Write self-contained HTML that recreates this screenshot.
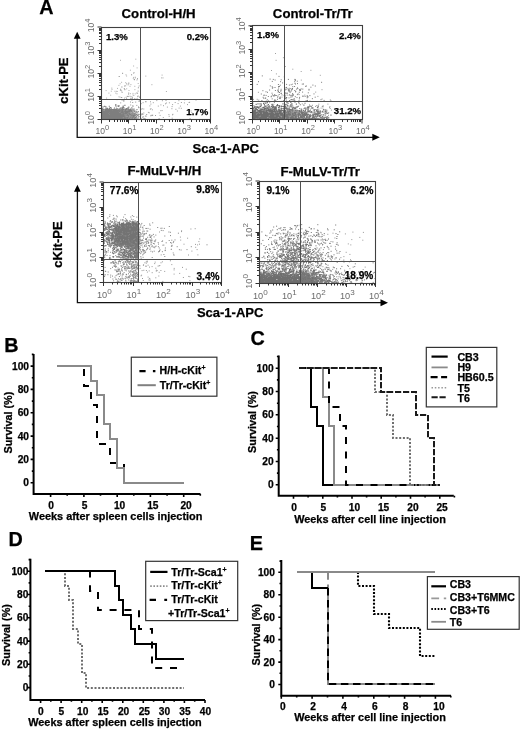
<!DOCTYPE html>
<html><head><meta charset="utf-8"><title>Figure</title>
<style>html,body{margin:0;padding:0;background:#fff;}svg{display:block;}</style>
</head><body>
<svg width="520" height="730" viewBox="0 0 520 730" font-family="'Liberation Sans', Arial, Helvetica, sans-serif">
<rect width="520" height="730" fill="#fff"/>
<text x="39.2" y="13.8" font-size="19.8" font-weight="bold" stroke="#000" stroke-width="0.25">A</text>
<text x="4.2" y="351.8" font-size="19.8" font-weight="bold" stroke="#000" stroke-width="0.25">B</text>
<text x="250.6" y="345.2" font-size="19.8" font-weight="bold" stroke="#000" stroke-width="0.25">C</text>
<text x="8.6" y="545.8" font-size="19.8" font-weight="bold" stroke="#000" stroke-width="0.25">D</text>
<text x="249.8" y="549.5" font-size="19.8" font-weight="bold" stroke="#000" stroke-width="0.25">E</text>
<path d="M77.2 36.8 V137.3 H374.8" fill="none" stroke="#111" stroke-width="1.3"/>
<path d="M77.2 31.8 L73.8 38.8 L80.6 38.8 Z" fill="#000"/>
<path d="M379.8 137.3 L372.3 133.8 L372.3 140.8 Z" fill="#000"/>
<path d="M125.1 118.9h0M119.6 114.4h0M102.3 115h0M102.1 118.9h0M126.4 118.9h0M116.5 115.5h0M113.2 118.7h0M108 114.9h0M114.3 111.2h0M119.4 118.4h0M129.8 117.8h0M121.3 115.1h0M120.1 111.7h0M115.5 114.7h0M108.2 117.2h0M121 118.1h0M113.7 118.6h0M115.1 114.3h0M121.1 113.3h0M106.2 112h0M125.4 118.7h0M128 116.1h0M128.1 118.6h0M124.3 111.8h0M115.9 118.2h0M129.2 117.9h0M111.4 114.5h0M118.8 118.5h0M106.4 118.9h0M130.5 116.8h0M120.2 112h0M102.1 118.9h0M111.1 117.4h0M116.2 118.5h0M110.5 112.6h0M112.2 118.7h0M130.2 118h0M102.1 113.7h0M121.5 117.6h0M107.6 111.2h0M107.7 113.2h0M117.5 118.5h0M128.4 116.3h0M127.9 112.8h0M108.5 116.8h0M134.6 113.6h0M125.6 112.2h0M112 117.6h0M120.2 118.8h0M109.7 117.6h0M125.7 118.9h0M110.6 111.4h0M107.4 114.2h0M126 110.8h0M128.9 118.9h0M126.8 117.7h0M118.2 115.7h0M109.6 113.2h0M130.1 118h0M102.6 114.3h0M111 113.7h0M112 118.9h0M126.3 117.7h0M126.2 118.6h0M102.1 117.7h0M129.6 118.6h0M104.7 106.4h0M122.2 115.9h0M127.1 116.4h0M114.8 118.8h0M128.8 118.5h0M114 110.5h0M131.5 118.3h0M118.7 113.9h0M119.9 115.9h0M103.8 118.5h0M124.3 117.4h0M126.6 117.1h0M125 116.3h0M116.6 116.8h0M108.3 117.6h0M103.5 117.1h0M115.2 117.9h0M123.6 116.8h0M131.4 111h0M104.5 112.8h0M126.9 110.5h0M131.5 111.1h0M129.3 111.7h0M106.5 115.7h0M108.5 113.7h0M130.2 114.3h0M125.6 118.2h0M102.2 114.6h0M111.4 116.6h0M108.7 115.4h0M118.5 114.1h0M119.5 118.9h0M121.8 114.5h0M113 118.9h0M131 117.8h0M103.5 117.6h0M126 117.7h0M125.1 117.3h0M125.3 109.5h0M106.4 112.7h0M117.3 113.2h0M111.2 117.4h0M121.8 111.6h0M108.9 109.5h0M123.1 112.6h0M113.9 109.4h0M123.8 118.6h0M110.5 110.2h0M118.2 113.5h0M109.7 118.9h0M113.7 118.9h0M118.3 117.4h0M116.6 116.6h0M123.5 109.4h0M115.1 111.5h0M112.2 117.8h0M123.9 118.9h0M124.6 117.2h0M117.4 118.9h0M111.4 114.8h0M110 118.9h0M120.5 116.9h0M102.1 116.1h0M126 114.2h0M122.7 117.5h0M129 116.6h0M111.5 114.1h0M113.3 115.8h0M126.5 115h0M122.2 115.8h0M119 114.5h0M130 111.2h0M118.3 118.9h0M133.9 114.7h0M114.5 112.7h0M122.2 115.6h0M115.6 112.3h0M120.6 114.4h0M107.3 116.7h0M124.6 115.9h0M106.2 115.6h0M124.2 117h0M106.3 117.5h0M127.6 112.1h0M102.3 113h0M113.5 116.8h0M106.8 113.5h0M126.9 109.3h0M108.8 118h0M111.5 117.7h0M121.5 118.8h0M115.2 117.5h0M103 117.1h0M121.1 109.5h0M111 118.3h0M104.1 117.5h0M112 118.6h0M117.6 111.4h0M110.7 107.6h0M123.7 116.2h0M117.6 115.3h0M123.1 113.9h0M105.5 111.6h0M112 111.3h0M130.2 111.7h0M109.1 116.4h0M102.3 118.9h0M119.9 112.8h0M128.4 118.9h0M129.9 116h0M116 114.6h0M113 116.1h0M121.3 116.3h0M122.4 117h0M128.5 110.6h0M104 114.6h0M128.9 114.8h0M112.5 118.6h0M132.7 118.7h0M103.9 114.2h0M105.1 114.8h0M125.3 116.6h0M110.7 118h0M128.1 114.4h0M129 115.6h0M121 112.9h0M105.9 114.5h0M104.2 118.3h0M119.6 118.9h0M111.3 118.9h0M105.6 116.1h0M103.4 114.5h0M124.9 109.4h0M127.2 111.2h0M116.1 111.8h0M122.3 118.9h0M126.7 116h0M126.8 118.9h0M117.1 117.6h0M121.7 115h0M104.5 116.3h0M116.1 111.8h0M106.3 118.9h0M125.1 115.7h0M126.3 113.3h0M120.3 112.6h0M130.3 109.1h0M107.1 112.8h0M115.8 112h0M117.7 114.3h0M126.7 118.8h0M102.1 116.5h0M128.5 110.8h0M116.8 111.7h0M127.2 116.9h0M115.6 116.8h0M128.6 110.2h0M117.2 108.8h0M127.5 112.5h0M134.4 115.6h0M123.6 118.9h0M114.2 114.5h0M113 117.9h0M131 116h0M115.8 104.6h0M113.5 112.6h0M128.5 118.9h0M105.1 117.1h0M108.5 115.3h0M124.7 118.2h0M129.2 115.5h0M128.1 118.4h0M113.2 117h0M114.8 117.2h0M129.9 113.1h0M120.1 110h0M125.2 118.9h0M126.7 115h0M128.3 116.5h0M126.4 117.9h0M115 112.3h0M124.6 116.7h0M113.7 111.1h0M107.9 118.3h0M106.9 115.1h0M128.2 117.6h0M109.3 117.9h0M107.5 115.6h0M106.5 112.3h0M103.1 118.8h0M119.4 110.2h0M115.2 117.8h0M103.9 117.8h0M117.2 118.9h0M126.1 116.6h0M102.1 118.1h0M120.4 116h0M115.9 118.3h0M105.4 118.7h0M103.7 112.9h0M110.3 118.4h0M112.6 112.9h0M120.4 118.9h0M110.4 115.8h0M119.3 113.2h0M124.7 115.8h0M117.2 112.1h0M116.8 113.7h0M106.4 114.4h0M109 117.3h0M112.7 115h0M116.6 112h0M102.3 114.9h0M105.8 118h0M130.1 116h0M134.9 117h0M104.8 116h0M120 118.9h0M128.5 112.8h0M117.1 114.7h0M118.1 115.4h0M103 117.7h0M121.1 117.4h0M115.6 118.9h0M128.8 112.7h0M124.3 118.3h0M111.4 116.5h0M127 116.6h0M129.2 116.7h0M113.6 117.3h0M120.9 111.7h0M103.1 117.4h0M115 117.8h0M128.6 116h0M106.4 116.9h0M110.8 112.7h0M114.3 111.9h0M106.9 118.9h0M117.4 110.8h0M112 117.8h0M122.8 118.9h0M109.5 111.4h0M127.7 114.5h0M126.9 115.7h0M102.1 109.3h0M127.2 116.1h0M127.5 117.7h0M115.8 116.7h0M121 109.6h0M116.4 118.9h0M112.3 117.3h0M114.8 117h0M128.1 118.7h0M128.9 115h0M116.4 114.9h0M112.5 118.9h0M124.2 116.2h0M123.2 114.9h0M110.8 118.9h0M114.5 115.4h0M108.5 117.8h0M113.4 113.5h0M112.4 114.3h0M103.6 112.7h0M120.5 116.9h0M116.5 118.9h0M119.9 115.8h0M107.8 115.2h0M116.4 118.1h0M109.6 113.3h0M122.5 116.8h0M124.5 115.3h0M104.4 112.9h0M107.3 109.3h0M126.7 117.7h0M125.8 118.8h0M104.9 116.2h0M112 116.9h0M120.2 114.3h0M127.1 111.5h0M109.1 118.4h0M114.1 117.5h0M124.4 111h0M120.3 115.1h0M113.8 113.3h0M115.7 118.1h0M131.7 111.4h0M126.7 118.1h0M126.7 117.1h0M115.4 110.8h0M129.1 116h0M126.7 114.2h0M122 116.4h0M117.9 116h0M132.3 114.4h0M113 111.3h0M104.7 113.7h0M126.6 115.7h0M117.7 115.4h0M125 111.5h0M106 118.9h0M126.4 116.5h0M124.3 110.6h0M102.5 117.1h0M124.3 114h0M118.7 118.4h0M127.5 116.4h0M108.8 117.7h0M114.9 116.7h0M135.1 118.7h0M127.2 118.1h0M111.6 115.7h0M126.2 118.8h0M119.9 115.1h0M129.3 117.4h0M104.9 118.9h0M129.8 112.6h0M127.4 117.9h0M131.2 118.8h0M122.8 118.9h0M107.3 118.4h0M111.8 117.8h0M120.5 117.1h0M125.4 117.3h0M104.4 114h0M121.2 110.2h0M113.2 115.9h0M117.2 109.3h0M114.8 111.8h0M114.6 112.5h0M117.2 113.2h0M110.1 115.5h0M114.2 117.1h0M120.9 112.3h0M112.2 116.9h0M102.1 116.3h0M110 116.4h0M125.7 114.5h0M104.8 112.8h0M120.7 113.2h0M128.2 116.4h0M117.5 112.7h0M113.2 110.9h0M107 113.2h0M119 117.4h0M107.3 112.3h0M128.4 118.4h0M120.3 115.9h0M116.9 114.2h0M118.3 118h0M102.1 114.2h0M115.2 114.5h0M129 114.2h0M107.9 114.3h0M127.1 118.8h0M103.2 118.9h0M129.2 118.9h0M102.1 118.8h0M116.8 116.6h0M107.4 117h0M114.1 118.8h0M119.3 118.9h0M106.4 118.5h0M125.9 118.3h0M109.5 117.3h0M113.8 118.4h0M122.2 117.6h0M129.6 116.6h0M113.3 116.2h0M111.2 118.8h0M126.3 115.5h0M108.3 110.4h0M124.9 118.2h0M126.1 118.4h0M133.7 116.4h0M111.3 118.7h0M106.2 118.9h0M128.3 117.1h0M105.3 117h0M106.3 116.3h0M116.8 110h0M120.5 117.4h0M116.4 111.9h0M111.4 114.2h0M132.3 113.5h0M111 118.4h0M118.6 117.3h0M125.1 118.9h0M111.5 113.2h0M104.2 117.1h0M126.2 118.9h0M126.5 115.7h0M125.4 113.5h0M115.7 118.3h0M103.6 118.9h0M106 117.2h0M111.5 115.6h0M119.4 111.6h0M117.5 112.5h0M131.6 118.9h0M103 117.3h0M110.4 118.6h0M129.2 115.1h0M113.1 115.9h0M119.8 118.9h0M110.6 117.8h0M115.1 116.4h0M102.9 116.6h0M129.4 115.5h0M117.5 117.7h0M112.5 116h0M125.8 111.6h0M130.7 118.9h0M102.6 116.2h0M120.9 111.2h0M115.3 114.2h0M106.1 117.7h0M121.7 114.9h0M119.9 113.2h0M106 115.6h0M128 116.8h0M102.1 118.9h0M133.2 117.2h0M130.4 118.9h0M127.8 113.1h0M116.9 117.1h0M116.8 111.3h0M123.4 112.2h0M102.1 118.3h0M119.7 116h0M113.8 118.9h0M104.2 116.3h0M106.6 118.8h0M128.6 118.5h0M126.9 116.8h0M123.1 114.2h0M103.3 117.1h0M113.8 118.4h0M114.5 114.7h0M106.1 111.3h0M114.8 115.4h0M128.5 118.2h0M114.1 118.4h0M103 111.6h0M110.4 114.4h0M122.1 118.9h0M110.2 117.2h0M114.3 115h0M110.3 109.6h0M119.2 117h0M115 114.2h0M107.6 117.7h0M123.2 111.6h0M127.7 113.9h0M118 113h0M131.9 118.8h0M120.1 115.1h0M126.6 113.2h0M124.8 114h0M121.3 117.1h0M124 117.4h0M121.9 111.7h0M113.6 118.1h0M121 109.7h0M105.9 117.8h0M131.9 115.5h0M110.8 118.4h0M111.5 115.8h0M115.3 117.8h0M117.2 118.6h0M105.3 115.9h0M114.7 114.2h0M126.7 114.9h0M102.7 117.5h0M124.1 116.1h0M121.5 114.1h0M120 116.7h0M111.2 115.9h0M107.2 117.3h0M102.1 113.6h0M103 111h0M113.5 117.9h0M125.4 114.4h0M117.8 111.4h0M120.6 116h0M108.3 117.4h0M105.6 117h0M102.2 116.9h0M128.7 113.6h0M116.5 118.4h0M126.2 115.2h0M125.1 118.8h0M103.4 116.7h0M104.4 118.3h0M103.9 116.4h0M129 115.8h0M117.1 113.8h0M118.7 118h0M129.2 114.6h0M109 118.6h0M114.2 117.3h0M122.6 114.7h0M120.5 113.4h0M103.3 118.6h0M133.5 114.4h0M123.4 118.8h0M130.2 110.6h0M121.8 113.9h0M128.6 118.7h0M114.3 113.4h0M128.2 117.5h0M118.3 118.6h0M127.3 115.4h0M120.4 116h0M104.7 116h0M106 118.2h0M131.3 117.3h0M108.9 116.6h0M127.6 118.7h0M109.3 118.9h0M124 118.9h0M124.4 118.4h0M111.4 108.2h0M107.9 115.7h0M123.5 118.8h0M128.7 116.2h0M120.5 111.4h0M110.2 115.1h0M118.4 117.9h0M122.9 115.5h0M133.1 113.1h0M127.7 115h0M108.2 117.7h0M118 115h0M113.2 115.8h0M127.8 117h0M119.2 116.9h0M118 118.5h0M105.8 117.7h0M127.7 118.9h0M126.8 112.5h0M123.8 117.4h0M133 118.5h0M128.5 117.8h0M123.8 116.8h0M120.2 118.6h0M111.2 118.3h0M110.1 118.9h0M125.1 117.7h0M125.9 109h0M121 111.6h0M130.2 116.1h0M114.9 111.3h0M108.2 118.9h0M116.9 110.6h0M110.3 117.3h0M107.5 116.5h0M110.1 116.1h0M113.9 115.5h0M107.9 118.3h0M128 114h0M106.8 118.2h0M133.1 117.4h0M102.1 116.6h0M130 118.9h0M108.4 117.5h0M126.7 116.9h0M128.7 113.5h0M114.7 109.6h0M105.3 113.2h0M116.5 112.1h0M109.3 110.9h0M116.3 117.1h0M114.8 117.1h0M102.9 117.8h0M112.5 111.9h0M124.6 118.8h0M105.1 116.8h0M106.9 117.3h0M129.3 118.9h0M116 118.5h0M103 110.3h0M123.8 118.9h0M114.7 117.9h0M117.2 109.8h0M125.3 111.9h0M114.7 114h0M125 113.5h0M122.4 108.6h0M118.8 117.2h0M103.6 114h0M103.2 114.5h0M127.8 115.9h0M126.2 118.5h0M125 113.7h0M120.6 118.8h0M128.2 114.4h0M102.2 114.9h0M122.1 114.9h0M119.2 111.9h0M120 113.6h0M127.4 117.2h0M102.5 113.6h0M102.1 117h0M127.7 115.6h0M115.7 113.8h0M129.1 115.1h0M116.5 115.1h0M127.6 112.4h0M123 116.3h0M112.9 118.9h0M131.7 115.9h0M113.5 114.2h0M115.5 113.1h0M128.7 115.9h0M125.7 118.6h0M126.1 115.5h0M102.1 118.7h0M129.2 116.9h0M124.3 110.5h0M112.2 114.9h0M123.3 116.4h0M114.6 118h0M126.5 109.8h0M103.8 114.9h0M113.4 113.8h0M113.6 118.7h0M129.6 118.8h0M128.5 117.1h0M124.9 118.9h0M127.8 112.3h0M123 113h0M105.3 112.7h0M103.6 118.9h0M126.8 115.6h0M126.9 110.1h0M118.5 114.6h0M106.4 116.7h0M109.2 115h0M128.6 116.8h0M104.4 116.3h0M121.7 118.9h0M119.2 118.6h0M125.5 112.3h0M117.8 115.8h0M120.8 111.2h0M124.1 117h0M122 109.2h0M126.9 113.6h0M122.7 118.5h0M129.3 114.1h0M124.4 113.1h0M128.6 116.5h0M123.2 115.3h0M106.2 117.8h0M134.8 114.7h0M119.4 115.3h0M121.8 111.8h0M119.1 118.3h0M108.6 114.7h0M104.5 114.7h0M102.7 115h0M104.2 118.8h0M124.2 118.4h0M126.8 113.1h0M105.9 113.3h0M124.5 113.3h0M123.7 115.5h0M134.5 118.9h0M117.5 111.9h0M109.3 114.9h0M134.2 117h0M128.3 114.7h0M126.1 115.7h0M104.1 113.6h0M109.1 118.9h0M126.5 118.5h0M124.8 113.5h0M120.1 118h0M109.7 118h0M107.3 117h0M125.7 111.5h0M122.8 118.4h0M113.3 116.1h0M124.4 118.7h0M124.8 117h0M117.3 117.7h0M136 118.7h0M128.8 118.4h0M126.3 117h0M124.1 113.3h0M131.5 117.9h0M111 115.7h0M109.2 109.6h0M123.9 117.2h0M111.1 113.7h0M129.6 118.9h0M125.1 111.9h0M103.4 112.3h0M127.4 115.1h0M123.3 110.1h0M107.5 118.4h0M123.4 118.9h0M109.9 117.6h0M110.1 113.5h0M108.8 116.2h0M110.8 114.5h0M131.9 114.4h0M126.1 109.3h0M116 113.7h0M104.5 118.8h0M108.2 117.3h0M121.3 118.7h0M106.2 111.7h0M118.6 118.9h0M109.5 115.3h0M129.5 117.2h0M126.8 116h0M115 115.9h0M104 114.2h0M108 109.2h0M103.5 115.9h0M107.6 118.8h0M118.7 116.2h0M110 116.9h0M107.3 118.6h0M102.1 115.2h0M106 118.9h0M123.2 116.1h0M107.6 115.3h0M102.1 111h0M103 115.4h0M105.9 111.9h0M116.6 112.6h0M118.1 116.9h0M108.7 118h0M111.6 116.4h0M128.7 116.4h0M110.5 118.9h0M118.4 118.9h0M122.8 112h0M133.4 116.8h0M126.1 118.7h0M131.3 116.2h0M103.2 114.8h0M107.3 118.9h0M102.1 113.7h0M126.7 114.4h0M118.4 117.9h0M126.2 115.1h0M121.1 113.6h0M104.9 118.9h0M104.6 117.8h0M107.6 115.5h0M115.6 110.5h0M127.7 117.4h0M122.7 114.7h0M128.4 118.9h0M103 118.5h0M117.9 117.4h0M103.5 118.9h0M112.4 117.7h0M115.4 113.6h0M108.3 111.1h0M128.4 111.7h0M111.8 112.2h0M106.5 114.4h0M117.1 113.7h0M126.1 117.2h0M113.8 114.4h0M131.8 107.9h0M123.8 116.9h0M105.8 115.3h0M109.3 116.7h0M103.9 117.2h0M107.5 114.4h0M107.2 118.2h0M102.1 116h0M108.3 112.3h0M128.6 118.9h0M115 110.5h0M113.6 114.1h0M118.9 112.7h0M124.8 115h0M105.2 117.6h0M108.5 117.6h0M127.8 115.7h0M112.9 109.6h0M107 116h0M127.3 111.1h0M124 114.6h0M129.1 117.3h0M129 113.4h0M106.5 117.5h0M123.5 118.2h0M127.5 115.8h0M130 118.6h0M102.1 115.4h0M124.7 113h0M110 115.1h0M127.6 117.6h0M131.3 116.7h0M128.3 118.9h0M116.1 109.5h0M108.4 118.9h0M126.5 114.3h0M110 117.7h0M115.9 118.9h0M123.2 118.9h0M133.2 115.9h0M134.8 110.7h0M125.7 117.9h0M128.2 117.7h0M126.1 118.2h0M109.2 117h0M103.3 118.9h0M121.3 116.4h0M114 116.1h0M128.6 118.4h0M123.3 111h0M134.5 118.9h0M123.9 116.5h0M128.1 118.2h0M126.6 116.7h0M104.9 113.7h0M123.6 117.7h0M111.4 117.6h0M125.4 112.9h0M119.2 108.8h0M120 116.2h0M115.9 116.9h0M126.3 118.9h0M110.7 115.5h0M120.1 117h0M106 113.1h0M119.9 110.7h0M117 114h0M114.5 108h0M122.2 113.6h0M129 118.9h0M103.2 116.4h0M121.1 115.1h0M108.1 116.2h0M108 115h0M128.3 118.3h0M116.6 118h0M121.8 116.2h0M102.7 116.4h0M102.6 118.1h0M131.3 116.3h0M109.7 113.4h0M113.3 117.7h0M108.3 109.7h0M129.4 114.7h0M121.3 115.9h0M103.8 112.6h0M107.2 118.1h0M133.4 115.4h0M121.7 118.9h0M131.3 118.9h0M127.8 117.8h0M104.8 116h0M131 109.3h0M112.2 118.5h0M105.9 118.2h0M115.5 114.7h0M128.2 117.3h0M120.1 115.7h0M129.1 117.9h0M126.3 109.3h0M109.4 118.8h0M124.1 114.1h0M124.8 117.4h0M128.8 116.9h0M112.9 116.7h0M106.1 118.2h0M123.6 116.7h0M105.7 117.4h0M120.1 113.4h0M104.2 117.3h0M124.1 113.6h0M128.9 117.3h0M111.1 116.9h0M127.1 116h0M126.4 108.6h0M126.5 117.8h0M128.4 116.8h0M117.3 115.8h0M118.7 115.5h0M117.5 112.3h0M115.4 112.4h0M116.6 115.3h0M114.6 118.1h0M115.9 118h0M126.2 112.5h0M125.8 118.6h0M118 114.8h0M110.3 116.1h0M122.3 112h0M103.3 117.6h0M122.9 115.1h0M106.3 118.9h0M119.6 118.9h0M130.4 117h0M126.7 114.9h0M116.6 115.6h0M113.6 114.9h0M128 114.9h0M113.7 114.7h0M111.2 115.6h0M118 115.4h0M123.7 116.5h0M103.3 115.4h0M103.5 117.8h0M125.4 118.9h0M129.3 116.8h0M124.5 115.2h0M113.3 114.3h0M102.1 113.6h0M122.8 118.9h0M106 114.2h0M123.9 117.9h0M123.4 117h0M129.3 117h0M108.6 118.9h0M125.3 118.1h0M127.1 118.8h0M118 112h0M127.5 115.3h0M104.1 114.8h0M123.9 117.4h0M128.9 116.4h0M122.7 118.4h0M104.2 115.4h0M131.5 118.9h0M107.3 113.8h0M123 118.6h0M120.9 118.4h0M124.6 118.8h0M113.5 114.5h0M124.2 113.3h0M119.4 116.7h0M124.5 110.3h0M123.4 110.8h0M124.7 112.8h0M128.9 116.7h0M119.8 117h0M133.7 113.3h0M123.7 118.9h0M124.3 111h0M124.9 114.6h0M122.9 116.5h0M105.4 118.3h0M129 114.2h0M124.5 118h0M122.2 111.4h0M125.3 115.4h0M134.6 116.5h0M115.2 115h0M126.1 117.2h0M112.6 118.9h0M113.2 117.5h0M104.1 114h0M124.3 118.1h0M105.4 109.9h0M126.5 118.9h0M124 117.5h0M119.7 118.8h0M103.2 118.7h0M132.8 118.5h0M106.1 108.3h0M116.1 114.1h0M127.2 111.4h0M110.6 118.1h0M130.3 118.4h0M133.2 115.7h0M122.9 118.7h0M113.3 115h0M120.5 113.8h0M110.1 115.9h0M129.8 118.1h0M119.2 117.6h0M117.6 117.3h0M105.2 111.9h0M114.7 110.4h0M123.2 106.1h0M113.2 114h0M118.6 114.5h0M108.8 118.2h0M116.2 118.9h0M112.1 116.6h0M116 117h0M130.9 115.3h0M121.1 118.9h0M103.7 114.4h0M112.7 118h0M132.1 110.9h0M104.8 118.2h0M104.5 116.8h0M128.3 116.8h0M128 116.1h0M112 118.9h0M129.1 113h0M105.7 117.8h0M122.9 116.3h0M127.9 117.7h0M114.6 113.2h0M127.7 117.6h0M121.4 118.8h0M126.7 118.5h0M114.4 110.4h0M121.7 118.3h0M124.2 118.5h0M126.7 113.2h0M105.6 116.2h0M127.5 118.1h0M119.4 117.7h0M113 110.7h0M122.2 113.8h0M114.2 117.3h0M126.5 114.1h0M134.2 117.4h0M102.1 115.1h0M102.1 118.3h0M125.8 116.3h0M129.2 116.6h0M105.4 117.1h0M105.4 118.7h0M102.4 114.4h0M135.7 114.9h0M113.2 118.6h0M125.4 112.5h0M126.8 111.4h0M124.3 118.8h0M116 118.9h0M125.6 111.7h0M129 116.7h0M120.3 115.7h0M102.3 115.6h0M102.1 118.9h0M114.7 112.5h0M119 117.7h0M130.9 118.9h0M116.6 113.3h0M102.1 118.6h0M127.8 116.9h0M123 116.4h0M114.1 112.4h0M131.7 118.3h0M124.6 116.4h0M132.7 109.2h0M108.5 117.4h0M102.1 112.8h0M130.7 109.9h0M103.7 118.1h0M106.5 116.9h0M113.9 115.6h0M117.6 109.7h0M126.3 118.9h0M115.8 112.5h0M131.5 114.4h0M102.1 117.9h0M102.3 115.9h0M114.9 115h0M107 116.9h0M123.3 117.8h0M118.6 116.9h0M104 114.9h0M104.9 115.7h0M109.4 113h0M105 115.4h0M107 116.8h0M105.8 117.6h0M133 115.2h0M119.8 118.9h0M112.5 118.2h0M128 117.3h0M127.2 118.6h0M127.3 117.6h0M102.7 116.1h0M123.8 116.8h0M104.8 115.6h0M107 115.5h0M124.3 117.2h0M112.2 115.6h0M121.9 115.9h0M123.3 118.4h0M122.9 111.2h0M116.1 116.4h0M128.2 107.6h0M106.2 113.8h0M103 115.7h0M134.9 113.1h0M125.2 112.1h0M127.1 115h0M122.4 107.2h0M106.7 110.7h0M127.6 111.5h0M127.3 112.7h0M121.2 115.9h0M103.5 114.6h0M128.1 117.9h0M128 118.9h0M108.8 110h0M116.2 114.7h0M111.3 116.9h0M123.9 114.9h0M104.3 118.6h0M132.9 118.9h0M112.3 118.4h0M125 115.2h0M114.2 112.7h0M126.9 112.2h0M109.3 116.7h0M125.1 110.6h0M123.6 115.2h0M114.9 110.8h0M116.6 108.9h0M125.4 116h0M114.6 116.4h0M115.2 116.1h0M116.6 118.1h0M131.2 113.1h0M127.7 115.2h0M102.1 117.8h0M116.9 113.2h0M110.6 109.6h0M129.1 117.9h0M123.3 113.3h0M124.2 113.1h0M128.5 112.3h0M125.4 115.1h0M110.1 116.4h0M116.7 115.5h0M102.1 117.4h0M113.8 109.2h0M123.3 118.2h0M138.5 114.9h0M107.5 116.4h0M122.8 116.9h0M108 118.9h0M116.8 109.4h0M119.2 118.5h0M125.9 118.9h0M127.3 118.9h0M102.1 118.1h0M123.8 116.7h0M125.9 117.1h0M124.7 117.3h0M105.6 112.9h0M106.2 109.5h0M134.7 113.6h0M129.2 111.9h0M108.2 118.9h0M129.1 116.7h0M121 116.4h0M128.5 115.8h0M115.1 116h0M115.8 118.2h0M113.3 116.6h0M127.4 117.9h0M112.4 118.3h0M116.1 117.7h0M122.4 111.1h0M119.2 117.4h0M125.3 115.1h0M108.3 112h0M133 116.1h0M108.6 116h0M107.2 116.7h0M105.5 113.2h0M120.3 113.2h0M114 116.8h0M112.5 116.8h0M123.1 116.8h0M111.3 113.6h0M113.9 115h0M128.4 118.3h0M115.7 115.3h0M128.4 117.9h0M122.9 111.9h0M125 114.6h0M103.8 115.5h0M136.4 116.5h0M112.2 117.5h0M107 117.3h0M116.2 117.9h0M110 114.9h0M102.2 116.6h0M109.8 117.3h0M120 114.8h0M106.9 116.4h0M112.1 117.1h0M105.9 117.3h0M114.3 117.8h0M121.4 118.5h0M108.2 118.8h0M127.8 115.6h0M129.4 114.4h0M105.2 117.3h0M125.8 114.3h0M120.9 115.5h0M103.7 109.4h0M129 114.8h0M130 118.7h0M127.5 118.5h0M114.5 117.8h0M107.9 118.4h0M120 111.6h0M110 117.1h0M117.8 118.9h0M114.4 116.6h0M107.7 117.5h0M108.5 118.6h0M115.5 114.2h0M134.7 118.1h0M114.8 117.3h0M104.5 111.6h0M128.5 113.4h0M119.3 112.8h0M118.2 118.2h0M116.5 115.4h0M127.1 108.6h0M110.8 115h0M128.5 118.5h0M128.3 116.4h0M123 118.1h0M127 112.5h0M126.8 111h0M116 116.5h0M105.5 118.4h0M128.2 118h0M120 110.3h0M102.9 113.7h0M126.5 118.9h0M108.3 118.3h0M124.9 118.9h0M127.3 118.9h0M114.5 113.7h0M118.2 117.5h0M128.2 116.5h0M112.8 113.6h0M105.4 116.2h0M126.1 116.3h0M103.7 115.2h0M105.4 114.8h0M102.6 118.7h0M105.9 106.9h0M110.1 113.9h0M118.9 118.1h0M119.8 117.3h0M116.1 110.4h0M127.4 112.6h0M114.4 114.8h0M109.8 116.3h0M107.2 118.9h0M123.3 118h0M115.1 116.7h0M133.6 110.1h0M113.9 111.8h0M122.9 117.4h0M130.8 114.2h0M134 115.2h0M109.9 113.5h0M105.6 117.8h0M106.3 118.9h0M116.5 118.9h0M128.7 114.7h0M128.7 118.5h0M103.7 117h0M106.9 114.4h0M125.7 110h0M104.4 113.9h0M126.9 118.9h0M126.5 114.6h0M117.6 117.1h0M113.7 113.8h0M109 110.9h0M127.9 114.8h0M127.7 111.9h0M120 113.5h0M108.3 114.4h0M120.2 116.4h0M127 112.7h0M128.5 118h0M128.6 118.5h0M117.4 114h0M125.1 118.9h0M103 114.6h0M124.3 117.3h0M124 117.3h0M112.3 117.4h0M109.3 115.9h0M103.5 112.9h0M116.6 114.7h0M104.6 116.1h0M112 118.9h0M114 118.2h0M115.8 105.9h0M118.3 116h0M114 116.4h0M122 118h0M112.2 118.7h0M125.2 117.1h0M127.5 115.9h0M119.3 118.9h0M102.1 112.9h0M103.5 113.6h0M132.3 114.7h0M112.8 118h0M113.1 112h0M106.8 117.4h0M136.1 117.4h0M129.7 116.1h0M116 114.8h0M127.5 118.2h0M121 112.3h0M123.2 117h0M111 110.8h0M129.5 117.8h0M118 114.6h0M116.6 114h0M128.1 111.1h0M125.3 112.2h0M110.3 112.9h0M107.6 113.5h0M117.3 116.7h0M122.9 110.6h0M131.8 114.7h0M125.3 116.1h0M123 114.5h0M103.1 115.4h0M102.7 115h0M128.7 116.8h0M120.4 118.9h0M120.1 115.8h0M124.3 116.5h0M129.8 115.7h0M111.7 117.9h0M120.6 110.5h0M112.2 115.3h0M102.1 116.2h0M112.6 116.8h0M115.8 116.7h0M129.1 118.9h0M127.5 118.9h0M131.4 118.9h0M102.1 109.8h0M106.8 118.7h0M110.9 113.3h0M110.9 114.5h0M106.1 110.6h0M107.5 117.7h0M108.4 116.9h0M117.4 116.3h0M104.2 114.4h0M107.9 113.3h0M123.5 114.5h0M122.4 111.3h0M109.7 117.2h0M110.7 118.9h0M118.1 111.4h0M102.3 115h0M104.2 112.6h0M116.8 112h0M120.4 118.9h0M118.3 118.9h0M120.1 113.1h0M115.5 112.6h0M114.1 116.5h0M103 115.2h0M114.6 113.9h0M129.8 116.4h0M131.4 118.9h0M126.2 112.7h0M125.8 114.2h0M113.3 117.2h0M118.1 115.3h0M104.3 114.6h0M120.4 114h0M126 114.9h0M117.9 114.9h0M106 111.3h0M111.1 115.5h0M128.3 112.8h0M109.5 117.4h0M118.4 114.9h0M118.8 115h0M118.3 117.9h0M127 118.3h0M126.9 113.2h0M125.9 118.9h0M112.7 113.5h0M105.9 112.7h0M104.1 117.5h0M130.2 111h0M109.8 117.5h0M122.4 113.3h0M124.4 118.9h0M132.8 118.9h0M119.9 113h0M122.6 110.5h0M103.1 106.8h0M111.3 117.7h0M106.7 112.8h0M118.5 114.7h0M125.8 113.3h0M108.2 117h0M110.5 118.9h0M125.5 118.9h0M126.8 115.5h0M106 118.4h0M102.4 115.7h0M124.5 116.4h0M118.6 118.9h0M117.7 118.9h0M118.7 118.3h0M125.6 116.4h0M104.3 112h0M118.1 105.8h0M119.5 117.5h0M109.7 118.1h0M130.4 115.8h0M113.6 113.9h0M131.6 116.8h0M114.3 115.5h0M106.8 112.1h0M123.6 117.4h0M102.9 118.8h0M126.4 118.3h0M113.7 114.7h0M116.3 118.6h0M127.4 114.8h0M111.4 117.7h0M115.4 117.2h0M115.6 112.9h0M107.3 116.3h0M103.2 114.8h0M120 118.9h0M128.3 114h0M106.2 117.7h0M113.2 118.9h0M127.5 117h0M127.3 118.9h0M103.1 116.3h0M113.4 113h0M123.8 118.1h0M127.4 113.8h0M117.2 109.3h0M109.3 113h0M109.7 118.1h0M104.7 118.9h0M121.2 115.5h0M122.8 114.4h0M103.4 118.9h0M124.5 115.1h0M103.8 117.6h0M107.1 117.1h0M129.2 115.8h0M120.5 112.3h0M129.1 114.7h0M113.6 115.7h0M122.2 113.6h0M127.9 110.9h0M111.8 118.9h0M106.4 116.3h0M134.9 117.2h0M107.9 118.9h0M114.5 113.3h0M126.9 111.2h0M104.3 114.2h0M110.4 117.3h0M109.6 117.2h0M127.9 117.4h0M126.1 114.7h0M127.3 118.9h0M116.1 114.2h0M115.9 118.7h0M104.3 117.7h0M113.2 116.8h0M118.9 112.8h0M130.6 114.2h0M127.7 117.5h0M119.4 116.8h0M131.1 116.8h0M124 113.5h0M125.8 118.3h0M115.3 118.2h0M103.5 118.6h0M128.7 116.4h0M116.9 118.7h0M120.8 115.6h0M102.3 112.6h0M102.5 112h0M112.1 118.9h0M106.6 118.3h0M104.8 117.1h0M122.7 114.1h0M123.1 116.8h0M107.9 115.7h0M121.4 118h0M128.3 118.9h0M122.4 116.4h0M124.5 114h0M128.4 110.8h0M116.9 118.9h0M111.1 118.6h0M123.9 117.7h0M118.3 106.5h0M125.8 111.3h0M102.9 114.4h0M125.8 111.7h0M125.8 118.8h0M127.3 112.5h0M121.1 109.8h0M122.3 110.5h0M106.6 118h0M122.2 116.7h0M129.1 116.7h0M127.1 114.8h0M107.3 117.4h0M124.8 118.2h0M120.8 116.9h0M127 114.6h0M109.3 106.2h0M111.8 117.1h0M114.4 118.9h0M122.7 117.3h0M113.5 117.4h0M103.1 115.5h0M111.5 109.6h0M113.8 114.6h0M128.4 117.1h0M117.7 113.1h0M117.3 118.9h0M111.4 118h0M109.8 118.5h0M111.2 116.8h0M128.5 118.9h0M117.6 117.6h0M112.4 113.7h0M111.4 117.4h0M131.7 118.9h0M102.1 115.2h0M109.5 118.4h0M122.7 109.7h0M104.7 113.5h0M115 117.5h0M120.4 108h0M131.7 113.1h0M118.9 118.9h0M102.1 115h0M110.8 118.9h0M120.6 117.3h0M132 113.4h0M127.3 117.5h0M112.9 118.4h0M102.7 116h0M116.9 117.6h0M126.8 115.3h0M125.6 116.7h0M132.3 118.9h0M123.6 118.4h0M128 118.9h0M102.1 117.8h0M115.7 116.9h0M124.5 112.2h0M115 118.9h0M119.7 117.8h0M103.7 116.5h0M133.6 116.2h0M111.5 116.7h0M116.2 117.9h0M116.5 113.9h0M114.8 118.9h0M104.6 116.2h0M122.4 115.5h0M122.1 118.3h0M115.5 116h0M103.3 116.3h0M126.8 116.2h0M129.3 110.2h0M128.6 114.3h0M128.7 115h0M104.6 113h0M128.8 116.8h0M110.2 117.8h0M114 116.2h0M110.4 115.5h0M108.3 118.2h0M103.2 112.4h0M118.8 118.9h0M105.6 111.7h0M135.7 115.1h0M122.8 113.4h0M106 116.9h0M129.7 116.5h0M127.2 118.7h0M127.2 113.5h0M125 115.7h0M128.4 117.1h0M111.2 116.5h0M126.1 115.8h0M103.4 112.5h0M105.8 113.2h0M124 107.9h0M118.5 112h0M123 118.9h0M129.8 117.4h0M106.9 118.9h0M116.3 111.5h0M116.7 115.9h0M128.4 118.7h0M110.4 115.8h0M127.2 109.5h0M125.9 109.2h0M103.5 111.3h0M102.1 114.4h0M114.7 113.7h0M102.1 117.4h0M128.3 118.9h0M110.1 114.1h0M129.3 118.8h0M131.8 115.7h0M115.5 116.8h0M124 113.1h0M122.7 114.7h0M105.7 117.8h0M103.2 110.2h0M132.1 116.7h0M126.2 115.3h0M125.3 118.9h0M122.1 118.5h0M124.1 116.6h0M111.5 118.3h0M116.7 114.6h0M118.1 117.3h0M112 116.4h0M106.3 115h0M121.8 114.2h0M102.6 118.9h0M114 114h0M121.3 118h0M115.2 109.9h0M118.9 118.4h0M122.8 113.3h0M127.5 118.9h0M119.3 115.5h0M119.5 118.4h0M104.2 118.9h0M125.4 118.2h0M107.4 117h0M104.5 118.5h0M116 118.6h0M124.5 113.3h0M117 117.1h0M108.4 117.4h0M123.7 111.6h0M111.7 110.6h0M126.6 111.3h0M127.6 117.6h0M118.9 117.7h0M119.4 112.8h0M114.9 116.5h0M129 111h0M128.8 117.1h0M104.1 114.8h0M115.3 116.4h0M115.2 118.9h0M110.1 114.5h0M131 118.8h0M127.9 117.6h0M122.7 111.9h0M105.9 117.5h0M128.5 118.9h0M110.7 115.6h0M118.5 113.3h0M114.5 115.7h0M115.7 112.9h0M124.6 118.9h0M121.7 112.8h0M119.4 115.2h0M126.4 118.8h0M121.6 116.8h0M110.3 117.4h0M114.3 115.8h0M110.2 112.6h0M129.8 115.8h0M126.4 113.3h0M120.2 117.2h0M103.2 111.2h0M132.9 118.9h0M112.4 117.5h0M102.1 117h0M108.9 111.1h0M117.3 118.9h0M114.7 117.2h0M115 115.1h0M108.8 112.2h0M132.5 117.2h0M113.9 118.9h0M111.3 118.9h0M114.6 117.6h0M115.5 116.2h0M126.5 116.5h0M127.6 112.1h0M118 118.9h0M105.4 114.7h0M117.6 111h0M131.2 118.9h0M114.4 117.7h0M130.1 118.9h0M125 117.1h0M117.5 112.1h0M115.9 118.1h0M127.6 116.7h0M112.6 118.7h0M128.2 114.6h0M110.7 118.4h0M105 118.9h0M126.1 115.8h0M105.8 115.6h0M121.4 116.4h0M109.8 115.2h0M109.3 117.8h0M120.9 112.9h0M122.8 117.7h0M118.6 118.1h0M102.1 118.6h0M117.3 118.4h0M117 117.6h0M130.1 118.5h0M111.6 117.4h0M110.6 110.1h0M119.1 118.3h0M124.7 117.9h0M127.3 117.4h0M127.7 116.2h0M126 117.2h0M118.9 117.1h0M115.3 116h0M103.4 118.9h0M113.4 118.9h0M132.7 112.4h0M112.8 117.9h0M121.2 118.1h0M128.9 115.7h0M113.6 118.5h0M118.5 118.5h0M117.7 116.5h0M113.3 115.6h0M129.8 117.1h0M114.6 118.3h0M125 116.9h0M126.5 117.9h0M104.6 118.6h0M134.4 117h0M120.1 118.9h0M102.3 114.7h0M114 116.1h0M124.3 114.7h0M114.4 116.8h0M117.9 118.1h0M109.3 110.7h0M116.1 116.7h0M131.5 118.9h0M106.2 114h0M107.6 118.9h0M103.6 112.3h0M110 109.6h0M133.7 117.6h0M125.8 118.1h0M119.2 114.2h0M114.3 118.7h0M119.2 116.1h0M116.3 110.7h0M116.7 110.8h0M118.5 116.1h0M130.2 114.3h0M123.8 100.9h0M128.8 116.5h0M112.7 117.8h0M102.5 117.3h0M110.2 113.2h0M111.1 117.3h0M125.6 118.1h0M102.5 116.6h0M102.1 113.9h0M126.1 113.2h0M122.3 110.7h0M112.7 111.2h0M110 111h0M125.1 114.8h0M116.7 111.3h0M118.1 118.3h0M128 117.3h0M123.3 117.4h0M114.5 118.9h0M127.5 115.7h0M124.7 118.5h0M124.6 118.1h0M126.6 111.4h0M107.6 112.6h0M124.9 105.3h0M113 112.2h0M124 113.6h0M110.4 112.9h0M125.6 114.4h0M128.6 110.3h0M126.4 117.8h0M107 115h0M124.5 117.8h0M105.1 118.9h0M126.8 117.4h0M121.3 116.8h0M122.3 111h0M129 118.9h0M124.2 114.3h0M126.1 115.2h0M113.3 115h0M103.2 118.3h0M121.8 116.7h0M112.2 115.9h0M120 111.2h0M108.4 114.8h0M136.8 114.3h0M122.7 116.2h0M127.5 118.7h0M129 113.5h0M131.8 117.8h0M123 118.5h0M110 118.9h0M129.8 114.8h0M123.2 114.7h0M119.3 111.7h0M126 112.1h0M104.4 111.5h0M112.5 113.8h0M105.4 116.9h0M102.1 112h0M125.8 118.6h0M120.9 118.9h0M124 118.9h0M128.2 117.6h0M116.9 116.4h0M116.9 118.7h0M116.6 117.9h0M122.8 118.9h0M102.5 115.7h0M114.3 114.5h0M112.7 118.1h0M103.7 111.4h0M119.7 117h0M113.4 116.6h0M102.1 116.4h0M115.1 117.4h0M102.1 115.4h0M107.6 117.4h0M127.9 117.5h0M102.1 114.3h0M111.9 118.9h0M104 117.1h0M105.1 117.9h0M115.7 112.1h0M104.7 118.8h0M124.8 114.4h0M118.2 118.9h0M129 118.8h0M109.3 109.8h0M112.2 116.9h0M126.1 117.3h0M105.9 118.8h0M105.4 118.2h0M105.1 118.9h0M112.3 118.9h0M115.7 113.5h0M121.8 114.2h0M103.9 115h0M126.9 118.1h0M128.5 109.2h0M123.4 110.9h0M119 114.6h0M118.1 116.9h0M129 118.6h0M127 115.4h0M110.1 114.5h0M102.9 116.7h0M102.1 118h0M127.9 115.8h0M120.8 116.3h0M120 114.9h0M111.9 111.1h0M110.7 118.8h0M129.6 117.6h0M108.3 109.1h0M102.6 108.7h0M114.9 118.4h0M109.2 116h0M108.3 115.9h0M117.4 118.9h0M115.3 109.4h0M111.9 113.6h0M116.5 114.9h0M127.3 117.3h0M126.8 115.8h0M115.7 114.7h0M125.1 113.9h0M102.4 117.6h0M124.9 115h0M107.9 114.3h0M117.7 118.9h0M125.9 118.9h0M124.1 118.9h0M126.5 116.2h0M115.2 115.7h0M104.3 113.1h0M112.5 117.7h0M119.6 116.9h0M132.9 115.3h0M111.1 117.8h0M111.6 118.2h0M122.5 115.8h0M118.6 117.7h0M127.7 114.6h0M102.1 118.3h0M108 111.3h0M105.4 116.8h0M111.4 112.1h0M109.6 108.3h0M115.3 116.9h0M127.3 116.8h0M116.8 118.7h0M117.3 112.3h0M106.9 110.9h0M128.6 117.5h0M117.4 113.1h0M124.9 116.9h0M120 118.8h0M112.2 109.6h0M131.8 115.9h0M106.1 115.9h0M105 117.9h0M129.1 115.1h0M135.5 118.9h0M117.2 118.6h0M128.4 118.6h0M126.1 117.3h0M102.1 118.9h0M114.6 112.5h0M122.1 109.2h0M111.9 111h0M113.6 117.4h0M119.6 117.5h0M106.1 116.8h0M119.1 116.2h0M119.1 105.9h0M104.3 114.8h0M118.3 115.5h0M120.4 115.5h0M126 117.9h0M105.8 115h0M112.4 118.8h0M123.3 109.4h0M117.6 118.9h0M108.5 118.3h0M124.3 118.3h0M115.2 118.1h0M126.2 114.4h0M106.2 116.7h0M120.9 116.1h0M123.5 113.4h0M103 112.1h0M107.4 117.4h0M110.1 117.5h0M116.2 118.9h0M105.5 118.6h0M128 118.9h0M107.9 118.5h0M116.8 110.1h0M107.6 117.4h0M127.8 115.7h0M104.5 116.2h0M112.6 112.3h0M104.6 114.6h0M128.2 118.5h0M119 109.4h0M126.7 114.7h0M120.8 115.4h0M134.5 111.5h0M105 109.8h0M129.2 112.2h0M105.4 118.2h0M127.4 116.7h0M102.8 118.9h0M126.3 118.4h0M126.6 113.9h0M122.7 117.2h0M123.1 113h0M105.6 116.8h0M110.3 118.8h0M126.9 117.6h0M126.8 113.5h0M118.6 118.5h0M113 111h0M111.5 118.4h0M137.3 115.5h0M117.5 114.4h0M116.2 118.9h0M120.2 113.3h0M120.1 117.5h0M102.1 115.8h0M128.8 107h0M125.3 117.7h0M104 118.9h0M111.5 117.2h0M113.1 111.7h0M126.9 116.3h0M127.2 112.4h0M112.2 117.9h0M104.7 118.2h0M114.9 116.5h0M122.3 111.9h0M102.4 114.1h0M130.9 115.7h0M125.5 118.9h0M108.3 116.7h0M129 109.6h0M118.8 118.5h0M128 117.4h0M118.5 116.2h0M106.4 118.9h0M102.1 117.1h0M129.1 118.9h0M108.8 115.9h0M113.5 116.7h0M128.6 113.9h0M104.7 112.7h0M113.6 118.8h0M113.6 116.4h0M103.3 117.5h0M120.4 112.2h0M123.1 118.1h0M132.5 117.9h0M128.7 117.6h0M107.5 118.9h0M108 109.3h0M128.4 118.8h0M108.7 109.5h0M114.9 114.8h0M111.1 118h0M105.7 110.5h0M126.6 117.7h0M104.9 118.9h0M117.1 114.5h0M109.4 117.3h0M107.5 115.9h0M110.8 118.2h0M107.1 113.6h0M120.8 117.6h0M113.8 110.6h0M107.2 117.8h0M112.3 114.2h0M103.4 115.3h0M123.2 114.8h0M130.1 116.3h0M119.7 118.6h0M129.3 111h0M102.6 118.7h0M120.4 110.5h0M129.1 118h0M127.7 118.2h0M123.4 109.9h0M102.1 108.3h0M106.7 111.5h0M114.8 117.2h0M123 116.7h0M111.2 116.1h0M104.9 114.4h0M118.8 113.3h0M114.2 113.6h0M118.9 118.9h0M127.9 108.6h0M111.3 115h0M103.2 118.9h0M102.9 118.1h0M127.9 114.3h0M125.7 115.2h0M112.2 114h0M114 118.7h0M127.2 118.8h0M102.2 115.1h0M127.9 118.9h0M129.1 114.1h0M102.1 118.9h0M125.5 116.6h0M125.1 112.7h0M116.5 117.8h0M128.9 118.8h0M112 113.7h0M115.3 117h0M130.7 116.8h0M126.8 114.5h0M128.2 116.2h0M112.7 118.2h0M124.4 117.1h0M135.1 117.5h0M123.4 116.4h0M111.7 112.7h0M129.8 114.1h0M114.7 117.2h0M134.3 116.8h0M130 117h0M105.2 111.5h0M114.2 117.3h0M104 118.4h0M108.7 115.8h0M127.3 117.1h0M134.1 114.8h0M112.9 116.8h0M109.2 118h0M119.3 113.3h0M103.6 116.3h0M127.7 118.9h0M127.4 116.1h0M102.1 117.5h0M115.6 118.9h0M119.6 115h0M129.2 115.5h0M127.3 113.1h0M118.6 113.7h0M119.7 109.7h0M119 118h0M103.2 118.9h0M128.3 113.7h0M113.1 117.8h0M123.7 116.7h0M132.7 118.1h0M122.2 117.7h0M127.5 113h0M124 118.9h0M131.5 117.5h0M113.2 114.5h0M121.3 114.9h0M123.3 113.5h0M103.1 117.3h0M127 118.6h0M117.4 112.8h0M130 118.8h0M128.8 113.4h0M124.2 117.1h0M104.6 115.8h0M128.4 114.5h0M126.2 118.9h0M102.8 112.6h0M104.2 112h0M110.5 116.9h0M127.4 117.8h0M125.2 117.4h0M128.1 114.7h0M102.1 111h0M122.2 114.4h0M103.3 109.6h0M103 115.6h0M108.2 118.7h0M111.6 116.1h0M124.1 115.6h0M112.6 116.9h0M103.8 117.9h0M115.2 115.8h0M108.1 117.6h0M125.2 110.4h0M119.3 115.1h0M105.2 117.4h0M112.3 113.2h0M128 114.5h0M117 111.7h0M124.2 118.9h0M127 114.1h0M108.3 115.9h0M110.7 114.8h0M128.2 117h0M112.6 114.7h0M113.6 116.3h0M126 113h0M102.8 111.7h0M120.1 118.6h0M117.6 110h0M107.1 115.3h0M125.1 116.8h0M130.1 115.9h0M106.3 118.2h0M114.4 116.1h0M122.8 118.1h0M123.7 116.1h0M118.7 113.6h0M102.9 114.8h0M114 116.9h0M117.7 118.3h0M119.7 113.5h0M127.3 108.5h0M125.4 114.9h0M125.3 116.6h0M126.1 118.9h0M112.3 112.5h0M104.3 118.5h0M107.6 118.1h0M128 118.9h0M123.6 118.8h0M123 115.1h0M113.5 113.5h0M128 113.8h0M110 115h0M120.7 118.9h0M129 114.6h0M125.2 117.4h0M117 118.9h0M108.6 118.9h0M116.2 118.6h0M118 118.2h0M105.6 116.4h0M102.1 116.1h0M102.1 111h0M109.7 118.9h0M124.3 114.7h0M105.7 118.6h0M103.3 114.5h0M136.9 111.8h0M106.4 118.8h0M126.5 115.6h0M121.7 118.3h0M122.4 114.3h0M109.4 111.7h0M102.1 118.4h0M112.8 111.8h0M123.4 114.9h0M104.9 117.5h0M111.5 115.2h0M125.9 118.6h0M117.5 115.8h0M102.3 111.2h0M119.7 115.1h0M122.2 117.8h0M116 118.9h0M103.3 112h0M103.7 116h0M123.9 114.1h0M128.9 118.6h0M113 118.9h0M129.3 116.9h0M125.3 113.9h0M126.3 118.9h0M115.8 113.9h0M122.2 118.7h0M106.7 114.3h0M123.1 115.5h0M110.7 118.9h0M120.2 117.6h0M119.6 118.9h0M124.7 114.6h0M103.4 116h0M124.4 113.9h0M113.9 117.8h0M109.9 113.4h0M127.1 115.9h0M127.6 110.8h0M103.5 116.1h0M125.6 117.6h0M114.2 112.1h0M124.7 114.6h0M119.8 115.1h0M113.8 115.5h0M104 117h0M129.1 109.7h0M133 118.9h0M121.9 118.9h0M104.1 118.4h0M127.3 113.3h0M114.2 118.9h0M116.8 113h0M104.8 110.3h0M127.7 118.5h0M108 115.1h0M124.1 115.1h0M102.1 117.6h0M124.7 116.4h0M124 117.7h0M120 115.7h0M119.7 118.3h0M128.5 116.6h0M127.4 117.5h0M112.8 114.6h0M120 115.4h0M127.7 115.5h0M111.9 115.7h0M114 118.9h0M107 118h0M104.9 115.7h0M125.4 115.5h0M103.8 115.4h0M121.8 115.2h0M120.6 113h0M112.6 118.9h0M128 118.7h0M128.2 118.3h0M106.7 117.1h0M129 115.3h0M107.5 109.6h0M123.3 107.4h0M107 116.2h0M128.8 118.7h0M124.4 113.5h0M128.9 116.7h0M102.1 117.9h0M123.8 118.9h0M114.8 116.9h0M119.4 114.8h0M129.1 118.4h0M102.1 118.9h0M105.2 109.2h0M130 111.4h0M118.8 113.9h0M112.5 118.5h0M118.1 116.6h0M106.6 117.8h0M122.2 118.9h0M126.2 112.7h0M102.1 113.3h0M111.3 118.1h0M102.7 112.3h0M103.3 118.9h0M113.5 118.9h0M106.4 118.6h0M103.8 113.7h0M124.6 116.8h0M117.2 116.2h0M128.9 117.1h0M109 118.2h0M104.3 111.8h0M110.3 111.1h0M130.7 118.9h0M102.1 112.1h0M107.1 118h0M110.1 117.1h0M126.4 112h0M128.7 112h0M125.9 115.7h0M104.2 118.6h0M102.1 118.1h0M107.2 110.1h0M122.6 116.2h0M107.7 117.1h0M109.3 116.7h0M112 113.4h0M126.7 114.6h0M110 117.2h0M130.4 118.9h0M120.2 112.3h0M118.2 109.7h0M108.5 109.8h0M125.3 112.1h0M118.7 115.1h0M122.2 112.3h0M124.5 111h0M117.8 118.1h0M129 110h0M128.8 115.6h0M129.6 118.9h0M131.6 117.9h0M119.7 117.8h0M130.8 118.9h0M123.4 116.7h0M119.8 112h0M125.6 116.5h0M105.2 114.8h0M112.7 116.9h0M133.6 114.8h0M124.5 115.9h0M110 107.8h0M127.1 118.5h0M125.6 113.5h0M125.7 116.4h0M118.6 110.3h0M118.3 114.2h0M115 114.6h0M110 114.9h0M111 115.5h0M123.1 115.7h0M127.1 116.4h0M136.3 111.7h0M113 112h0M106.9 118.9h0M106.3 118.2h0M114.2 116.4h0M128.8 110h0M123.1 111.8h0M103.7 114.7h0M115.7 116.4h0M107.6 116.2h0M124.4 115.5h0M122.2 115h0M132 118.9h0M107.4 108.4h0M110.3 116.5h0M123.7 118.8h0M114.3 114.9h0M112 111h0M123 112.1h0M103.2 109.9h0M119.9 117.3h0M103.7 118.9h0M123.9 117.3h0M114.1 117.6h0M129.2 116.9h0M122.6 107.9h0M123.6 117h0M131.3 118.6h0M127.9 118.5h0M103.8 116.6h0M107.5 110.3h0M122.9 118.4h0M102.1 118.9h0M106 117.5h0M111 117.7h0M118.4 118.5h0M102.9 118.9h0M124.3 117.7h0M107.6 114.4h0M118.7 118.3h0M113.5 112.1h0M111.7 116.9h0M115.5 114h0M102.1 115.7h0M118.3 115.8h0M102.1 116.2h0M107 118.9h0M106.8 117.8h0M105 118.4h0M114.8 117.9h0M114.1 115.3h0M117.5 114.3h0M111.7 113.5h0M129.6 111.8h0M122.7 116.1h0M124.4 109.5h0M102.3 115.7h0M113.1 117h0M132.3 115.1h0M117.4 117.3h0M112.3 116h0M130.7 115.4h0M127.6 117h0M109.4 115h0M108.1 112h0M124 118.9h0M132.6 113h0M109.9 118.8h0M112.8 112h0M125.1 115.4h0M104.5 117.5h0M107.5 115.8h0M132.1 110.5h0M128.4 118.6h0M121.1 118.5h0M102.1 117.7h0M128.5 118.9h0M102.8 118.9h0M115.1 118.9h0M129.2 118.9h0M107 113.7h0M126.7 118.2h0M120.1 110h0M125.1 118.9h0M111.5 116.5h0M131.2 110.1h0M127 117.2h0M128.4 110.7h0M107.5 111.9h0M125.2 116.7h0M108.2 114.2h0M102.1 118.9h0M129.2 110.5h0M112.8 117.2h0M122.7 116.8h0M127.9 111.6h0M126.1 118.3h0M120.9 108.3h0M117.4 118.1h0M110.4 115.9h0M118.1 117.3h0M105.7 116.2h0M125.6 114.7h0M127.6 116.5h0M120.5 117.7h0M102.9 116.6h0M117.5 113.9h0M116.2 118.9h0M115.6 116.5h0M117.1 113.5h0M121.6 118.7h0M102.7 114.4h0M105.5 118.9h0M128.5 118.9h0M110.2 117.9h0M124.8 118.9h0M126.2 113.2h0M124.4 116h0M118.8 116.4h0M129.2 112.5h0M111.2 116.2h0M108 117.6h0M105.9 118.1h0M135.2 115.5h0M111.8 118.9h0M129.2 115h0M127.1 118h0M117.7 114.3h0M119.8 116.2h0M115.4 116.5h0M114.4 114.1h0M120.7 117.7h0M110 114.6h0M114.9 118.9h0M117.1 113.2h0M110.6 116.3h0M108.8 118.2h0M121.4 118.1h0M126.4 115.2h0M120.9 118.5h0M108.8 118.9h0M112.9 112.7h0M107.5 110.3h0M119.2 114.4h0M107.9 117.6h0M102.5 117.4h0" stroke="#7e7e7e" stroke-width="1.15" stroke-linecap="square" fill="none"/>
<path d="M133.4 113.9h0M132.2 111.6h0M121.9 107.6h0M138.5 118.9h0M130 116.4h0M126.9 118.9h0M143.3 116.8h0M135.6 118.9h0M133.3 114.3h0M141.7 114.2h0M137.2 109.6h0M136.4 118.3h0M133.3 109h0M134.5 109.1h0M126.5 116.1h0M135.2 118.8h0M138.5 117.1h0M139.2 114.4h0M126.7 110.4h0M138.8 116.7h0M132.7 102.5h0M128.3 96.4h0M135.8 113h0M130.3 115.5h0M135.4 115h0M139.1 101.5h0M129.1 116.9h0M132 118.7h0M139 116.6h0M120.7 102.9h0M138.9 107.8h0M126.2 114.7h0M127.5 116.3h0M130.7 105h0M132.2 116.3h0M132 100.1h0M126.6 98.3h0M125.3 115.2h0M131.9 109.9h0M138.5 111.5h0M137.3 118.4h0M134 117.6h0M138.1 115.1h0M128.5 108.6h0M130.6 113.5h0M116.4 107h0M133.9 113.4h0M140.4 109.5h0M133 110.8h0M138.9 114.3h0M117.5 108.9h0M137.1 117.2h0M134.6 116.8h0M133.9 111.5h0M135.5 113.2h0M131.8 117.2h0M140.8 115.7h0M132.8 112.2h0M124.9 114.8h0M127.9 113.7h0M141.2 118.4h0M129.1 112.5h0M132.2 113.9h0M138.1 91.1h0M127.6 108.3h0M141.9 114.2h0M135.7 111.9h0M146.7 114.5h0M136.6 112.7h0M130.1 117.1h0M129.5 115.6h0M139.3 100.6h0M131.6 118h0M136.8 116.2h0M130.5 102h0M129.9 116.7h0M124.5 109.7h0M128.7 114.3h0M126.5 116.8h0M138.8 107.5h0M136.4 109.8h0M134.1 114.3h0M125.3 116.8h0M135.2 113.6h0M130 96.2h0M131.3 114h0M132.6 113h0M124.1 110.7h0M129.5 117.1h0M149.2 112.8h0M135.7 102.1h0M124.2 112.8h0M128.7 107.5h0M142.7 117.2h0M136.8 105.4h0M143.4 118.9h0M123.7 110.9h0M138.5 106.9h0M132.1 115h0M132.5 106h0M131.2 116.4h0M128 110.1h0M120.8 111.1h0M132.5 98.8h0M128.6 118.1h0M119.9 112.5h0M140.2 118.4h0M123.3 117.8h0M144.9 118.9h0M137.8 114h0M128.8 118.9h0M135.5 114h0M121.9 113.7h0M137.8 112.4h0M122.1 100.2h0M131.5 113.9h0M133.3 106.1h0M140.3 116.8h0M130.7 118.5h0M131.1 112.4h0" stroke="#9a9a9a" stroke-width="1.0" stroke-linecap="square" fill="none"/>
<path d="M130.9 84.6h0M120.1 83.8h0M125 99.5h0M135.2 93.9h0M128.1 84.9h0M134.8 86.3h0M130.9 96.9h0M129 90.5h0M137.6 96.7h0M126 97.3h0M126.7 88.8h0M106.1 90.6h0M121.9 91.9h0M117.2 91.5h0M134.2 79.3h0M139.2 85.9h0M135.8 59.2h0M134 72.5h0M126.6 76h0M117 93.8h0M133.6 77.4h0M115 91.3h0M119 96.8h0M136.9 80h0M121.6 82.3h0M112 89.4h0M136.4 93h0M125.7 85.8h0M108.9 93.1h0M137.1 98.5h0M133 94.9h0M130.9 98.8h0M127 99.5h0M137.1 99.6h0M138.3 87.9h0M138.5 87.3h0M133.3 78.3h0M116.7 91.3h0M111.3 91.2h0M135.5 77.9h0M115.8 93.1h0M138.2 83.5h0M135.2 77.2h0M111.8 88.1h0M137.1 67.9h0M117 99.7h0M117.5 88.4h0M131.9 96.7h0M134.9 89.7h0M133.6 66h0M133.7 73.3h0M122.2 92.5h0M124.5 98.1h0M120.5 60.3h0M106.6 98.1h0M121.6 90.7h0M130.4 93.7h0M118.9 85.4h0M110.7 95.2h0M130 86.3h0M126 74.8h0M128.6 94.3h0M132.5 97.6h0M120.1 97.2h0M125.7 82.7h0M128.7 84.1h0M133 93.4h0M120.4 90.5h0M130.4 70.2h0M133.8 95.5h0" stroke="#b0b0b0" stroke-width="1.0" stroke-linecap="square" fill="none"/>
<path d="M121.7 97.5h0M127.3 96.4h0M137.5 78.8h0M134.4 79.7h0M119.2 76.5h0M122.6 73.3h0M137.6 93.2h0M121.9 87h0M124.3 88.7h0M138.1 96.1h0M128.8 83.1h0M128.7 93.1h0M131.6 74.8h0M131 98.8h0M134.8 98.8h0M139.5 97.1h0M124.9 89.7h0M120.7 89.3h0M126.7 83.9h0M124.7 86h0" stroke="#888" stroke-width="1.0" stroke-linecap="square" fill="none"/>
<path d="M145.8 101.6h0M152.7 115.2h0M142.9 114.5h0M145.4 116.1h0M141.4 109.1h0M156.8 100.6h0M142.4 108.8h0M152.3 115.5h0M181.4 102.5h0M152.4 109.8h0M155.5 115.5h0M159.1 118.6h0M148.4 112.4h0M168.9 114.6h0M191.8 112.6h0M144.3 118.4h0M180.4 106.1h0M150.5 101.8h0M158.3 106.1h0M169.4 102.8h0M166 100.5h0M160.9 104.9h0M142.4 113.8h0M160.8 110.7h0M141.2 103.7h0M162.4 100.7h0M179.1 108.1h0M150.9 104.1h0M153.3 102.7h0M167.4 107.1h0M178.9 100.7h0M150.4 109.2h0M143.1 102.7h0M172.6 104.6h0M145.1 118.9h0M175.9 109.3h0M151 108.7h0M189.1 102.5h0M143.8 109h0M171.9 108.7h0M162.1 110.6h0M146.2 116.1h0M151.3 115.3h0M163.5 105.7h0M172.2 118.2h0M149.9 105.9h0M143.8 113h0M172.9 114.3h0M152.4 115.4h0M160.1 115.4h0M177.4 111h0M181.3 108.3h0M178.1 103.6h0M159.2 112.9h0M187.5 104.6h0M172.1 106.6h0M184.7 99.9h0M175.2 102.5h0M150.8 115.8h0M196 100.1h0M184.4 102.9h0M190.1 118.6h0M172.5 114.8h0M189.6 102.3h0M191.1 110.9h0M169.2 116.3h0M165.5 103.8h0M163.3 117.5h0M145.9 101.8h0M166.4 103h0" stroke="#a0a0a0" stroke-width="1.0" stroke-linecap="square" fill="none"/>
<path d="M145.8 76.1h0M161.6 77.9h0M162.1 75.1h0M163 77.9h0M151.9 84.7h0M166.4 91.5h0" stroke="#aaaaaa" stroke-width="1.0" stroke-linecap="square" fill="none"/>
<rect x="101.5" y="27.5" width="109" height="92" fill="none" stroke="#404040" stroke-width="1.1"/>
<path d="M140.5 27.5V119.5M101.5 99.5H210.5" stroke="#505050" stroke-width="1" fill="none"/>
<path d="M101.5 119.5v4M101.5 119.5h-4M109.5 119.5v2.5M101.5 112.5h-2.5M114.5 119.5v2.5M101.5 108.5h-2.5M117.5 119.5v2.5M101.5 105.5h-2.5M120.5 119.5v2.5M101.5 103.5h-2.5M122.5 119.5v2.5M101.5 101.5h-2.5M124.5 119.5v2.5M101.5 99.5h-2.5M126.5 119.5v2.5M101.5 98.5h-2.5M127.5 119.5v2.5M101.5 97.5h-2.5M128.5 119.5v4M101.5 96.5h-4M136.5 119.5v2.5M101.5 89.5h-2.5M141.5 119.5v2.5M101.5 85.5h-2.5M145.5 119.5v2.5M101.5 82.5h-2.5M147.5 119.5v2.5M101.5 80.5h-2.5M149.5 119.5v2.5M101.5 78.5h-2.5M151.5 119.5v2.5M101.5 76.5h-2.5M153.5 119.5v2.5M101.5 75.5h-2.5M154.5 119.5v2.5M101.5 74.5h-2.5M156.5 119.5v4M101.5 73.5h-4M164.5 119.5v2.5M101.5 66.5h-2.5M169.5 119.5v2.5M101.5 62.5h-2.5M172.5 119.5v2.5M101.5 59.5h-2.5M175.5 119.5v2.5M101.5 57.5h-2.5M177.5 119.5v2.5M101.5 55.5h-2.5M179.5 119.5v2.5M101.5 53.5h-2.5M180.5 119.5v2.5M101.5 52.5h-2.5M182.5 119.5v2.5M101.5 51.5h-2.5M183.5 119.5v4M101.5 50.5h-4M191.5 119.5v2.5M101.5 43.5h-2.5M196.5 119.5v2.5M101.5 39.5h-2.5M199.5 119.5v2.5M101.5 36.5h-2.5M202.5 119.5v2.5M101.5 33.5h-2.5M204.5 119.5v2.5M101.5 32.5h-2.5M206.5 119.5v2.5M101.5 30.5h-2.5M207.5 119.5v2.5M101.5 29.5h-2.5M209.5 119.5v2.5M101.5 28.5h-2.5M210.5 119.5v4M101.5 27h-4" stroke="#333" stroke-width="1" fill="none"/>
<text x="102.3" y="133.8" font-size="8.5" text-anchor="middle" fill="#6a6a6a">10<tspan font-size="7.5" dy="-4.2">0</tspan></text>
<text x="94.1" y="117.9" font-size="8.5" text-anchor="middle" fill="#6a6a6a" transform="rotate(-90 94.1 117.9)">10<tspan font-size="7.5" dy="-4.2">0</tspan></text>
<text x="129.6" y="133.8" font-size="8.5" text-anchor="middle" fill="#6a6a6a">10<tspan font-size="7.5" dy="-4.2">1</tspan></text>
<text x="94.1" y="94.8" font-size="8.5" text-anchor="middle" fill="#6a6a6a" transform="rotate(-90 94.1 94.8)">10<tspan font-size="7.5" dy="-4.2">1</tspan></text>
<text x="156.8" y="133.8" font-size="8.5" text-anchor="middle" fill="#6a6a6a">10<tspan font-size="7.5" dy="-4.2">2</tspan></text>
<text x="94.1" y="71.7" font-size="8.5" text-anchor="middle" fill="#6a6a6a" transform="rotate(-90 94.1 71.7)">10<tspan font-size="7.5" dy="-4.2">2</tspan></text>
<text x="184.1" y="133.8" font-size="8.5" text-anchor="middle" fill="#6a6a6a">10<tspan font-size="7.5" dy="-4.2">3</tspan></text>
<text x="94.1" y="48.5" font-size="8.5" text-anchor="middle" fill="#6a6a6a" transform="rotate(-90 94.1 48.5)">10<tspan font-size="7.5" dy="-4.2">3</tspan></text>
<text x="211.3" y="133.8" font-size="8.5" text-anchor="middle" fill="#6a6a6a">10<tspan font-size="7.5" dy="-4.2">4</tspan></text>
<text x="94.1" y="25.4" font-size="8.5" text-anchor="middle" fill="#6a6a6a" transform="rotate(-90 94.1 25.4)">10<tspan font-size="7.5" dy="-4.2">4</tspan></text>
<text x="158.6" y="18.2" font-size="13.2" font-weight="bold" stroke="#000" stroke-width="0.25" text-anchor="middle">Control-H/H</text>
<text x="106" y="40.2" font-size="9.6" font-weight="bold" stroke="#000" stroke-width="0.25">1.3%</text>
<text x="208.6" y="39.8" font-size="9.6" font-weight="bold" stroke="#000" stroke-width="0.25" text-anchor="end">0.2%</text>
<text x="208.2" y="114.6" font-size="9.6" font-weight="bold" stroke="#000" stroke-width="0.25" text-anchor="end">1.7%</text>
<path d="M282.9 117.8h0M255.2 118.9h0M279 118.8h0M262.3 111.5h0M271.7 113.9h0M257.5 115.1h0M266.2 112.7h0M284.1 114.1h0M282.6 113.9h0M261 117.9h0M253.6 113.6h0M262.6 118.5h0M264.6 114.4h0M270.3 115.4h0M260 114.8h0M256.8 118.8h0M268.7 111.4h0M258.3 118.9h0M280.9 117h0M281.3 111.1h0M276.7 118.3h0M283.7 114.6h0M283 114.7h0M275.2 111.8h0M267.2 113.4h0M281.9 118.3h0M268.4 117h0M280.5 115.1h0M281.1 112.7h0M281.7 117.8h0M275.5 115.7h0M262.8 118.9h0M274.7 113.6h0M261 109.3h0M281.4 114.6h0M274.9 106.9h0M268.5 111.7h0M271.2 118.6h0M262.4 117.8h0M282.2 113.3h0M272.3 110.6h0M275.6 114.9h0M281.3 116.3h0M254.4 111.2h0M273.2 118.9h0M280.3 115.7h0M255.9 109h0M260.3 118h0M259.2 115.4h0M275.3 115.6h0M253.5 117.4h0M273.9 117h0M255.1 118.3h0M275.7 118.9h0M253.2 118.9h0M257.5 109.6h0M258.3 117.6h0M253.9 114.5h0M283.9 118.6h0M263.4 118.3h0M272 118.9h0M263.2 116.9h0M253.5 110.8h0M276 116.6h0M281.1 118.9h0M274.9 108.8h0M267.5 118.3h0M262.5 111.7h0M255.7 109.1h0M256.5 116h0M271.1 114.4h0M257.1 115.5h0M283 118.9h0M265.8 112.2h0M253.1 116.7h0M254.3 118.4h0M253.6 118.2h0M272.7 117.4h0M268.6 107h0M284.1 118.2h0M259.9 115.7h0M271.3 118.1h0M272.3 116.9h0M260.6 111.4h0M265.9 118.9h0M253.6 118.9h0M265.5 112.9h0M260.1 113.9h0M255.7 117.9h0M259.4 115.9h0M269 115h0M272.9 118.5h0M259.2 108h0M275.6 111.8h0M266.3 112.4h0M254.1 118.9h0M265.8 116.1h0M255.5 118.9h0M278 115.2h0M281.8 114.6h0M271.9 115.7h0M264.3 104.5h0M253.1 118.5h0M262.2 117.2h0M279.2 118.9h0M266.8 118.7h0M265.5 115.8h0M271.2 118.9h0M254.8 118.4h0M282.2 114.4h0M254.9 118.9h0M270.6 116h0M264.9 110.7h0M265 117.4h0M256.4 117.9h0M279.5 118h0M272.9 111.5h0M253.3 117.4h0M273.4 118h0M268.3 111h0M263.9 110.2h0M261 116.9h0M269.2 106.2h0M278 117.6h0M282.1 117.2h0M259.9 115.6h0M268 118.9h0M274.1 113.8h0M281.7 111h0M255.5 114.4h0M263.8 116.5h0M265.7 118.9h0M254.6 109.7h0M283.9 113.6h0M273.1 116.4h0M259.9 116.2h0M273.8 117.1h0M269.1 114.2h0M256.1 106.7h0M276.5 116.1h0M255.6 111h0M260.7 118.6h0M280.9 111.4h0M265.3 117.5h0M284.1 118.1h0M257.1 112.6h0M266.5 112.4h0M280.5 118.2h0M258.2 113.3h0M265.4 118.9h0M275.1 111.7h0M267.5 116.2h0M283 115.2h0M273.4 111.7h0M276.7 117.2h0M272.2 116.4h0M265.3 112.1h0M272.7 106.7h0M253.1 111.2h0M280.5 117.6h0M273.1 118.9h0M282.5 118.6h0M275.7 110.3h0M280.6 112.2h0M255.7 115.8h0M258.8 111.1h0M276.1 116.5h0M278 117.7h0M256.9 115.1h0M260.6 115.8h0M270.5 115.9h0M283.2 118.8h0M254.8 113.3h0M279.1 118.9h0M273.4 118.9h0M273.9 113.3h0M263.1 118.8h0M253.4 113.2h0M255 118.9h0M276.3 116.2h0M277.4 112.8h0M277.5 114.9h0M279.9 117.4h0M264.6 117.1h0M267.3 118.9h0M270.2 118.8h0M283.2 115h0M264.6 114.5h0M266.6 116.3h0M273.1 116.1h0M267.9 107.9h0M254.9 116.6h0M278.7 116.9h0M277.8 112.2h0M273.2 111.4h0M255.5 113.1h0M272.6 114.4h0M279.5 115.3h0M277.8 116.3h0M259.9 116.2h0M267 118.9h0M282.9 115.2h0M256.1 117.3h0M264.1 114.7h0M262.6 114.2h0M257.8 116.7h0M266.5 116.5h0M281.8 108.5h0M266.5 111.6h0M262.9 110h0M255.7 118.9h0M274 116h0M264.4 113.6h0M259.9 112h0M278.2 115.8h0M278.7 115.5h0M263.4 110.6h0M268.5 111h0M274.4 111.1h0M276.3 116.7h0M280.1 111.2h0M283.6 115.9h0M261.8 113.7h0M264.2 113.9h0M265 113.3h0M263.7 107.4h0M267.6 116.8h0M283 117.4h0M256.5 114.6h0M263.9 118.6h0M281.6 112.7h0M266.4 113.4h0M269.7 118.7h0M264.9 109.3h0M261.5 117.5h0M262.5 117.2h0M281.9 117h0M259 117.8h0M260.5 115.9h0M263.4 117.5h0M260.3 118.9h0M263.2 112.1h0M264.3 118.9h0M257.1 117.6h0M279.5 111h0M256.7 115.5h0M269.1 116.7h0M276.9 115.5h0M271.9 104.9h0M265 108.1h0M267.5 116.1h0M279.1 116.3h0M271.5 113.8h0M283.8 116h0M283.9 116.3h0M265.6 114.5h0M269.2 117h0M284.1 118.8h0M256.6 112h0M281.6 116.4h0M255 116.2h0M253.1 110.5h0M255.9 117.5h0M257.2 116.8h0M273.8 107.5h0M273.1 111.7h0M254.1 116.3h0M267.8 117.1h0M270.2 115.4h0M254.4 114.6h0M258.8 110.8h0M269.1 114.6h0M274.2 117.4h0M268.1 117.4h0M256.7 117.6h0M259.2 117.8h0M254.2 118.4h0M272.3 114.4h0M279.8 112.4h0M268.6 114.6h0M281.6 118.2h0M278.5 117.3h0M272.4 118.2h0M261.9 114.4h0M266.2 114.6h0M277.8 117.1h0M278.3 113.9h0M261.5 117.2h0M276.8 115.6h0M274.8 118.9h0M274.7 118.8h0M270 118.4h0M258.9 117.1h0M273 112.8h0M272.4 118.9h0M267.6 111.1h0M254 118.1h0M279 109.6h0M271.5 116h0M255.9 118.7h0M272.7 116.2h0M282.9 118.5h0M283.6 114.6h0M261.8 115.9h0M259.1 115.7h0M261.3 112h0M281.2 114.5h0M265.7 117.2h0M275.4 111.9h0M256.4 117.3h0M274.8 117.9h0M259.3 107.8h0M263.1 114.3h0M269.2 118.2h0M281.8 116.7h0M274.5 110.7h0M277.5 113.9h0M263.5 117.6h0M267.5 118.9h0M267.6 116h0M258.6 112.6h0M262.3 118.2h0M257.9 111.1h0M259.6 112.9h0M272.1 113.4h0M274.2 110.1h0M262.3 116.8h0M262 109.6h0M253.1 117h0M262.4 116.9h0M262.6 118.9h0M263.4 110.9h0M266.5 110.6h0M253.1 114.5h0M270.9 117.4h0M271.8 117.2h0M264.4 112.9h0M281.5 116.7h0M273 109.8h0M281.6 118.9h0M257.3 115.2h0M281.9 106.2h0M258.9 116.3h0M271.3 109h0M274.8 115.6h0M259.3 118.9h0M254.5 118h0M272.2 117h0M264.9 106.3h0M264.9 113.9h0M267.6 116.8h0M259.6 116.9h0M269.4 118.5h0M282.5 117.4h0M273.9 111.5h0M265.3 116.7h0M268.8 114.3h0M269 115.7h0M277.3 112.1h0M275.8 115.4h0M259.5 113.4h0M256.6 118.5h0M257 116.6h0M272.1 113.5h0M273 117.2h0M270.2 118.6h0M255.3 116.7h0M257 114.4h0M262.4 116.2h0M282.5 114.3h0M263.8 113h0M271.7 109.2h0M255.9 118.4h0M282.6 114.5h0M272.7 115.6h0M268.7 108.7h0M283.2 114.6h0M279.1 118.7h0M253.1 110h0M275.2 101.5h0M279.9 113.5h0M271.9 116.4h0M266.3 111.2h0M257.7 114.9h0M253.9 107.8h0M278.8 111.7h0M273.9 116.3h0M253.8 108.3h0M260.3 116.8h0M265.3 108.4h0M281.4 113.9h0M254.6 114.8h0M259.9 118.9h0M265.4 118.9h0M268.4 118h0M254.2 111.8h0M268.9 114.1h0M281.5 118.6h0M256.5 114.1h0M264.3 116.8h0M283.4 113.7h0M266.5 116.7h0M266.4 110.3h0M273.1 116.6h0M257.7 117.2h0M263.6 117.9h0M253.2 115.4h0M272.8 105.2h0M270.6 118.9h0M267.2 113.7h0M265.9 118.9h0M276.3 115.7h0M282.7 116.2h0M253.4 112.7h0M262.1 111.8h0M269.9 107.3h0M270.6 117.9h0M275.1 115.8h0M264.1 116.1h0M273.6 114.6h0M270.2 113.7h0M282.7 118.2h0M276.5 113.9h0M281 116.4h0M276.2 111.7h0M256.2 108.3h0M271.5 115.3h0M283.1 115.3h0M283.2 113.7h0M276.8 114.8h0M274.6 113.2h0M263.6 112.2h0M257.2 115.5h0M265.5 112.8h0M268.3 109.7h0M265.4 118.8h0M281.5 114.5h0M273 117.2h0M277.4 113.1h0M273.7 114.6h0M265.2 113.8h0M256.1 118h0M282.4 114.7h0M275.8 113.9h0M258.2 117.1h0M255.1 115.4h0M271.5 109.6h0M266.6 112.5h0M255.5 118.2h0M268.2 118.9h0M275.2 114.9h0M267.7 118h0M281 108.7h0M272.8 117.5h0M270.8 118.2h0M257.8 112.2h0M262.1 116.1h0M275.6 113.4h0M267.3 118.3h0M270.7 113.2h0M260.2 110.9h0M258.3 107h0M260.2 116.3h0M259.6 111.5h0M271.1 118.7h0M271.2 108.8h0M268.7 116.6h0M267.5 114.8h0M264 118h0M274.7 116.3h0M281.9 115.4h0M277.6 113.3h0M256.7 117.4h0M253.1 111.4h0M255.2 118.9h0M258.4 116h0M265.1 118.9h0M280.4 118.8h0M262.2 114h0M256.4 116.9h0M282.9 115.1h0M280.4 110.8h0M266.9 117.6h0M257.2 118.9h0M267.9 110.8h0M269.2 115.1h0M277.9 118.9h0M280.8 118.3h0M259.1 117.1h0M271.1 118.1h0M267.2 118.9h0M263.2 118.1h0M277.4 117.3h0M272.1 116.3h0M272.7 116.9h0M279.5 112.2h0M257.4 118.4h0M256.3 118.9h0M255.8 118.5h0M281.8 113.2h0M283.5 112.4h0M263.7 117.3h0M282.9 118.9h0M270.1 116h0M253.1 111.9h0M275.3 118.7h0M279.8 118.9h0M275.9 116.6h0M283.7 116.8h0M261.9 114h0M254.5 109.8h0M256.1 109.7h0M278.6 115.5h0M279.4 116.5h0M257.4 117.3h0M280.4 112.9h0M269.5 109h0M270.7 112.9h0M277.2 118.9h0M255.4 114.7h0M258.4 114.4h0M273.4 117.4h0M279 113.3h0M273.2 108.9h0M263.5 114.1h0M273.4 107.1h0M253.9 117.4h0M265.9 114.7h0M276.8 118.8h0M269.7 115.3h0M281.2 110.7h0M275.4 114.2h0M258.1 115.5h0M275 113.1h0M269.6 117h0M260.1 113.6h0M267 117.4h0M259.9 118.1h0M263.4 114.1h0M276.2 115.2h0M260.7 114.9h0M259.7 117.9h0M256.9 107.4h0M278.9 116.4h0M257.9 118h0M262 117.4h0M266 113.9h0M274.4 118.9h0M279 118.9h0M277.7 118.9h0M264.6 118.3h0M261 116.6h0M261 118.9h0M268.9 115.6h0M278.3 117.5h0M267.9 114.3h0M279.2 117.9h0M258 103.9h0M278.1 117.5h0M269.2 112.7h0M270.8 118.6h0M253.1 117.6h0M282 115h0M255.4 115.6h0M279.1 113.4h0M272.8 118.9h0M257.5 117.6h0M275.8 109.8h0M283.7 106.4h0M280.7 113.7h0M268.6 117h0M254.7 117.5h0M278.4 115.4h0M275.9 114.5h0M274.1 117.7h0M253.9 110.2h0M270.3 114.1h0M262.1 115.4h0M284.2 118.1h0M281 110.1h0M282.2 110.5h0M268.4 115h0M260.6 118.8h0M253.3 115.4h0M272.2 109.9h0M254.1 112.6h0M277.4 117.9h0M261.8 115h0M282.9 115.8h0M258.4 114.7h0M254 109.7h0M266.6 108.7h0M273.9 118.3h0M262.7 118.4h0M265.8 118.7h0M274.1 114.3h0M256.8 118h0M273.4 115.3h0M258 118.1h0M278.9 114.1h0M283.2 118.5h0M264.1 118.9h0M283.5 114.3h0M267.6 112.1h0M282.4 113.3h0M271.2 115.4h0M255.8 115.9h0M275.4 118.9h0M279.4 118.1h0M253.5 108.3h0M253.4 118.9h0M271.1 118.5h0M282 117.4h0M273.6 118h0M273.8 116.5h0M260 114.9h0M280.6 112.5h0M269.8 114.6h0M253.5 118.8h0M260.2 115.6h0M259.4 115.5h0M258.1 112.4h0M281.1 106.1h0M271 118.9h0M273 117.9h0M280.3 111.4h0M259 113.1h0M260.4 112.5h0M255.9 116h0M259.3 118.9h0M261.5 110.9h0M270.5 114.5h0M273.2 117.1h0M283 110.5h0M284.2 115h0M255.3 118.3h0M267.6 115.5h0M263.8 113.3h0M283.1 106.5h0M266 106.7h0M273 114.1h0M273 115.6h0M259.9 117.5h0M267.2 117.5h0M271.8 116.4h0M258.5 118.9h0M264.4 116.2h0M258.9 114.8h0M263.2 118.4h0M271.2 116.8h0M267.5 118.9h0M281.5 118.9h0M253.9 116.1h0M277.6 116.5h0M282.2 118.9h0M279.2 115.8h0M253.5 117.5h0M270.4 117.8h0M271.3 110.3h0M276.4 110.1h0M276.1 114h0M281.7 109h0M278.8 112h0M269 115.4h0M269.6 118.5h0M278.1 110.3h0M276.9 116.7h0M255.2 111.2h0M274.1 118.9h0M255.8 118.9h0M273.2 113.5h0M273 118.9h0M271.1 111.8h0M278.5 107.5h0M263 109.2h0M261.4 114.5h0M276.6 117.3h0M258.7 117h0M265.9 113.6h0M284 110.8h0M261.2 111.7h0M264.5 111.9h0M271.1 117.8h0M266.6 109h0M267.9 116.9h0M278.3 115.6h0M267.1 111.7h0M273.7 115.8h0M275 112.6h0M265.4 112.6h0M272.9 118.3h0M273.4 118.1h0M269.2 117.3h0M261.7 117.9h0M276.3 107.7h0M276.5 109h0M280.4 118h0M274.4 116.6h0M280.1 118.9h0M274.7 115.2h0M264.9 111.5h0M274 115.9h0M256.8 118.3h0M259.1 118h0M278.7 116h0M276.8 117.4h0M258.3 114.5h0M255.2 118.9h0M266.3 109.5h0M255.8 116.1h0M261.6 115.8h0M261 118.9h0M278.5 116h0M267.8 118.1h0M269.1 105.9h0M282.7 118.7h0M253.7 114h0M273.1 115.9h0M269.3 118.5h0M267.1 117.3h0M278.9 117.9h0M272.1 116.6h0M257.1 116.8h0M258.4 118.7h0M263.1 118h0M271.8 112.3h0M272.4 107.8h0M271.4 110.6h0M272.5 115.8h0M271.1 117.8h0M282.9 118.9h0M278.2 117.8h0M259.2 116.6h0M254.5 117.5h0M277 112.2h0M274.9 118.8h0M271.4 115.4h0M269.3 117.1h0M260.3 118.7h0M263.4 109.7h0M275.4 116.9h0M277.4 114.1h0M263 109h0M276.3 118.9h0M275.9 114.7h0M266 116.8h0M272 116.5h0M276.6 116.4h0M282.9 118.9h0M257.7 118.5h0M273 116.7h0M255.4 106.7h0M280.9 112.1h0M263.3 109.9h0M256 117.4h0M282.3 115.4h0M278.6 118.9h0M270 113.3h0M277 118.9h0M269 112.6h0M271.2 114.1h0M264.8 117.5h0M265 113h0M255.9 118.9h0M265 118.7h0M255.1 111.4h0M265.6 109.6h0M261 116.4h0M281.6 118.9h0M268.3 118.5h0M269.4 111.8h0M258.9 111.2h0M278.8 109.3h0M260.8 118.9h0M253.3 114h0M273.4 106.3h0M277.2 116.3h0M273.6 117h0M278.2 118.9h0M261.1 114.3h0M260.9 118.9h0M253.2 118.9h0M258.3 118h0M276.5 112.7h0M274.6 114h0M253.2 114.9h0M255.7 117.2h0M262.3 118.1h0M261.2 105.6h0M273.9 118h0M265.9 117.7h0M266.9 118.4h0M257.1 109.8h0M265.2 117.5h0M274.9 114.8h0M266.1 108.5h0M260 114.6h0M261.2 115.5h0M274.2 109.4h0M264.5 107.8h0M260.9 118.9h0M259.4 115h0M281.7 118.4h0M255.5 118.2h0M258.4 114.7h0M278.1 118.5h0M259.6 115.2h0M254.9 107.4h0M268.4 114.7h0M276.5 118.6h0M279.6 118.9h0M267.9 115h0M267.7 113.2h0M263.3 112.6h0M282.4 118.3h0M265.9 118.9h0M269.3 115h0M271.4 109.4h0M269 118.9h0M261.3 116.7h0M272.9 116.2h0M253.5 112h0M277.2 116.7h0M269.1 111.8h0M279.6 112.6h0M266.2 117.8h0M269.7 116.9h0M277.1 111.8h0M262.3 116.3h0M270.8 117.1h0M253.1 111h0M281.4 117.7h0M267.9 117h0M253.1 116.9h0M270.1 116.5h0M271.5 115h0M276.5 116.4h0M271 115.9h0M272.5 116.7h0M267.3 112.9h0M278.2 110.1h0M257.8 118.3h0M258.3 116.7h0M263.4 114.3h0M255 115.5h0M255.6 118.2h0M274.6 117.9h0M265.9 114.5h0M274.9 116.4h0M259.4 112.5h0M256.9 114.7h0M275.5 117.6h0M259.4 117.7h0M261.4 114.8h0M258.2 118.9h0M269.8 113.1h0M278.9 112.8h0M262.9 118.4h0M260.2 117.6h0M265.5 116h0M266.3 116.5h0M253.1 116h0M268.4 104.5h0M283 103.9h0M263 117h0M257.2 118.9h0M269.3 116.5h0M253.7 112.9h0M265.5 114.2h0M276.7 118.9h0M276.1 114.3h0M274.6 116.4h0M277.5 111.8h0M276 106.8h0M265 115.7h0M271.5 113.1h0M271.3 118.9h0M267.1 111h0M277.5 111.7h0M281.5 115.3h0M269.3 112.5h0M259.3 110.1h0M259.2 114.1h0M265.2 117.9h0M278.5 117h0M276.9 114.9h0M253.3 116.9h0M277 117.9h0M262 117.8h0M259.1 117.5h0M274.8 118.4h0M260.1 118.5h0M253.8 118.4h0M269.4 110.5h0M263.1 111.2h0M260.2 117.4h0M269.9 115.5h0M274.3 118.9h0M266.4 114.1h0M274.8 118.3h0M269 109.7h0M260.1 117.5h0M263.6 112.3h0M276.5 118.6h0M256.3 113.9h0M267.4 114.5h0M260.2 115.6h0M273 106.2h0M269.5 116h0M277.4 114.4h0M262.5 114.1h0M262.3 117.3h0M272.1 116h0M279.1 107.9h0M262.3 118.4h0M278.3 118.9h0M265.9 118.3h0M277.3 118.3h0M259 115.1h0M272.4 117.1h0M263.5 117.8h0M261 117h0M256.4 113.1h0M284 116.8h0M253.1 116.3h0M257.6 116.4h0M253.5 118.2h0M268.2 117.6h0M267.1 113.9h0M271 109.8h0M276.6 118.9h0M274.6 110.9h0M277.1 114.3h0M267 107.4h0M255.1 115.4h0M280.9 117.3h0M259.1 113.7h0M269.9 116.7h0M273.9 116.3h0M276.6 115.5h0M268.9 115.1h0M263.7 113.9h0M269.8 117.3h0M260.9 116.1h0M273.6 114h0M265.3 118.7h0M280.2 114.9h0M278.2 115h0M265.5 115.5h0M268.2 118.4h0M262.2 118.9h0M277.2 117.5h0M273.3 116.3h0M258.3 114.2h0M273.5 113.2h0M260.9 116.7h0M269.1 113.5h0M272.4 111.6h0M276 116.6h0M253.1 118.9h0M266.8 118.5h0M278.5 118.9h0M269.9 117.9h0M276.8 105.6h0M276.2 115.3h0M276.9 114.5h0M277.4 116.6h0M257.2 110.2h0M269.4 116.2h0M280.8 117.7h0M267.9 118.9h0M254.1 116.4h0M260.5 110.1h0M270.4 113.1h0M269.1 114.9h0M275.2 115.1h0M280 114.9h0M263.5 112.9h0M260.5 114.3h0M271.8 117.6h0M268.7 110.8h0M266.9 116.5h0M274.4 107.1h0M263.1 115h0M266.5 118.9h0M277.7 115h0M262.8 115.7h0M270.3 113.9h0M262.2 116.8h0M268.5 101h0M275.1 113.5h0M261.6 116.2h0M257.9 115.4h0M262.2 112.4h0M265.4 117.7h0M272 118.8h0M284.1 117.1h0M256.3 114h0M269.6 112.2h0M280.5 115.4h0M261 108.3h0M269.5 110.8h0M280.7 110.3h0M271.6 112.4h0M275.6 110.6h0M276.3 109.5h0M283.4 116.3h0M258.9 117.7h0M267 111.8h0M267.3 116.6h0M283.1 118.9h0M269.3 118.9h0M273.4 118.9h0M258.7 110.6h0M281.2 107h0M272 115.1h0M275.5 116.4h0M283.9 108.8h0M257.3 116.7h0M280.5 118h0M280 111.7h0M264.8 114.6h0M272.6 117.1h0M270.1 118.6h0M276 118.9h0M253.9 118.6h0M263 111.4h0M274.4 111.1h0M280.5 118.9h0M276.7 111.1h0M259.5 118.9h0M273 112.4h0M268.2 109.7h0M277.9 116.1h0M258.6 115.2h0M254.5 114.3h0M277.6 115.3h0M266.1 115.6h0M261.1 117.2h0M266.4 113.2h0M273.3 117.6h0M277 116.5h0M266.8 116.6h0M271.9 117.6h0M274.1 117.5h0M263.6 109.7h0M269.8 115.5h0M253.1 116h0M275.6 114.6h0M281.8 115.9h0M254.1 114.8h0M272.8 116.8h0M263.9 118.8h0M261.6 115.9h0M265.6 114.6h0M282.4 116.7h0M268.8 116.9h0M269.4 118.4h0M276.7 115.6h0M271.4 106.6h0M264.3 109.2h0M283.3 108.6h0M256.1 118.1h0M261 116.7h0M277.2 114.4h0M262.7 114.4h0M267.9 118h0M259 115.5h0M282.6 116.4h0M279.4 118.1h0M276.3 118.8h0M269.4 115.4h0M278.4 115.7h0M254.3 107.5h0M263 115.7h0M283.8 115.4h0M283.2 115.6h0M277.1 112.6h0M279.4 117.8h0M283.7 112.1h0M257.8 114.6h0M279.6 117.8h0M267.2 116.1h0M273 115.5h0M269.8 109.7h0M261.5 117.8h0M253.6 113.8h0M271.8 113.8h0M255.4 110.9h0M268.6 118.4h0M253.1 117.4h0M267.5 118.7h0M275 118.6h0M275.3 114.1h0M261.3 118.2h0M274.9 118.2h0M260 103.8h0M277.2 112.4h0M258.4 117.9h0M268.2 114.3h0M261.4 112.2h0M264.9 105.5h0M259.1 118.7h0M265.6 117.1h0M256.2 104.4h0M268 116.2h0M273.2 116.4h0M254.4 115.4h0M279.3 106.7h0M283 118.9h0M258.8 118.7h0M253.3 116.2h0M267.6 108.5h0M267.8 117.7h0M258 116.6h0M253.6 118.1h0M264.8 118.4h0M283.4 117.6h0M279.2 112.3h0M262.3 118.9h0M277 115.6h0M278.9 114.2h0M269.5 118.9h0M279.9 116.1h0M257.3 115.9h0M281.6 113.2h0M256.3 117.8h0M260.3 110.4h0M265 112.5h0M277.5 104.6h0M264.5 108.3h0M262.7 118.9h0M254.9 117.9h0M260.9 112h0M253.1 116.7h0M274.1 107.3h0M273.7 118.1h0M280.4 115.5h0M267.5 112.9h0M274.1 116.2h0M280.2 111h0M282.5 118.5h0M265.6 117.8h0M264.3 115.7h0M280.9 117.6h0M255.4 115.9h0M275.4 114.3h0M257.4 117.2h0M276.7 116.3h0M267.5 115h0M264.4 111.8h0M281.9 117.8h0M263.1 112.3h0M267.1 117.8h0M279.3 118.9h0M281.4 112.7h0M279 115.3h0M273 114.4h0M277.3 118.9h0M277.9 105.6h0M268 108.9h0M253.1 111.9h0M261.2 118.3h0M274.7 118.3h0M262 118.9h0M261.5 117.8h0M264.1 113.9h0M271.5 111.4h0M257.4 107.3h0M260 117.6h0M274.7 118.7h0M269.7 115h0M278.9 116.1h0M270.7 118.7h0M254.2 118.7h0M263.1 112.7h0M272.4 115.6h0M271.1 114.6h0M277.9 114.5h0M279.5 106.5h0M258.5 115.9h0M279.4 117.2h0M259.3 112.5h0M270.3 111.3h0M274.1 118.9h0M263.1 111.8h0M276.9 114h0M279.8 115.7h0M264 111.8h0M262.6 116.9h0M277.6 118.5h0M265.2 116h0M280.5 118h0M278.2 118.9h0M258.3 108.1h0M276.8 117.2h0M276.1 115.5h0M256.2 118.9h0M283.6 118.8h0M275.1 116.4h0M277.3 118.1h0M280.7 113h0M271.6 109.5h0M253.1 117.1h0M284.1 112.9h0M260.1 115.8h0M279.9 114.9h0M254.4 114.1h0M273.9 115.4h0M278.2 113.3h0M270.6 109.9h0M258.4 116h0M265 116.6h0M281.4 111.2h0M275.7 115.9h0M259.7 112.7h0M277.1 117.9h0M264.4 115.9h0M266.2 118.9h0M256.4 117.4h0M281.8 118.9h0M257.8 114h0M253.1 113h0M255.2 110.3h0M279.5 115.3h0M259.7 110.7h0M274.9 118.7h0M260.2 113h0M268.2 118.9h0M267.1 105.2h0M270.7 117h0M281.1 114.3h0M280.7 113.2h0M283.9 108h0M253.1 118.9h0M279.1 117.2h0M257.1 118.6h0M258.9 116.1h0M262.8 116.3h0M258.5 117h0M277.3 118.9h0M267.7 112.4h0M274.9 115.6h0M256.6 118.9h0M279.2 118.9h0M270.9 115.4h0M282.6 116.4h0M263.4 115.9h0M267 113.4h0M270 115.9h0M262.5 116.3h0M278.1 114.5h0M281.2 118h0M282.1 116h0M262.1 116.7h0M255.7 114.1h0M268.9 116.9h0M283.2 118.6h0M265.5 118.9h0M255.5 112.8h0M263.1 118.9h0M276 115h0M261.5 118.9h0M270.8 110.9h0M267.1 118.9h0M268.7 117h0M263.4 118h0M255.3 117.3h0M263.1 111.1h0M272.6 116.9h0M260.6 112.5h0M256.2 115.7h0M277.4 111.2h0M266.4 111.3h0M267.1 117.9h0M279.5 117.5h0M271.4 118.8h0M261.4 117.6h0M257.3 117.1h0M282 114.8h0M267.4 114.3h0M265.6 117.3h0M254.7 116.8h0M259 113.9h0M276.4 108.4h0M269.7 118.1h0M279.1 116.6h0M267.8 118.9h0M259.4 118.8h0M274.3 118.9h0M277.7 114.9h0M274 117.6h0M265 108.1h0M266.3 117.1h0M278.1 118.9h0M273.7 107.1h0M253.1 116.2h0M273.1 115.4h0M256.2 112.4h0M270.6 108.9h0M268.6 118.3h0M256.9 117.1h0M265.3 115.8h0M269.9 114.7h0M255.1 117.2h0M276.3 109.9h0M272.5 112h0M255.5 117.1h0M259.1 118.9h0M263.6 103.4h0M262.4 114.9h0M277.5 116.2h0M263.4 117.2h0M257.5 118.2h0M256 114.3h0M267.4 110.4h0M270.7 113.1h0M259.7 114.3h0M263.6 118.7h0M284.1 114.6h0M267.3 113.3h0M280 118.9h0M258.2 113.1h0M280.5 117h0M253.1 118.9h0M275 117.3h0M282.3 118.7h0M261.3 118.6h0M267.5 114.9h0M260.4 116.1h0M276.2 118h0M272.2 104.2h0M276.9 116.9h0M253.7 117.1h0M278.5 111.8h0M279.3 111.9h0M256.4 118h0M270.1 109.1h0M277.5 118.7h0M260.5 118.9h0M254.8 118.7h0M281.6 114.2h0M259.4 113.8h0M282.8 118.9h0M274 117.5h0M261 118.3h0M256.4 115h0M258.2 118.9h0M253.5 115.4h0M268.4 113.5h0M271 118.9h0M271.5 116h0M271.2 114h0M259.4 118.7h0M259.7 117h0M262 110.1h0M278.7 114.7h0M255.5 117.3h0M281.9 118.9h0M265.1 103h0M268.4 117.5h0M263.8 118.8h0M255.3 116.9h0M271.8 118.9h0M269.6 110.7h0M272.1 114.7h0M277.7 111.6h0M272.2 113.6h0M278.9 113.9h0M281.1 113.8h0M253.1 113.8h0M268.5 117h0M259.9 116.6h0M263.9 113.3h0M253.1 117.8h0M284 116.8h0M255.4 117.8h0M284.2 110.5h0M275.8 118.5h0M280.9 112.1h0M279.3 105.5h0M270.8 118.9h0M265.5 117.5h0M270.1 112.2h0M262.4 114h0M280.2 118.5h0M256.4 113.8h0M269.8 116.7h0M253.5 116.8h0M258.6 118.5h0M277.1 115.9h0M268 118.9h0M278.6 118.2h0M268.7 113.2h0M278.2 110.4h0M266.5 117.2h0M256.4 116.2h0M270.6 117.7h0M273.9 114.4h0M254.4 118.9h0M266.4 113.6h0M266.6 116.3h0M254.7 115.8h0M261.1 115h0M282.7 118.9h0M253.6 117.5h0M254.5 118.3h0M266.8 118.9h0M281.8 118.9h0M269.5 111.1h0M258 118.6h0M266.4 118.9h0M255.8 115.1h0M264.3 115.5h0M258.4 117h0M283.1 115.9h0M283.1 118.9h0M267.8 118.4h0M280.7 118.6h0M265.8 103.1h0M261.1 115.6h0M269.4 117.5h0M261.7 113.1h0M268.3 113.8h0M255.1 110.5h0M258 113.8h0M265 114h0M269 105.9h0M276.3 112.3h0M267.5 113.1h0M259.4 112.2h0M257.4 117.6h0M271.3 114.4h0M268 118.1h0M264.1 109.1h0M262.7 107.7h0M267.6 115h0M278.2 118.9h0M268.5 114.7h0M274.5 108.6h0M282.7 117.1h0M272.4 116.7h0M253.2 111.9h0M275.6 110.7h0M280.6 111.1h0M259.9 115.4h0M261.5 117.1h0M277.2 118h0M255.8 118.9h0M279.3 115.3h0M283.2 112.7h0M273.6 117.7h0M267.2 113.2h0M274.8 118.6h0M269.1 115.9h0M253.3 113.8h0M258.1 116.4h0M264.3 114.2h0M260.7 117.2h0M257.6 118.5h0M276.2 115h0M279.4 109.8h0M268.5 116h0M276.3 115.6h0M283.4 115.9h0M281.6 115.8h0M253.1 118.9h0M259.7 106.2h0M272.7 115.3h0M282.5 116.1h0M255.3 118.3h0M257.4 116.6h0M259.6 112.4h0M268.8 117.5h0M278.1 111.5h0M263.3 107.2h0M269.4 115.6h0M281.8 116.9h0M264.5 114.3h0M256.3 117.9h0M263.7 116.7h0M270.4 109.4h0M254.4 112.8h0M272.2 115.5h0M260.7 113.4h0M260.6 117h0M278.7 118.3h0M276.7 117.9h0M266.8 114.1h0M279.9 116.9h0M255.5 108.2h0M266.3 115.2h0M283.5 116.9h0M269.5 111.7h0M275.2 111.1h0M260 115.1h0M265.9 118.9h0M274.9 118.9h0M271.8 118.9h0M275.6 109.7h0M276.8 115.6h0M273.4 117.1h0M260.6 109.8h0M268.7 117.4h0M279.9 116.8h0M264.9 114.1h0M261.3 117.3h0M278.9 118.9h0M260.3 116.9h0M263.6 118.2h0M263 115.9h0M259.4 116.2h0M267.6 113h0M264.6 118.9h0M269.8 114.5h0M274.8 118.9h0M266.2 118.2h0M277.9 114.2h0M284 117.3h0M254.1 110.9h0M274.3 118.4h0M277 116.5h0M278.6 114.7h0M258.3 116.8h0M258.9 113.2h0M283.6 118.9h0M264.3 116.7h0M276.9 118.9h0M263.8 117.3h0M274.6 109.9h0M270.7 118.9h0M275 116.7h0M270.7 116.1h0M266.8 116.2h0M255.5 113.6h0M270.4 117.9h0M268.1 114.3h0M284.1 115.1h0M257.6 114.2h0M277.4 112.4h0M258 118.9h0M272.4 111.1h0M262.8 117.1h0M260.8 114.2h0M267.4 117.5h0M283.2 110.8h0M275.5 117.3h0M282.6 118.4h0M280.2 115.3h0M255 111.9h0M262.6 112.2h0M259.2 118.9h0M280.6 110.9h0M280.6 118.9h0M260.6 117.1h0M256.3 112.8h0M253.4 110.3h0M279.2 117.4h0M264.7 112.6h0M262.3 118.1h0M263.2 116.3h0M274.7 116.8h0M270.1 117.6h0M276.2 117.9h0M267.8 114.1h0M271.1 112.8h0M260.6 114.8h0M276.3 115.6h0M260.6 106.4h0M283.7 118.4h0M264.7 117.5h0M276.8 114h0M273.2 115.7h0M283 118.9h0M269.5 113.1h0M277.2 116.5h0M281.4 113.2h0M256 113.9h0M272.8 118.4h0M258 118.9h0M265.8 115.3h0M261.3 104.1h0M261.3 117.3h0M271.4 114h0M279.5 118.9h0M264 113.8h0M274.5 113.1h0M267.9 114.8h0M275.7 118.5h0M265.3 109.7h0M265.9 109.9h0M270.5 116.4h0M272.7 118.6h0M269.5 117.8h0M268.7 116h0M253.5 110.2h0M279.7 117.4h0M282.7 118.2h0M282.3 116h0M278.4 114.9h0M254.4 118.9h0M272.4 118.7h0M254 111.4h0M269.6 117h0M264 118.9h0M261.6 117.1h0M259.3 118.9h0M258.7 116.8h0M265.4 112.5h0M261.8 114.4h0M277.2 111.6h0M275.8 116.2h0M263.9 118.9h0M279.5 118.1h0M275.4 115.1h0M257.6 117.2h0M275.7 114.8h0M263 109.5h0M279.8 115.5h0M278.1 117.5h0M254.9 118.7h0M270.4 114.2h0M258.1 118.9h0M275.5 108.5h0M256.1 117.3h0M258.7 118.2h0M261.5 114.9h0M282.4 118.7h0M255 111.9h0M277.6 118.9h0M267.6 117.4h0M261.5 117.2h0M279.7 112.8h0M281.6 118.5h0M281.8 112.9h0M267.3 102.6h0M256.6 117h0M283.8 113.4h0M256.5 116.9h0M253.7 115.6h0M257.6 117.6h0M275.6 107.7h0M273.4 115.4h0M264.5 117.4h0M254.8 116.9h0M281.5 116.4h0M281.4 117h0M257.1 106.5h0M273.5 114.1h0M283.8 114.9h0M275.9 116.3h0M278.9 112.3h0M268.2 112.8h0M275.2 114h0M260 116.2h0M254.4 106.6h0M266.6 116h0M278.2 110.4h0M262.6 110.7h0M283.4 117.9h0M256.3 108.9h0M253.6 118.5h0M255.2 118.9h0M281.7 118.9h0M253.4 113.8h0M265 116.7h0M276.3 118.8h0M282.4 118.7h0M254.7 116.7h0M257.9 116.6h0M255 118h0M263.4 115h0M280.8 117.1h0M256.9 117.6h0M263.9 112.1h0M264.2 116.5h0M274.1 117.7h0M284 118.8h0M276.3 117h0M273 118h0M269.4 118.9h0M273.7 117.7h0M282.7 116.8h0M258.7 112.1h0M272.5 117.8h0M281.2 115.8h0M261.6 113.9h0M281.3 117.1h0M274.8 118.9h0M280.8 114.1h0M282.3 113.6h0M261.2 117.6h0M273.9 115.7h0M278.6 116.4h0M268.3 116.4h0M272.7 111.4h0M258 117.9h0M259.1 118.9h0M256 116.8h0M283.5 114.2h0" stroke="#6c6c6c" stroke-width="1.15" stroke-linecap="square" fill="none"/>
<path d="M288.4 118.7h0M292 118.9h0M310.5 114.7h0M291.6 113.6h0M291.4 118.9h0M299.7 118.9h0M319.4 116.6h0M302.9 112.8h0M291.5 115.2h0M284.3 108h0M290 117.2h0M285.3 118.9h0M313.9 116.9h0M320.6 112.2h0M311.1 118.9h0M306.5 113.5h0M293.1 117.1h0M284.3 116.2h0M309.6 117.5h0M295.2 107.5h0M305.2 115.4h0M296.2 116.6h0M286.9 115.2h0M285.3 110.6h0M305.4 118.9h0M324.7 117.4h0M326 113.4h0M284.3 118.9h0M308.1 118.9h0M285.8 115.2h0M294.8 117.9h0M301 114.2h0M304.6 116h0M287.8 111.9h0M309.9 106.1h0M295.7 117.6h0M294.7 113.1h0M309 117h0M291.8 110.4h0M287.9 118.6h0M287.9 115.6h0M290 113.5h0M316.8 114.6h0M291.2 106.3h0M284.6 116.1h0M285 114.1h0M302 118.1h0M304.5 113.2h0M326.6 118.1h0M325.4 110.8h0M291.6 118.1h0M304.2 117.1h0M298.9 118.9h0M305.5 111.8h0M286.7 114.4h0M304.7 113.7h0M307.9 106.9h0M306 118.9h0M290.6 110.9h0M315.9 114h0M292.8 115.4h0M320.2 110.9h0M301.8 112.9h0M297.3 116h0M289.2 114.4h0M295.3 113.1h0M301.6 109.2h0M293.2 110.2h0M292.8 113.3h0M325.7 113.9h0M309.2 118.9h0M305 103.2h0M285.7 112.7h0M298.9 117h0M323.9 109.5h0M311.2 118.3h0M284.3 112.8h0M290.1 117.3h0M317.5 107.6h0M326 117.4h0M292.9 112.9h0M286.7 118.4h0M320.3 115.5h0M305.8 118.9h0M298.3 115.4h0M322 118.1h0M314.3 110.6h0M319.1 111.8h0M290 118.5h0M289.3 113.2h0M305.8 114.7h0M298.6 118.9h0M294.8 110.1h0M308.1 114.3h0M291.3 116.6h0M320.4 116h0M324.2 118.7h0M298.4 113.5h0M286.9 113.7h0M289.5 112.4h0M291.6 112.6h0M287.2 106h0M306.1 112.5h0M326.2 111.8h0M290.6 113.4h0M296.4 104.1h0M304.6 111.3h0M284.8 117.9h0M285.8 108.7h0M286 112.9h0M293.9 113.4h0M303.9 112.9h0M309.9 118.9h0M288.9 108.7h0M296.1 112.9h0M311.2 118.2h0M299.4 113.9h0M285.6 106.3h0M302.9 118.6h0M285.7 107.6h0M301.8 115.9h0M285.4 110.9h0M296.8 114.5h0M291.3 118.9h0M306.8 113.9h0M296.3 116.8h0M302.1 111.7h0M318.7 113.9h0M323.5 114.8h0M300.2 114h0M287.3 118.9h0M294.6 115.6h0M292.8 110.9h0M307.5 114.8h0M289.8 116.5h0M306.4 114.8h0M287 115.2h0M290.7 104.8h0M289.9 109.2h0M289 113.1h0M285.6 113.8h0M287.3 116.5h0M310 111h0M290.9 115.9h0M286.9 114.8h0M293.3 115.2h0M302.5 114.1h0M289.1 118.4h0M301.2 112.5h0M290.4 109.5h0M304.2 114.4h0M285.8 112h0M308.1 110.3h0M314.8 114.4h0M287.3 111.1h0M289.9 106.2h0M303.4 118.2h0M303.6 118.1h0M292 115.6h0M294.7 118.9h0M315.4 118.5h0M287.5 113.1h0M293.8 117.7h0M295.1 113.8h0M298.7 113.1h0M284.7 113.4h0M297.4 106.9h0M303 118.9h0M304.7 118.7h0M290.1 118.1h0M318.7 113.8h0M291.8 115h0M284.8 117h0M310.2 118.7h0M300.3 116.2h0M285.5 116.5h0M288.2 117.9h0M294.7 113.5h0M285.5 113.5h0M326.8 117.2h0M288.7 113.6h0M294.6 108.3h0M307.2 118.6h0M288.4 109.7h0M312.5 114.9h0M290.7 117.2h0M305.7 115.4h0M294.7 112h0M318.2 110.2h0M298.6 110.7h0M300.3 115.3h0M307.3 107.9h0M295.7 112.6h0M289.2 111.8h0M287.1 115.8h0M306.5 116.3h0M284.6 118.8h0M284.7 117.7h0M288.4 117.6h0M301.2 116.8h0M313.5 116.3h0M315.4 116.7h0M323.1 106h0M301.6 110.4h0M284.3 115.8h0M323.3 118.7h0M288.9 111.5h0M318.4 113h0M302.9 118.9h0M285 108.4h0M293 113.2h0M295.3 110.5h0M287.6 116.7h0M294.6 116.5h0M298.7 102.7h0M301.3 118.9h0M290.8 102.5h0M287.8 105.5h0M286 118.9h0M316.8 111.2h0M299.2 111.8h0M319.7 113.5h0M303.8 116.8h0M301.8 111.5h0M303 116.1h0M295.7 112.2h0M306.9 113.4h0M318.1 111.6h0M295.4 118.9h0M292.5 114.7h0M302 115.6h0M296.6 118.9h0M289.9 118.4h0M304.9 113.6h0M296.1 118.9h0M289 118h0M301.2 116.5h0M292.1 116.1h0M304 112.5h0M298.4 114.4h0M291.4 116.4h0M297 118.2h0M293.6 116.8h0M316.4 113.5h0M311.9 108.1h0M305.8 118.6h0M297.3 118.6h0M294.8 114.4h0M286.8 113.1h0M304 115.7h0M285 111.7h0M299.5 114.5h0M291.8 118.6h0M318.8 115.3h0M288.8 114.2h0M322.8 118.9h0M290.1 117.3h0M316.7 118.1h0M318.4 118.6h0M291.2 116.9h0M287.5 108.9h0M285.9 112.8h0M286.5 114.4h0M289.5 114.1h0M296.3 117.1h0M294.6 112.8h0M306.2 117.2h0M312.9 113h0M307.5 118.2h0M288.7 111.5h0M306.8 118.9h0M301 110.8h0M299.3 117.9h0M296.7 114.9h0M317 111.4h0M284.5 114.5h0M296.2 107h0M303.3 114.6h0M307.1 116.8h0M298.9 117.6h0M310.5 116.4h0M287.3 109.3h0M291 117.5h0M293.8 118.9h0M298.4 106.2h0M309.2 117.3h0M290.4 112.9h0M310 114.7h0M286.6 114.6h0M298 116.5h0M315.6 114.6h0M287 117.4h0M307.6 111.8h0M300.5 118.9h0M289 111.7h0M311 115.6h0M289.7 112.3h0M286.1 118.9h0M309.3 116.5h0M290.5 109.7h0M308 117.1h0M290.6 118.7h0M306.8 118.9h0M294.5 114.8h0M305.1 114.2h0M288.7 112.2h0M297.1 110.8h0M306.7 116.7h0M289 110.3h0M309.4 117.8h0M318.2 106.3h0M307.3 117.7h0M289.2 107.9h0M285.3 115.8h0M295.8 114.6h0M287.7 113h0M299.4 118.8h0M285.8 113.2h0M301.4 113.1h0M291.8 106.4h0M288.5 113.3h0M286 118.9h0M301.3 115.5h0M287.5 105.6h0M286.9 109.1h0M319.1 118.5h0M305.1 113.2h0M307.8 115.7h0M295 108.7h0M285.1 118.9h0M305.5 108.9h0M296.9 118.8h0M284.9 118.9h0M301.6 118.3h0M314.9 113.3h0M306.5 118.1h0M289.3 118.3h0M316.1 118.7h0M285.1 114.4h0M299.1 115.2h0M291.9 118.1h0M287.9 103h0M299.1 112.9h0M285.7 110.8h0M292.6 117.4h0M289.3 109.4h0M315 118.4h0M322.4 116.6h0M314.2 118.7h0M291.8 109.3h0M290.1 111.8h0M310 101.4h0M288.4 118.8h0M297.4 110.2h0M290.7 116.2h0M292.4 115.9h0M290.8 116.5h0M308.7 111.3h0M300.5 117.7h0M286 116.1h0M327 117.1h0M293.2 110.9h0M286.5 115.6h0M285.2 112.1h0M303.3 114.2h0M296.2 116.5h0M321 117.4h0M296.8 107.1h0M309.4 117.8h0M291.6 116.1h0M290.5 118h0M286.1 104.4h0M307.7 117.9h0M327.7 113.3h0M300.8 112.2h0M285.8 110.3h0M293 109.5h0M304.3 111.9h0M312.5 117.3h0M297.2 118.6h0M312.5 107.8h0M285.3 115.2h0M316.6 110.4h0M286.4 118.9h0M324.4 118.4h0M311.5 111.5h0M294 116.5h0M287.5 115.2h0M307.4 111.3h0M309.4 115.3h0M295.8 112h0M290.6 118.3h0M315.7 118.9h0M290.1 114.4h0M313 118.9h0M289.8 112.7h0M297.3 116h0M286.5 115.3h0M302.4 115.9h0M315 116h0M321.8 114.8h0M307.8 117.8h0M306.2 114.9h0M315.4 115h0M301.9 117h0M297.8 118.6h0M316.8 114.5h0M291.5 104h0M289.6 118.1h0M317.5 112.8h0M304.3 113.5h0M285.1 104.8h0M320.8 111.8h0M287.5 115.5h0M289.3 112.4h0M285.8 117.1h0M311.2 106.4h0M292.7 118.6h0M296.8 118.2h0M286.8 118.9h0M302.1 115.2h0M308.8 107.8h0M290.3 109.9h0M288.1 117h0M304.6 118.9h0M301.4 118.9h0M295.2 117.1h0M314.9 117h0M294.5 116.1h0M291.1 106.9h0M289.1 113.3h0M323.8 114.9h0M295.9 114h0M314.2 109.5h0M317.8 115.5h0M294.3 115.9h0M290.5 115.7h0M293.7 107.2h0M301.4 117.7h0M301.1 118.9h0M291.2 117.2h0M323.1 117.1h0M310 115.9h0M287.3 115h0M287.6 113.2h0M289.5 115.9h0M316.9 116.3h0M310 116.8h0M288.6 116.2h0M303.8 116.8h0M296.4 111.8h0M289.1 112.1h0M308.4 118.8h0M285 114.2h0M291.6 118.6h0M284.8 117.6h0M306.2 100.7h0M284.7 118.9h0M292.6 107.7h0M289.2 113.8h0M290 109.9h0M287.1 118.6h0M307.7 114.7h0M304.7 114.7h0M291.5 118.4h0M287.6 118.1h0M303.4 110.4h0M303 118.7h0M303.8 115h0M304.3 115.3h0M286.4 112.2h0M292.6 118.7h0M289.3 116.1h0M292.7 108.7h0M293.5 115.9h0M317.4 118.9h0M285.4 116.3h0M308.2 108h0M285.8 118.9h0M309.6 118.9h0M303.3 116.6h0M310.8 118.8h0M293.1 110.8h0M290.9 105.4h0M305.6 118.3h0M294.7 118.5h0M287.6 118.9h0M290.1 111.4h0M286.9 107.8h0M303.9 116.8h0M313.1 108h0M292.1 116.1h0M326.8 110.2h0M310.1 110.6h0M301.2 116.4h0M295.4 116h0M313.7 114.4h0M294.1 111.7h0M292.2 118.9h0M286.7 116h0M299.4 118.9h0M287.8 118.9h0M300.5 112h0M299.5 111.3h0M300.1 114.1h0M291.1 118h0M297 118.9h0M312.3 118.5h0M296.5 115.7h0M286 116.8h0M290.2 116.6h0M308.8 106.7h0M314.8 112.4h0M293.4 116h0M287.5 116.1h0M302.5 114.1h0M289.6 118.4h0M295 118.6h0M286.9 102.5h0M304.1 116.9h0M292.9 117.1h0M303.6 117.9h0M284.4 114.5h0M302.4 118.9h0M289.5 117.7h0M315.9 109.5h0M308.4 108.1h0M294 117.9h0M286.5 116.6h0M294.5 118.1h0M296.4 110.3h0M318 113.1h0M288.6 111.8h0M295.5 117h0M302.5 112.8h0M303.8 111.9h0M285 118.9h0M313.6 117.5h0M292.2 117.1h0M320.2 113.7h0M291.9 118.2h0M286.6 97.6h0M298.4 116.5h0M290.9 118.2h0M326.6 118.9h0M317.3 118.9h0M299 110.8h0M293.7 118.9h0M300.9 116.2h0M292.1 118.9h0M298.6 118.9h0M313.5 115.4h0M294 100.9h0M293.4 117.7h0M287.8 110.6h0M292.9 113.5h0M291.4 111.9h0M299.4 113.3h0M304.1 118.9h0M319.3 115.7h0M308.5 117h0M292.2 118.9h0M301.7 115.8h0M307.9 117.2h0M285.3 115.4h0M316.6 117.1h0M300.7 117.4h0M290.9 115.8h0M285.5 113.5h0M286.4 114.9h0M293.1 113.4h0M308.4 109.9h0M285.5 115.5h0M291.4 115.5h0M322.6 111.4h0M290.7 115.4h0M293.3 112.9h0M311 112.7h0M300.3 104.7h0M287.9 114.3h0M289.6 112.4h0M301.2 114.2h0M297.8 118.8h0M289.1 117.1h0M292.1 118.9h0M289.8 112h0M305.7 113.7h0M288.2 109.7h0M284.8 118.8h0M312.9 116.1h0M301.3 117.4h0M309.2 118.7h0M284.7 115.2h0M302.5 115.6h0M286.2 112.9h0M285.3 118.7h0M284.5 118h0M285 111.6h0M286.8 114.4h0M319.5 112.8h0M288.8 116.2h0M289.3 118.9h0M288.5 114.9h0M317.1 113.1h0M303.9 105.1h0M294.1 113.1h0M311.2 112.4h0M309.2 118.2h0M308.7 111.2h0M309.4 116.2h0M311.8 111.8h0M295.6 118.3h0M318.4 114.5h0M295.8 116.8h0M299.2 118.9h0M305.8 115.3h0M318.7 115.3h0M294.5 112.2h0M289.1 110.3h0M328.7 117.9h0M317.7 109.8h0M302.1 118.9h0M323 112.2h0M313.7 117.2h0M294.9 113.4h0M301.1 117.9h0M320.7 117.5h0M291.5 115.4h0M288.7 108.9h0M297.4 113h0M291.5 112.9h0M288.6 117h0M308.5 114.2h0M285.5 111.9h0M299.8 118.9h0M293.4 114.5h0M306.3 118.8h0M295.7 108.6h0M319.2 113.1h0M287.2 118.8h0M307 109.2h0M319.3 116.1h0M292.2 111.6h0M315.2 113.2h0M317.8 116.2h0M302.7 116.1h0M310.6 116.3h0M295.1 115.8h0M299.4 118.9h0M298.6 117.1h0M290.6 114.5h0M298.2 117.4h0M317.4 115.3h0M284.8 116.3h0M302.5 112.2h0M323.5 109.7h0M289 113.1h0M306.7 113.1h0M314 117.6h0M295.3 116h0M299.5 118.9h0M318 107.2h0M317.9 114.3h0M295.3 111.9h0M305.4 110.3h0M291.7 109.7h0M298.6 115.5h0M303.9 113h0M290.6 111.8h0M304.4 117.4h0M301.1 118.9h0M295.9 116.5h0M297.8 114.1h0M289.4 112.2h0M290.6 116.6h0M290.9 116.4h0M304.2 108.5h0M298 112.4h0M309.8 112h0M293.5 107.9h0M292.5 113.8h0M295.7 112.4h0M311.3 118.7h0M300.6 115.3h0M309.9 118.9h0M300.7 118.9h0M315.7 118.5h0M292.7 118.8h0M327.6 116.8h0M288.1 110.2h0M302.8 117.5h0M327.4 118.9h0M289.4 114.6h0M304.6 118.9h0M289.5 109.5h0M325 112h0M289.3 117.7h0M321.1 118.1h0M287 114.6h0M299.6 110.6h0" stroke="#747474" stroke-width="1.15" stroke-linecap="square" fill="none"/>
<path d="M288.7 109h0M316.6 105.7h0M269.1 101.6h0M312.3 108.4h0M302.3 103.9h0M326.5 112.6h0M314.1 112.1h0M278.3 117.5h0M318.3 114.7h0M269.7 108.9h0M310.6 109.2h0M307.3 111.5h0M288.5 108.9h0M288.5 110.7h0M317.9 96.4h0M253.1 103.2h0M328.5 115.3h0M292.1 104.4h0M284.4 114.4h0M292 103.5h0M297.5 116.4h0M300.3 109h0M255.1 106.8h0M294.3 107.6h0M258.8 100.1h0M290.7 116.5h0M297.6 113.4h0M324 110.9h0M292.8 105.9h0M268.8 117.2h0M305.1 107.6h0M297.1 113h0M256.1 118.8h0M281.5 116.9h0M324.7 118h0M315 111.3h0M326.1 110.1h0M330.2 108.5h0M308.2 110h0M327.9 104.1h0M299.5 108.5h0M283.5 100.5h0M303.8 117.6h0M296.3 110.3h0M310.5 114.8h0M253.7 105.7h0M259.2 116.9h0M323.3 117.6h0M287 113.6h0M307.3 118.8h0M304.7 111.9h0M268.5 112.6h0M291.2 113.4h0M330.3 99.9h0M316 113.7h0M269.9 112.5h0M263.4 110h0M315.7 92.1h0M295.2 107.6h0M301.5 109.1h0M314.2 113.8h0M325.3 115.6h0M291.3 106.3h0M271.6 109.2h0M322.7 106.5h0M275 116h0M318.2 105.6h0M282 97.1h0M274.4 113.3h0M309.5 104.9h0M322 89.7h0M283.9 109.1h0M328.7 112.8h0M289.6 116.8h0M322.3 106.5h0M327.7 118h0M331.4 115.1h0M281.6 116.5h0M290.4 101.6h0M276.7 112.1h0M324.8 113.3h0M331.4 110.1h0M318.3 118.3h0M289.1 118.9h0M294.2 116.9h0M264.4 95.2h0M299.2 94.6h0M273.6 108.3h0M268.4 111.7h0M280.7 116.2h0M256.6 114h0M318.9 109h0M269.3 115.3h0M258.2 101.1h0M307.3 95.9h0M265.5 109.7h0M319.2 118.9h0M309.9 101.4h0M284.2 109.5h0M299.3 103.4h0M257.2 99.3h0M256.6 106.6h0M268 107.9h0M253.5 99.4h0M306.2 108.2h0M287 109.7h0M301.4 118.6h0M308.1 112.7h0M291.4 106.9h0M289.8 112.7h0M311.9 107.4h0M316.5 117.4h0M272.8 108.9h0M330.9 100.7h0M318.8 104.2h0M313.3 110.1h0M313.9 112.1h0M259.3 113.3h0M293.3 112.3h0M307.4 100.9h0M287.1 104.4h0M297.3 111.6h0M292.1 105.7h0M294.8 102.2h0M302.1 118.4h0M320.1 114.4h0M288.1 106.6h0M317.6 109.9h0M286.3 113.1h0M289.4 118.1h0M283.8 113.6h0M320 112.5h0M289.2 95.2h0M325.5 109.7h0M312.5 105.3h0M322.1 99h0M326.2 117.2h0M267.1 106.2h0M269.6 118.9h0M262.3 110.6h0M253.1 110h0M279.5 115.1h0M260.2 116.2h0M273.8 104.3h0M292.6 95.9h0M329.6 107.4h0M297.4 111.4h0M288.2 103.5h0M254.9 109.4h0M308.9 110.4h0M320.8 118.4h0M259.7 107.7h0M291.9 115.4h0M323.9 118.2h0M328.3 113h0M304.8 95.1h0M285.1 118.9h0M254.1 109.2h0M300.4 118.4h0M295.4 101.9h0M291.7 112.9h0M262.4 112.9h0M296.6 114.9h0M294.2 116.6h0M275.2 101h0M318.3 115.4h0M315.5 106.4h0M266.7 109.1h0M258.1 118.9h0M275.6 110.6h0M262.1 108.2h0M301.2 115.1h0M258.4 92.3h0M278.3 112.4h0M304.8 108.1h0M322.9 108h0M267.5 117.6h0M294.3 111h0M298.7 112.7h0M267.6 111.4h0M326.8 111.7h0M314.3 116.4h0M308 117.2h0M274.4 102.5h0M321.1 108.1h0M291.8 112.1h0M294 114h0M289 116.2h0M276.5 108.9h0M284.4 113.7h0M290.9 110.8h0M330.5 115.1h0M290.3 105.7h0M291.3 111.5h0M316.6 118.9h0M269.7 102.7h0M290.3 116h0M258.3 112.1h0M254.7 106.1h0M329.9 106.7h0" stroke="#9a9a9a" stroke-width="1.0" stroke-linecap="square" fill="none"/>
<path d="M280.7 91.1h0M272.2 86.7h0M290.8 88.6h0M286.3 100.1h0M291.4 90.9h0M278.6 88h0M302.3 84.1h0M269.6 90h0M285.2 98.3h0M275.9 95.5h0M290.1 92.6h0M294.2 98.7h0M289.5 100.6h0M281.1 90.7h0M292.8 86.7h0M285.6 93.8h0M274.4 100.4h0M266.3 101.1h0M294.8 90.5h0M284.8 95.8h0M290.8 95.6h0M293.4 95h0M301.2 88.9h0M298.8 101.6h0M280.3 85.2h0M309 90.1h0M273.4 95.9h0M292.7 99.7h0M278.5 91.6h0M321.6 82.3h0M281.3 93.4h0M280.3 97.9h0M305.8 86.5h0M291.2 84.7h0M292.6 93.6h0M291.8 95.3h0M289.2 88.3h0M282.6 82.9h0M290.1 91.3h0M276.1 95.5h0M290.8 97.1h0M297 97.6h0M274.7 94.6h0M277.6 90.2h0M307.5 100.4h0M288.4 79.4h0M274.9 99.8h0M278.5 90h0M300.4 90.4h0M287.2 95.1h0M299.6 97.4h0M295.5 80.1h0M284.4 96h0M297.5 87.9h0M268.3 96.5h0M312.9 85.1h0M295.6 91.9h0M287.4 93.2h0M292.2 101.2h0M272.4 88.2h0M275.8 100.4h0M270.1 79.1h0M292.9 94.4h0M298.1 93.9h0M274.6 95.8h0M310.9 87.2h0M294.8 100.3h0M279 76.4h0M279.7 98.1h0M275 87.5h0M280.6 81.7h0M286.6 84.4h0M299.8 90.6h0M294.6 86.5h0M299 100.7h0M279.5 86.4h0M284.2 95.4h0M286.3 87.5h0M275.1 80h0M272.8 87.7h0M296.6 89.1h0M275.4 90.5h0M315.3 86h0M280.2 98.6h0M286 89.6h0M302.8 89.1h0M281.2 79.8h0M288.4 90.6h0M300.4 89.8h0M285.1 97.2h0M291.6 99.5h0M283.3 101.6h0M308.3 92.8h0M262.3 75.9h0M299.3 92.3h0M280.2 97h0M289.7 94.8h0M261.3 94h0M272.5 94.9h0M281.1 93.3h0M277.5 99.3h0M297.3 81.2h0M271.4 96.2h0M299.4 98.8h0M306.2 85.9h0M279.5 92.5h0M289.4 85.1h0M293.9 99.4h0M295.3 96.7h0M273.9 95.7h0M307.8 96.9h0M262.9 90.7h0M277.5 97.1h0M303.5 84h0M303.1 96.2h0M292.5 88.5h0M292.9 95.3h0M291.8 89.7h0M302.8 96.2h0M297.8 88.6h0M294.9 83.2h0M286.7 93.2h0M285.9 98.4h0M278.4 84.5h0M285.1 92.4h0M257.2 84.4h0M305.1 96.4h0M278.1 92h0M272.2 98.9h0M285.3 95.9h0M295.5 84h0M281.1 89.3h0M297.4 94.6h0M302.6 92.1h0M294.9 79.4h0M284.3 76.9h0M315.2 97.2h0M265.7 98.1h0M273.3 79.4h0M289.1 89.5h0M272.3 81.4h0M263.8 95.3h0M279.3 98.2h0M299.7 89.5h0M294.7 81.3h0M289.3 90.6h0M263.8 98.3h0M265.3 98.2h0M278.1 96h0M295.7 91.4h0M285.3 89.9h0M289.1 91.6h0M282 94.9h0M305.3 101.5h0M292 96.8h0M324.1 100.4h0M312.4 98.7h0M282 101.3h0M295.3 80.1h0M307.9 96.9h0M297.5 83.6h0M290.8 99.9h0M309.9 95.6h0M321 99.7h0M267.3 99.8h0M258.5 81.7h0M289.9 101.4h0M266.1 95.4h0M289 97.9h0M261.9 100.5h0M292.1 89.4h0M278.6 86.5h0M285.7 98.3h0M284.8 99h0M263.2 97.3h0M301 101.5h0M307.2 97.8h0M287.1 88.7h0M270.3 85.9h0M309 89.3h0M288.4 89.3h0M314 93.9h0M267.5 92.3h0M307.2 96h0M285.1 88h0M279.2 94.5h0M266 91.8h0M286.6 87.4h0M271.2 96.8h0M272 93.2h0" stroke="#7a7a7a" stroke-width="1.0" stroke-linecap="square" fill="none"/>
<path d="M310.9 70.3h0M301.2 71.5h0M292.8 69.2h0M292.5 84.2h0M271.5 70.5h0M320.3 75.3h0M275.5 53.5h0M301.3 80.1h0M276.1 60.3h0M276.4 73.9h0M285.3 66.5h0M283.4 57.7h0" stroke="#a0a0a0" stroke-width="1.0" stroke-linecap="square" fill="none"/>
<rect x="252.5" y="25.5" width="110" height="94" fill="none" stroke="#404040" stroke-width="1.1"/>
<path d="M284.5 25.5V119.5M252.5 101.5H362.5" stroke="#505050" stroke-width="1" fill="none"/>
<path d="M252.5 119.5v4M252.5 119.5h-4M260.5 119.5v2.5M252.5 112.5h-2.5M265.5 119.5v2.5M252.5 108.5h-2.5M268.5 119.5v2.5M252.5 105.5h-2.5M271.5 119.5v2.5M252.5 103.5h-2.5M273.5 119.5v2.5M252.5 101.5h-2.5M275.5 119.5v2.5M252.5 99.5h-2.5M277.5 119.5v2.5M252.5 98.5h-2.5M278.5 119.5v2.5M252.5 97.5h-2.5M279.5 119.5v4M252.5 96.5h-4M288.5 119.5v2.5M252.5 89.5h-2.5M292.5 119.5v2.5M252.5 84.5h-2.5M296.5 119.5v2.5M252.5 81.5h-2.5M299.5 119.5v2.5M252.5 79.5h-2.5M301.5 119.5v2.5M252.5 77.5h-2.5M303.5 119.5v2.5M252.5 76.5h-2.5M304.5 119.5v2.5M252.5 74.5h-2.5M305.5 119.5v2.5M252.5 73.5h-2.5M307.5 119.5v4M252.5 72.5h-4M315.5 119.5v2.5M252.5 65.5h-2.5M320.5 119.5v2.5M252.5 61.5h-2.5M323.5 119.5v2.5M252.5 58.5h-2.5M326.5 119.5v2.5M252.5 56.5h-2.5M328.5 119.5v2.5M252.5 54.5h-2.5M330.5 119.5v2.5M252.5 52.5h-2.5M331.5 119.5v2.5M252.5 51.5h-2.5M333.5 119.5v2.5M252.5 50.5h-2.5M334.5 119.5v4M252.5 49.5h-4M342.5 119.5v2.5M252.5 42.5h-2.5M347.5 119.5v2.5M252.5 38.5h-2.5M351.5 119.5v2.5M252.5 35.5h-2.5M353.5 119.5v2.5M252.5 32.5h-2.5M355.5 119.5v2.5M252.5 30.5h-2.5M357.5 119.5v2.5M252.5 29.5h-2.5M359.5 119.5v2.5M252.5 28.5h-2.5M360.5 119.5v2.5M252.5 26.5h-2.5M362 119.5v4M252.5 25.8h-4" stroke="#333" stroke-width="1" fill="none"/>
<text x="253.3" y="133.8" font-size="8.5" text-anchor="middle" fill="#6a6a6a">10<tspan font-size="7.5" dy="-4.2">0</tspan></text>
<text x="245.1" y="117.9" font-size="8.5" text-anchor="middle" fill="#6a6a6a" transform="rotate(-90 245.1 117.9)">10<tspan font-size="7.5" dy="-4.2">0</tspan></text>
<text x="280.7" y="133.8" font-size="8.5" text-anchor="middle" fill="#6a6a6a">10<tspan font-size="7.5" dy="-4.2">1</tspan></text>
<text x="245.1" y="94.5" font-size="8.5" text-anchor="middle" fill="#6a6a6a" transform="rotate(-90 245.1 94.5)">10<tspan font-size="7.5" dy="-4.2">1</tspan></text>
<text x="308.1" y="133.8" font-size="8.5" text-anchor="middle" fill="#6a6a6a">10<tspan font-size="7.5" dy="-4.2">2</tspan></text>
<text x="245.1" y="71.1" font-size="8.5" text-anchor="middle" fill="#6a6a6a" transform="rotate(-90 245.1 71.1)">10<tspan font-size="7.5" dy="-4.2">2</tspan></text>
<text x="335.4" y="133.8" font-size="8.5" text-anchor="middle" fill="#6a6a6a">10<tspan font-size="7.5" dy="-4.2">3</tspan></text>
<text x="245.1" y="47.6" font-size="8.5" text-anchor="middle" fill="#6a6a6a" transform="rotate(-90 245.1 47.6)">10<tspan font-size="7.5" dy="-4.2">3</tspan></text>
<text x="362.8" y="133.8" font-size="8.5" text-anchor="middle" fill="#6a6a6a">10<tspan font-size="7.5" dy="-4.2">4</tspan></text>
<text x="245.1" y="24.2" font-size="8.5" text-anchor="middle" fill="#6a6a6a" transform="rotate(-90 245.1 24.2)">10<tspan font-size="7.5" dy="-4.2">4</tspan></text>
<text x="312.8" y="18" font-size="13.2" font-weight="bold" stroke="#000" stroke-width="0.25" text-anchor="middle">Control-Tr/Tr</text>
<text x="257.1" y="38.3" font-size="9.6" font-weight="bold" stroke="#000" stroke-width="0.25">1.8%</text>
<text x="360.8" y="38.7" font-size="9.6" font-weight="bold" stroke="#000" stroke-width="0.25" text-anchor="end">2.4%</text>
<text x="361" y="114.3" font-size="9.6" font-weight="bold" stroke="#000" stroke-width="0.25" text-anchor="end">31.2%</text>
<path d="M77.4 189.8 V302.7 H383" fill="none" stroke="#111" stroke-width="1.3"/>
<path d="M77.4 184.8 L74 191.8 L80.8 191.8 Z" fill="#000"/>
<path d="M388 302.7 L380.5 299.2 L380.5 306.2 Z" fill="#000"/>
<path d="M137.7 239.6h0M125.6 227.6h0M138 228.8h0M131.6 241h0M117 234.2h0M117.4 231.2h0M137.1 230.7h0M135 228.5h0M118.1 231.4h0M126.5 239.5h0M122.4 232.8h0M120.7 231.4h0M109.5 226.9h0M126.8 241.4h0M111.8 229.6h0M128.6 228.9h0M137.2 226.5h0M137.9 243.7h0M132.6 224.1h0M133.8 236.9h0M106 232.5h0M139 242.5h0M134 231.9h0M134.9 226.8h0M126 238.5h0M134.4 233.7h0M121.3 236.2h0M126.6 228.2h0M135.8 236.6h0M135.7 245.4h0M125.8 233h0M119.5 243.8h0M119 242.4h0M132.3 236.3h0M125.4 241.3h0M121.5 229.3h0M134.7 228.3h0M127.3 241.1h0M132.9 231.9h0M127.5 229.7h0M125.3 238h0M126.1 223.9h0M133.8 230.9h0M117 237.7h0M134.1 239.6h0M128.7 238.7h0M138.7 241.6h0M135.5 233.1h0M136.2 241.8h0M127.3 223.6h0M128.4 231.4h0M121.7 244.3h0M128.6 230.8h0M109.2 233.2h0M129.2 230.8h0M132.6 233.2h0M130.3 233.3h0M137.1 231.5h0M134.3 232.2h0M123.7 228.2h0M138.3 242.3h0M109.1 244.7h0M137.5 229.6h0M125.6 241.2h0M130 238.1h0M130.2 240.1h0M121.1 229.3h0M125.4 235.3h0M122.9 241.9h0M115.5 245.2h0M132.5 240.6h0M116.2 240.4h0M136.8 229.8h0M131 230.8h0M135.3 241.7h0M137.1 238.9h0M120.3 227.2h0M118.6 228.2h0M105.4 245.7h0M135 227.3h0M123.1 238.3h0M111.9 238.9h0M126.8 239.1h0M128.7 238.3h0M132.6 236.3h0M137.3 230.6h0M114.9 231.9h0M131 242.6h0M104.2 230.4h0M134.1 242.2h0M131.6 222h0M132.8 234.4h0M122.4 242.5h0M123.8 242.3h0M128.1 225.9h0M118.4 233h0M113.5 231h0M128.1 227.4h0M134 228.5h0M119.2 227.3h0M128.4 229h0M116.6 238.1h0M127.2 241.1h0M115.6 240.5h0M122.7 238h0M122.7 245.1h0M118.4 240.3h0M135.9 238.5h0M118.7 234h0M133.1 240.1h0M119.1 231.1h0M116.3 231.8h0M125.9 228.1h0M129.2 232.5h0M132.2 244.1h0M130.4 238.4h0M117.3 236.4h0M135 243.9h0M112.5 238.3h0M137.4 224.5h0M133.5 233.6h0M131.3 233.4h0M124.6 240h0M132.4 229.1h0M129 227.5h0M126.8 231.3h0M126.6 230.5h0M135.3 224.9h0M134.7 240.3h0M119.2 228.4h0M134.2 230.6h0M118.1 244h0M115.4 235.1h0M132.7 247h0M136.9 224.3h0M131.5 229.2h0M134.3 241.7h0M104.5 235.7h0M122.7 229.2h0M116.4 232h0M117.4 237.6h0M136.3 241.4h0M136.6 233.3h0M131.2 237.2h0M126.4 235.6h0M126.4 231.6h0M126.3 240.6h0M127.9 227.3h0M125.4 239.6h0M131 242.9h0M132 244h0M124 228.3h0M133.1 224.9h0M137.1 233.4h0M120.1 242.5h0M135.7 233.9h0M130.4 237.6h0M128.7 234.8h0M126.8 245h0M131.8 240.4h0M135.8 244.5h0M121.3 223.8h0M121.4 232h0M131.9 238h0M131.5 229.6h0M129.5 230.1h0M108.2 238.9h0M129.2 230.7h0M137.3 229.2h0M133.6 232.7h0M119.9 229h0M134.7 238h0M121.7 238.7h0M118 238.4h0M132.1 239.1h0M131.4 243.9h0M129.7 231.2h0M136 238.3h0M135 229.8h0M116.5 233.3h0M130.9 240.2h0M133.5 227.6h0M121.4 227.8h0M127.4 243.8h0M126.9 227.4h0M119 242.1h0M129.2 246.5h0M129.1 230.9h0M135.8 225.8h0M125.1 240.4h0M115.9 223.9h0M137.3 237.3h0M107.2 229.4h0M133 221.8h0M131 237.8h0M124.3 229.1h0M114.8 240.9h0M132.4 242.5h0M128.6 235.1h0M134.1 228.5h0M107.9 236h0M126.1 233h0M121 243.4h0M131.2 241.4h0M137.2 244.6h0M134.6 239.8h0M135 223.5h0M126.1 244.4h0M135.9 226.9h0M128.4 246.5h0M128.3 232.8h0M138.4 228.7h0M121.5 241.4h0M136.8 227.7h0M117.4 225.3h0M129.1 237.6h0M137.5 221.5h0M123.3 241.4h0M128.4 239.7h0M131.9 233.8h0M116.9 245.2h0M120.9 235.4h0M115.6 231.7h0M126.5 223.5h0M133.5 236.1h0M118.6 238.9h0M136.9 238.6h0M137.3 241.4h0M113.8 230.6h0M118.8 225.2h0M127.8 235.2h0M120.2 224.9h0M119.8 237.6h0M136.7 244.4h0M136.9 238.7h0M113.2 232.1h0M133.1 234.9h0M137.4 241h0M119.9 241.1h0M107.9 239.7h0M117.7 235.4h0M126.6 229.3h0M133.1 237.6h0M132.6 241.4h0M108.4 225.1h0M104.1 240.3h0M136.9 228.8h0M122 226.9h0M122.9 234.6h0M135 234.1h0M126.9 240.2h0M137.1 230.6h0M128.3 242.3h0M114.1 238.8h0M129.5 235.5h0M108.2 227.2h0M134.9 236.6h0M122.1 242h0M127.4 240.5h0M108.3 233.5h0M120.3 232.9h0M127.1 229.4h0M124.6 235.8h0M131.6 243.7h0M128.2 225.6h0M114.1 225.3h0M109 240.9h0M126.9 233.6h0M130.9 228.6h0M135.1 233.2h0M137 235.1h0M122.3 233.2h0M126.7 227.1h0M124.7 228.6h0M138.7 235.9h0M115.2 240.5h0M128.9 237.7h0M120.7 241.5h0M130.6 240.3h0M109.8 235.1h0M130.3 244.9h0M133 223.3h0M121.8 238.2h0M132 225.7h0M133.8 222.1h0M115.2 239.8h0M121.4 234.3h0M116.4 235.9h0M133.7 239.9h0M125.9 234.6h0M127.6 229.8h0M116.1 230.4h0M124.2 234.2h0M128 225.9h0M118.7 236.4h0M125 220.7h0M112.9 233.3h0M116.1 229.7h0M124.6 230.3h0M136.1 236.5h0M113.3 237.3h0M123.5 227.3h0M123.5 222.8h0M117 230.6h0M135.9 236.5h0M133.1 239.5h0M124.3 238.3h0M128.6 235.4h0M131.6 244.9h0M136.4 242.5h0M105.1 229.4h0M137.2 237.5h0M131 227.9h0M135.5 235h0M121.7 239.4h0M120.1 229.1h0M122.7 229.6h0M128 241.3h0M138.2 237.1h0M131.2 228.5h0M118.8 244.7h0M129 240.1h0M122.2 231.2h0M135.1 233.5h0M104.9 223.6h0M135.9 228.1h0M122.5 243.9h0M125.5 226.6h0M138 234.7h0M115.9 230.5h0M136.4 237h0M104.6 234.3h0M131.6 231.9h0M127.2 236.4h0M137 243.8h0M119.2 239.6h0M134.7 236.8h0M119.8 228.7h0M124.2 235.8h0M133.8 233h0M111.9 234.6h0M129.3 234.9h0M138 231.1h0M121.4 245.6h0M109.5 231.4h0M133.3 238.9h0M130.3 225.9h0M124.3 235.1h0M133.6 236.8h0M135.4 230.9h0M123.8 232.4h0M131.4 243.3h0M131.1 241h0M135.3 227.1h0M121.6 240.9h0M133.7 229.3h0M138.1 241.4h0M122.3 228.5h0M130.4 244.1h0M112.6 236.3h0M136.6 243.1h0M124.9 230.2h0M123.9 235.8h0M133 228.2h0M129.4 225.6h0M116.3 229.1h0M131.7 230.8h0M135.2 239.7h0M132.2 229.6h0M130.1 237.6h0M111.4 225.8h0M138.2 225.1h0M106.2 238.5h0M119.5 238.4h0M138.5 233.9h0M135.3 239.1h0M131.7 227.2h0M131 231.4h0M126.9 223.7h0M129.7 238.8h0M132.7 239h0M125.8 237.4h0M126.2 236.9h0M132.3 243.4h0M120.5 237.6h0M112.6 235.5h0M121.6 226.6h0M123.8 232.9h0M125.7 242.6h0M121.6 237h0M132.9 226.3h0M116.9 240.5h0M128 226.4h0M119.5 222.8h0M134.5 233.1h0M135.5 226.6h0M110.7 227h0M133 228.5h0M117.3 229.9h0M121.1 225h0M115.5 232.3h0M137.1 246.5h0M129.4 239h0M128.1 234.7h0M130.8 231.3h0M136.5 239.3h0M127.8 228.8h0M133.2 228.9h0M127.6 227.6h0M125 226.7h0M134.3 231.3h0M116.1 234.7h0M131.4 236.5h0M120.9 226.5h0M113.3 238.9h0M122.2 229.8h0M127.8 230.8h0M128.8 238.1h0M133 232.1h0M128.3 246.9h0M133.2 237h0M133.6 237.3h0M136.6 243.5h0M124.5 233.9h0M137.1 242.3h0M125.5 240.5h0M119.1 238.5h0M129.8 238.8h0M109.1 244.2h0M117.9 239.5h0M125.8 233.6h0M126.4 237.4h0M131.6 230.6h0M115.1 231h0M112.4 236.7h0M118.7 227.2h0M104.1 236.3h0M136.1 239h0M122.2 239.9h0M127.1 242.9h0M132.7 233.9h0M115.5 239.2h0M114.8 236.9h0M133.4 240.2h0M119.1 240.3h0M119.3 239.2h0M131.5 240.9h0M107.3 229.6h0M128.3 235.6h0M134 236.1h0M122.7 228.4h0M130.9 230h0M129.2 246h0M131.4 234h0M119.8 237.4h0M113.1 235h0M123 227.5h0M134.3 242.7h0M135 244.4h0M111.7 233.6h0M112 232.7h0M104.3 243.2h0M113.5 225.5h0M126.1 228h0M120.2 237.8h0M128.2 242.6h0M136.6 229.6h0M129.5 230.2h0M129.3 244.4h0M119.4 236.5h0M132.2 235.5h0M126.9 230.3h0M134.5 241.2h0M123.3 245h0M129.4 241h0M122.8 230.8h0M109.1 232.8h0M132.9 239.4h0M130.9 228.4h0M127.3 227.8h0M126.6 240.5h0M108.8 234.7h0M130.3 236.2h0M131.9 225.3h0M137.4 225.7h0M133.1 229.6h0M115.5 227.7h0M124.6 238.5h0M126.3 227.1h0M137.5 233.5h0M130.1 242.8h0M135.1 234.9h0M117.8 241.5h0M115.8 221.9h0M110.6 229.6h0M131.9 244h0M118.6 237.9h0M111.2 245.6h0M130.8 224.3h0M138.7 230.7h0M125.1 241.8h0M120.2 239.3h0M132.1 229h0M135.1 239.9h0M131.6 238h0M118.6 243.3h0M126.2 231.4h0M114.4 229.7h0M120.9 238.3h0M132.4 237.4h0M114 235.7h0M136.5 240.4h0M134.7 238h0M124.5 233.1h0M122.8 240.4h0M120.7 230.8h0M132.8 223.3h0M135.9 228.2h0M133 227.5h0M136 221.7h0M128.9 241.4h0M131.8 226.8h0M138.6 237.8h0M133.9 235.7h0M130.4 240h0M128.3 239.7h0M135 229h0M133.5 225.6h0M126.1 234.6h0M135.3 227.2h0M122.2 238.2h0M133.4 225.1h0M131.4 223.8h0M128.3 229.7h0M113.2 232.5h0M136.5 235.7h0M126.8 238h0M124.1 227.4h0M134.9 233h0M129.3 241.3h0M125.6 239.7h0M135.1 243.4h0M125.6 237.4h0M131.9 236.5h0M132.6 235.9h0M124.4 236.2h0M132.9 234.4h0M122.7 234.6h0M136.4 234.6h0M128.3 239h0M116.5 244h0M135.2 238.1h0M136.2 228.9h0M133.4 237.2h0M131.3 227.4h0M130 239.6h0M126.1 230h0M128.4 239.6h0M126.6 237.2h0M127.4 238.6h0M118.2 226.5h0M133.2 224.9h0M136.6 246.2h0M131.6 232.2h0M138.8 235h0M111.1 238.6h0M123.5 223.3h0M130.5 239.1h0M124.3 246.4h0M136.1 240.1h0M128.2 235.9h0M133.3 241.1h0M139.5 236.9h0M125.8 237.8h0M134 235.2h0M133.6 226h0M130.6 231.2h0M133.5 232.2h0M109.5 234.9h0M119.9 241.8h0M134.2 235.4h0M115.5 236.6h0M134.2 225h0M114.6 242h0M124.1 226.8h0M119.8 228.7h0M124.9 239.2h0M137.2 237.9h0M114.3 240h0M134.2 231h0M109.4 239.7h0M129.1 234.6h0M127.5 227.8h0M115 241.3h0M104.3 234.6h0M132.9 232.7h0M122.7 245.4h0M128.8 224.8h0M106.7 238h0M110.1 223.2h0M117.1 240.9h0M125.7 244.7h0M118.4 240.9h0M127.7 231.9h0M136 225h0M122.5 223.4h0M136.9 233.7h0M136.9 238.9h0M113.8 237h0M124.7 230.9h0M120.7 228.9h0M120.7 240.8h0M126.2 237h0M130.8 231h0M136.7 234.3h0M132.1 225.7h0M123.5 226.1h0M121.5 236.8h0M137.4 247.4h0M126.4 240.5h0M127.5 239h0M127.6 235.4h0M125.9 224.3h0M121.2 232.4h0M130.7 243.9h0M123.7 224.3h0M126.8 220.3h0M130.3 232.8h0M111.5 229.6h0M119.2 243.1h0M116.4 229.4h0M134.9 235.2h0M106.7 235.5h0M131.6 241.6h0M115.6 224.8h0M136.3 229.7h0M117.2 235.4h0M124.9 243.5h0M104.1 224.9h0M126.3 236h0M137.9 232.5h0M132.3 230h0M130.3 241.2h0M124.7 229.8h0M133.7 235.7h0M105.6 228.1h0M134.5 238.4h0M130.4 227.3h0M109.7 227.2h0M138.2 232.3h0M118.4 242.9h0M130.9 237.5h0M135.7 232.5h0M133.7 238.2h0M122.4 240.6h0M114.6 242.1h0M136.2 236.5h0M114.1 226.5h0M107.2 241.7h0M135.7 236.5h0M138.1 230.8h0M129.1 233.2h0M124.7 227.9h0M137.4 235.4h0M131.6 239.9h0M132.9 237.3h0M130.5 243.3h0M134.9 235h0M127.6 242.5h0M123.2 233.7h0M129.1 233.4h0M130.4 244.6h0M134.1 229h0M135.8 235.7h0M138.3 240.2h0M135 239.4h0M119.4 222.9h0M124.6 231.2h0M114 228.5h0M129.7 227.6h0M129.3 245.8h0M127.3 242.8h0M132 238.4h0M125.6 227.3h0M137.5 235.4h0M133.9 236.9h0M129.2 242.2h0M130.8 231.9h0M121 237.9h0M136.1 236.6h0M125.3 242.1h0M132.3 236.2h0M130.3 225.8h0M122 224.5h0M127.1 225.5h0M111.5 237h0M123.9 228.4h0M131.4 232.4h0M121 233.9h0M136.8 238.7h0M135.1 234.3h0M112.2 238.2h0M120.1 239.9h0M120.7 237.2h0M118.9 227.7h0M123.4 234.8h0M133.5 243.3h0M120.9 229.7h0M126.3 229.5h0M133 240.3h0M138.2 244.6h0M120.1 246.3h0M125.5 238.8h0M116.1 231.2h0M138 240.9h0M138.3 242.2h0M121.7 223.4h0M129.3 243.2h0M129.7 231.1h0M136.3 240.9h0M112.5 243.8h0M129.6 238.8h0M115.4 224.8h0M115.8 236.6h0M133.9 239.6h0M129.4 234.2h0M130.4 240.5h0M137.7 229.9h0M128.1 229.1h0M127.1 237.9h0M130.2 233.6h0M132.3 229.1h0M128.8 228.1h0M137.3 234.5h0M138.8 229.5h0M136.2 238.3h0M114.8 232.5h0M136.9 238.6h0M134.9 245.9h0M127.7 238.4h0M120.2 241h0M118.3 229h0M130.5 245.3h0M114.6 232.7h0M132.9 241.6h0M131.6 236.8h0M127 236.1h0M124.1 230.4h0M137.5 234.9h0M125.8 228.7h0M131.7 227.9h0M136.2 241.1h0M119.3 223.3h0M126.4 234.6h0M113 238.3h0M116.2 233.5h0M137.4 235.8h0M127.2 239.9h0M113.5 236.2h0M124 234.6h0M123.7 237.2h0M136.4 243.5h0M131.7 232h0M121.7 233.3h0M135.2 244.2h0M115.6 227.7h0M134.4 234.1h0M122.6 241.7h0M121 233.8h0M126.1 242h0M127.3 235.1h0M129.7 238.4h0M124.4 240.4h0M136 225.8h0M136.7 222.8h0M134.3 237.9h0M138.1 234h0M111.5 239.3h0M120 238.1h0M134.3 240.5h0M124.2 233h0M129.3 233.4h0M135.6 230.5h0M109.3 235h0M121.5 233.3h0M119.9 242.2h0M104.2 229h0M119.2 231.2h0M134.2 235h0M126.6 225.6h0M137.4 231.6h0M126.8 237.7h0M110.2 221.2h0M128.5 225.3h0M109.2 241.6h0M129.2 230h0M120.5 235.1h0M132 227.3h0M136.1 235.7h0M124.1 239h0M127.6 230.9h0M127.9 234h0M136.5 225.2h0M126.5 234.9h0M125.2 238.3h0M129.2 243.1h0M128.3 229.6h0M136.8 245.1h0M136.7 225.4h0M115 229.8h0M116.6 240.8h0M134.3 234.2h0M121.5 228.2h0M136.2 227.4h0M125.1 237.4h0M130.3 234.6h0M115 243h0M122.2 224.6h0M131.1 232.9h0M136 230.2h0M126.4 228.1h0M126.3 237.5h0M135.1 230.9h0M130.5 239.4h0M119.4 243.2h0M133.9 237.7h0M107.5 242.9h0M123.7 236.7h0M133 233.3h0M126.4 232.1h0M136.8 234.8h0M136.5 233.7h0M133.2 235.6h0M133.6 223.7h0M132.9 228.3h0M124.6 234.8h0M128.1 243.5h0M132.7 232.9h0M125 224.9h0M132 239.9h0M136.2 240.1h0M136.6 237.9h0M127.8 229.9h0M129.1 230.1h0M130.6 238.3h0M133.6 228.3h0M137.3 232.3h0M122.2 230.9h0M125.2 231.8h0M136 228.5h0M126.4 241.6h0M128.7 240.5h0M118 229.9h0M117.1 231.3h0M112.7 229.7h0M134.5 245h0M130.5 228.4h0M134.4 226h0M129.6 228.7h0M126.8 235.5h0M130.8 233h0M127.5 247.1h0M122.8 234.2h0M109.4 229.1h0M128.5 239.7h0M122.2 231.3h0M116.3 235.3h0M113.4 230h0M116.4 235.8h0M130.4 239.8h0M128 234.4h0M127.9 237.9h0M128.5 240.7h0M109.4 237.9h0M137.8 225.3h0M124.2 225.6h0M136.6 224.3h0M117.9 244.3h0M122.1 233.6h0M125.1 224.9h0M110 232.9h0M125.4 241.4h0M123.7 226.6h0M121.4 240.3h0M138.4 226.8h0M132.3 230.2h0M124.4 239.5h0M110.4 232.9h0M113.7 235.3h0M117.4 241.1h0M134.5 239.9h0M133.9 241.9h0M136.5 229.6h0M129.5 224h0M135.9 244.2h0M136.9 228.3h0M125.6 239.4h0M127.5 236.5h0M110.7 227h0M135.5 232.8h0M133.3 239.7h0M131.6 232.6h0M132.4 224.6h0M129.7 228.9h0M118.2 227.1h0M119 242.7h0M125.7 240.3h0M134.7 223.5h0M122 238.6h0M138.4 222.1h0M119 237.2h0M108.1 234.1h0M130.5 223.3h0M119.4 230.7h0M135 240.4h0M118.7 239.7h0M137 237.7h0M132.6 231.2h0M132.4 233.7h0M134.4 244.9h0M108.4 237.2h0M126.5 232.7h0M133.3 228.3h0M125.9 237.9h0M112.1 237.9h0M133.8 227.6h0M133.6 230.7h0M135.9 235.2h0M122.2 241.8h0M137.2 242h0M111.1 245.6h0M130.9 230.8h0M119.3 236.1h0M122.9 237.4h0M135.5 226.5h0M115.5 239.8h0M126.6 227.5h0M132.8 236.3h0M122.1 245.4h0M136.7 224.3h0M109.7 242.4h0M138.4 238.6h0M118.4 229.9h0M135.6 227.8h0M135.9 236.4h0M131.9 236.7h0M131.4 238.3h0M132.5 234.2h0M124.4 229.5h0M119.7 233.2h0M136.1 231.1h0M135.2 227.3h0M123.2 231.9h0M133.9 226.8h0M114.9 226.7h0M135.4 229h0M136.2 237.2h0M123.8 231.3h0M106.1 238.7h0M127.9 240.2h0M132 240.1h0M122.6 239h0M128.1 237.3h0M127.5 244h0M119 231.9h0M133.9 228.5h0M126.9 228h0M120.6 248.4h0M129.5 227.1h0M124.7 234.9h0M116.8 241.9h0M117.2 243.8h0M115.8 239h0M114.7 236.2h0M122.8 231h0M111.3 238h0M113.1 229.7h0M135.4 232.8h0M127.9 232.5h0M130.2 243.7h0M136.5 225.1h0M119.1 232.8h0M124.1 228.5h0M130.7 239.6h0M137.4 227.5h0M133.5 229.6h0M125.3 242.1h0M134.9 233.9h0M119.8 240.7h0M131.8 237.1h0M106.5 233.6h0M133.9 237.1h0M131.5 232h0M115.2 238.7h0M125 227.4h0M120.8 234.5h0M130 231.1h0M136.3 242.8h0M125.6 239.7h0M136.6 236.1h0M130.4 232.7h0M130.1 228.3h0M129.6 244h0M135.5 233.5h0M132.1 244.3h0M117.1 240.4h0M115.7 230.9h0M125 236.1h0M124.3 239.3h0M131.5 226.4h0M130.5 240.1h0M129.9 244.3h0M127.5 240.3h0M131.2 231.3h0M130.5 234.1h0M130.1 226.9h0M112.6 238.8h0M117.8 222.2h0M135.6 241.7h0M133.4 237.7h0M136.3 234.2h0M128 229.5h0M134.3 245.5h0M129 228.1h0M137.5 224.4h0M124.6 240.9h0M136.7 245.7h0M131.8 224h0M123.7 236.3h0M132.5 227.6h0M120.6 239.1h0M128.8 229.7h0M111.4 240.6h0M132.5 246.5h0M112.4 239.3h0M114.4 228.6h0M115.7 235.1h0M131 236.1h0M131.3 229.4h0M130.1 233.4h0M130.7 228.8h0M109.7 226h0M136.6 243h0M123.8 230.5h0M126.1 225.7h0M109.8 243.3h0M134.6 227.7h0M117.1 242.3h0M133 229.9h0M108.9 228.4h0M131.8 229.3h0M125.3 242.6h0M129.9 235.8h0M119.1 225.9h0M127 239.8h0M119.9 235.1h0M122.3 238.3h0M112.8 234h0M127.4 243.6h0M119.3 239.2h0M126.9 246.1h0M130.4 235.8h0M132.5 241.2h0M116.7 238.6h0M134.3 238.7h0M126.1 227.7h0M133.7 240.8h0M138 245.9h0M122.4 241.7h0M118.5 239.4h0M125.4 241.9h0M130.4 224.6h0M115.1 229.3h0M126.8 226.4h0M129.4 234.5h0M116.5 242.2h0M127 240.5h0M129.3 224h0M135.9 228.8h0M121.5 243.4h0M133.7 235.9h0M115.7 237.4h0M137.3 226.1h0M133.9 227.8h0M122.3 244.7h0M132.4 230.7h0M136.8 240.9h0M137.2 242.5h0M128.1 233.1h0M130.3 244.6h0M108.6 240.3h0M106.8 233.6h0M133.3 228.4h0M135.7 230.2h0M136.5 234.7h0M114.5 244.2h0M117.4 238.9h0M125.2 226.1h0M115.2 227.9h0M134.6 235.9h0M124 226.3h0M133.2 224.6h0M135.3 238.7h0M136.6 239h0M134.9 226.3h0M126.8 235.8h0M123.8 226.1h0M105.3 229.9h0M120.5 238.9h0M109.9 227.4h0M134.4 240.2h0M117.5 226.5h0M104.7 240.5h0M138.4 229.9h0M133 222.8h0M124.3 234.6h0M129.2 228.4h0M132.7 234.8h0M108.7 230.8h0M126.3 244.8h0M136.5 240h0M122.8 237.8h0M125.4 235.2h0M118.3 242.3h0M123.6 233h0M135.4 235.1h0M131.4 233.6h0M110.8 238.4h0M120.7 236.6h0M132 240.9h0M134 241.7h0M125.7 226.2h0M138.4 249.8h0M120.4 235.7h0M128.1 227.2h0M132.9 233.2h0M126 230.2h0M126.7 239.7h0M130.5 235.1h0M125.9 246.6h0M122.1 232.5h0M132.4 241.2h0M137.1 230.6h0M126.6 229h0M124.3 232.3h0M139.2 243.2h0M127.7 239.8h0M127.6 236.4h0M133.6 235.9h0M125.6 241h0M123.5 244.1h0M136.7 241.2h0M124.3 226.9h0M121.3 241h0M122.2 234h0M115.2 238h0M116.1 238.3h0M114.5 233.2h0M125.7 234h0M119.5 237.7h0M132.5 238.6h0M106.6 241.9h0M128.3 244.3h0M133.9 235.8h0M105.8 227.7h0M115 226.5h0M126.1 223.2h0M132.8 240.6h0M136.4 242.4h0M122.1 235h0M132.7 225.2h0M132.3 240.4h0M119 235.2h0M111.6 240.7h0M125.6 242.7h0M125.3 233.5h0M124.8 234.8h0M124.6 230.5h0M125.2 225.1h0M133.5 232.4h0M132.9 231.6h0M137.1 223.6h0M131.7 228.6h0M136.4 237.3h0M133.8 236.6h0M136.6 229.1h0M109.1 245.6h0M121.3 238.4h0M128.2 237.6h0M122.2 242.9h0M134.6 226.2h0M122.5 231.5h0M134.8 227.2h0M132.2 238.8h0M128.9 240.1h0M115.4 235.7h0M129.2 232.5h0M115.5 244.3h0M134.9 232.6h0M134.1 233.9h0M117.5 234h0M132.7 227.5h0M123.3 236.3h0M126.9 239.1h0M133.2 235.3h0M136.9 234.8h0M129.5 224.4h0M126.1 235.7h0M137.1 227.2h0M130.1 223.8h0M132.6 240.8h0M131.1 233.5h0M128.7 237.7h0M128.6 243.7h0M134 231.5h0M124.3 231.2h0M124.8 242.6h0M135.2 227.4h0M131.1 243.7h0M129.1 238.2h0M131.1 224.5h0M120.7 241.4h0M135.5 241.4h0M121.1 231.2h0M128 223.6h0M115.6 232.7h0M135.2 231.5h0M125.8 226.5h0M130.1 225.7h0M123.1 232.1h0M116 225.1h0M137.7 231.5h0M114.3 222.9h0M136.2 230.1h0M131.3 233.4h0M107.5 231.7h0M127.4 230.8h0M131.8 226.2h0M122.1 225.3h0M137.1 230.9h0M109.1 237.7h0M117 238.3h0M128 240.3h0M124.9 244.3h0M131.5 230.6h0M121.6 240.2h0M132.6 241.4h0M117.7 235.9h0M126.8 233.5h0M137.9 231.5h0M136.4 236.1h0M136.9 224.7h0M124.9 230.5h0M129.2 239.9h0M137.6 232.7h0M129.5 234.6h0M120.9 227.4h0M135.7 236.1h0M128.8 240.9h0M127 235.2h0M136.1 244h0M129.7 233.5h0M120.7 231.9h0M128.9 241.6h0M111.4 238.9h0M135.8 234.4h0M128.8 238.2h0M137.5 231.5h0M107.1 237.9h0M135 236.8h0M132.5 243h0M137.5 227.6h0M126.7 229.4h0M132.4 223.7h0M125.5 230.9h0M131.7 241.1h0M135.3 240.9h0M126.5 233.8h0M135.7 236.5h0M134.4 232.1h0M125.7 237.3h0M129.9 241.2h0M127.3 235h0M131.5 234.4h0M112.3 234.1h0M129.2 237.1h0M122.1 245.1h0M133.8 234.7h0M120.6 240h0M122.3 240.4h0M127.5 238.3h0M129.6 239.5h0M131.6 226.2h0M116.5 228.3h0M133.6 246.8h0M136 227.2h0M129.1 231h0M133.5 236.9h0M128.6 241.1h0M118.3 229h0M136.7 239.8h0M130 238.5h0M124 242.6h0M136.5 241.9h0M133 230.7h0M112.5 221.8h0M131.3 230.5h0M137.3 227.8h0M124.7 243.8h0M123.1 236.1h0M122.8 238h0M129.4 236.4h0M122.5 226.5h0M131.3 240.8h0M135.4 231.2h0M117.2 231.9h0M132.8 228.1h0M126.2 238.3h0M126.9 232.5h0M134.6 223.4h0M117 228.8h0M122.4 243.7h0M111.4 226.9h0M133.9 243.6h0M132 240.5h0M131.4 232h0M132.3 235.1h0M136.3 227.8h0M127.8 231.3h0M132.1 236.1h0M133.5 234.2h0M128.5 231.4h0M116.4 245.2h0M126.4 234h0M132.2 240.4h0M137.6 237h0M123.6 229.7h0M124.3 224h0M130.6 242.1h0M135.1 241.3h0M130.2 243.6h0M134.9 239.1h0M127.7 235.6h0M116.3 236.2h0M135.7 224.6h0M120.4 235.9h0M133.7 236.2h0M128 229h0M133.3 232.8h0M108.1 223.7h0M122.3 230.6h0M132.2 229h0M136.1 232.1h0M132.6 224.6h0M124.8 243.1h0M137.1 234h0M136.5 228.7h0M133.6 233.3h0M130.5 229.1h0M128.6 226.9h0M132.7 226.8h0M125.7 228.9h0M134.2 229.9h0M115.7 236.5h0M123.9 241.5h0M137.4 242.9h0M127.8 230.1h0M125.5 236h0M133.8 223.1h0M125.4 236.6h0M129.1 235.3h0M136.4 229.9h0M117.5 224.1h0M133.7 231.9h0M122.5 244.4h0M136.1 246h0M117.4 233.3h0M123.2 241.4h0M135.1 237.3h0M129.6 236.8h0M131.1 245.4h0M133.1 239.8h0M117.3 238.4h0M128.2 223h0M132.1 236.4h0M134.4 238.7h0M112.1 235.9h0M137.1 226.7h0M126.5 235.3h0M119.8 228.7h0M127.6 237.3h0M123.2 226.6h0M127.5 225.4h0M128.5 230.6h0M129.7 234.7h0M134.2 234.2h0M124.9 243.6h0M126.6 238h0M125.6 233.7h0M132.6 236.3h0M134.1 226.8h0M132.1 248.2h0M124.1 241.4h0M135.1 237.9h0M136.9 241.9h0M121.5 244.9h0M134.2 238.6h0M128.8 230.6h0M136.5 239.5h0M136.4 230.6h0M132 238.1h0M121.2 245.2h0M118.9 222.9h0M121.1 226.6h0M134.7 232.6h0M130.2 221.5h0M124 234.3h0M127.7 233.4h0M127.9 230.8h0M114.7 232.9h0M130.2 228h0M118.5 235.5h0M121.3 235.4h0M129.2 232.2h0M128.8 242.3h0M133.6 239.7h0M131.5 232.5h0M120.9 231.2h0M128.8 232h0M107.7 242.9h0M113.5 243.1h0M120.9 226.1h0M117.4 242.2h0M135.9 234.5h0M118.5 228.8h0M134.6 232.1h0M130.5 227h0M114.3 238.6h0M131.3 233.9h0M119.7 231.6h0M129.3 233.2h0M128.7 237.9h0M138 229.7h0M135.9 239.5h0M117.9 244.1h0M121.6 239.7h0M131.3 226.5h0M136.7 229.7h0M113.4 234.9h0M133.3 231.8h0M128.6 238h0M132.6 235.5h0M120.5 241.8h0M124.9 234.4h0M137.1 225.9h0M123.6 237.1h0M116.6 225.9h0M127.1 224.7h0M131.9 239.8h0M134.9 241.2h0M134.4 230.1h0M136.8 236.8h0M128.5 239.7h0M132.6 232.8h0M133.7 236.8h0M126.1 234.3h0M110.4 227.1h0M114.7 229h0M131.8 227.8h0M133.6 233.6h0M135.2 224.2h0M129.7 232.8h0M123.3 229.9h0M136.9 227.2h0M133.4 239.1h0M126.4 230.5h0M119.9 231.2h0M127.9 224.5h0M123.7 234.4h0M124.5 239.8h0M120.2 231.1h0M115.2 242.2h0M133.4 237.4h0M105.3 226.9h0M112.5 234.2h0M124.4 237.1h0M128.9 238.3h0M124.4 226.3h0M132.2 234.3h0M131.3 240.1h0M120 240.1h0M136.9 235.3h0M129.8 235.3h0M124 224.9h0M136.6 236.6h0M113.4 229.6h0M127.4 239.7h0M133.8 231.9h0M136.7 232.4h0M136.6 227.2h0M107.3 239.1h0M131.7 238.5h0M123.2 232.9h0M131.2 234h0M131.8 233.3h0M123.4 234.9h0M121.9 243.4h0M135.9 236.1h0M126.2 234.8h0M131.1 230.8h0M132.7 240.3h0M132.4 232.6h0M128.5 244.2h0M122.9 226h0M135.3 232.9h0M110.6 238.6h0M118.1 242.3h0M127.4 230.5h0M138.2 225.8h0M132 237.6h0M132.7 225.5h0M121.1 230.2h0M131.4 240.6h0M137.1 231.5h0M123.5 235h0M132.3 244.2h0M128.7 247.4h0M135.5 229h0M129.3 237.8h0M135.9 225.1h0M120.6 238.1h0M129.2 241.2h0M134.8 241.4h0M137.6 245.5h0M125.6 237.5h0M132.1 228.4h0M130.7 226.8h0M132.7 228.2h0M132.1 232.3h0M128.6 224.2h0M128.9 227.6h0M128.6 238.9h0M134.6 225.7h0M109.1 242.1h0M127.9 236.5h0M104.8 225.3h0M120.5 229.7h0M138.4 232.9h0M115.8 236.6h0M126.8 230.7h0M131.7 239.2h0M137.3 236.5h0M136.9 235.4h0M116.4 231.5h0M137.4 239h0M128.1 227.4h0M128.8 232.3h0M136.7 238h0M119.4 239.9h0M135.3 238.4h0M130.2 235.6h0M129.2 230.9h0M135.1 231.5h0M120.9 242.3h0M122 237.4h0M128.9 240.5h0M136.4 238.1h0M130.3 226.5h0M128.8 227h0M117.6 230.1h0M132.8 232.5h0M115.3 232.6h0M124.4 234h0M137.9 240.1h0M127.1 235.6h0M137.7 247h0M135 244.1h0M121.7 235.8h0M127 234.3h0M120.7 232h0M125.6 239.6h0M128.1 230.5h0M132.7 229.8h0M125.6 234.3h0M125.6 234.5h0M137.1 235h0M131.5 227.8h0M135 226.7h0M133.4 242h0M121.8 233.3h0M128.5 226.9h0M113 231.7h0M126.5 236.4h0M121.8 239.3h0M136.3 236.3h0M137.8 226.9h0M136 236.1h0M104.8 240.8h0M128.9 227.8h0M135.9 227.8h0M127.7 232.7h0M132.5 230h0M126.8 234.5h0M128.2 228.2h0M110.4 227.7h0M118 234.7h0M124.2 235h0M129.9 242.8h0M124.7 226.3h0M134.4 225.1h0M130.3 228.3h0M119.5 226.5h0M133 237.8h0M132.2 234.3h0M126.4 229.7h0M115.7 226.4h0M133 229.5h0M132.9 237.4h0M133.3 238.3h0M133.1 240.1h0M134.4 234h0M128.3 235.4h0M133.7 240.7h0M131.2 233.2h0M122.5 225.5h0M133.5 236.4h0M127.7 233.5h0M131.7 224.5h0M136 233.5h0M118.7 237.1h0M123.9 237.6h0M126 228.3h0M136.5 228.6h0M137.7 237.6h0M132.7 232.6h0M133.4 234.3h0M122.1 223.4h0M131.8 226.4h0M122.6 224.9h0M136.4 236.9h0M124.7 230.9h0M136.7 235.5h0M124.8 243.2h0M136.6 233.1h0M114.5 232.1h0M135.4 234.3h0M129.7 242.7h0M136.8 230.4h0M112 242.1h0M132.2 244.4h0M130.1 235.8h0M125.2 228.6h0M129.4 226h0M135 226.3h0M126.2 242.7h0M130.9 227.4h0M126.7 238.9h0M127.4 232h0M127.7 237.7h0M132.2 237h0M133.1 231.5h0M130.1 239.9h0M121.6 238.6h0M131.7 243.7h0M133.7 229.5h0M136.5 230.8h0M119.4 223.7h0M130.5 229h0M107.5 223h0M130.3 228.9h0M136.7 223.5h0M117.3 235.4h0M130.3 239.5h0M121.8 228.8h0M127.6 230.1h0M139.1 237.1h0M133.1 227.9h0M135.6 248.1h0M120.7 230.9h0M127.2 228.9h0M134.3 236.1h0M132.6 222.5h0M133 233.6h0M122.1 240.9h0M135.8 232.7h0M131.5 234.5h0M107.7 244.2h0M119.3 240.7h0M130.8 246.4h0M128.5 239.3h0M137.6 234.6h0M136.6 242.4h0M117.6 228.2h0M133.1 230h0M124.8 224.4h0M124.4 231h0M134.4 236.4h0M137.9 244.9h0M134.2 226.2h0M120.6 233.1h0M115.2 234.2h0M123.2 234.5h0M128.3 232.3h0M137.7 228.4h0M119.1 233.6h0M125.8 226.5h0M135.9 236.1h0M121.8 233.1h0M135.1 227.9h0M113.2 226.3h0M127 239.1h0M126.4 233.2h0M126.1 235.4h0M136 246.3h0M132.7 227.4h0M120.5 246.5h0M134.2 221.9h0M132.5 241.1h0M104.7 235.2h0M133.7 237h0M114.1 242.9h0M109.4 231.4h0M135.5 232.2h0M118.7 231h0M121.5 246h0M119.6 243.2h0M130.2 238h0M118.6 231.8h0M131.1 232.8h0M133.7 229.1h0M118.8 238.4h0M131.8 236.9h0M130.7 226.1h0M134.4 231h0M139.4 223.9h0M119.8 242.6h0M109.7 240.9h0M129.2 225.3h0M122.3 226.4h0M131.8 230.5h0M114 229.4h0M131.9 240.1h0M133.9 231.7h0M130.3 241.7h0M126.4 225.7h0M131.6 228.7h0M135.7 230.5h0M129.9 238.8h0M129.6 223.4h0M138.1 224.7h0M116.6 241.6h0M128.5 229.8h0M137.2 241.5h0M121.8 225.9h0M124.7 227.2h0M129.8 235.8h0M128.1 226.2h0M104.9 228.6h0M122.1 230.5h0M119.2 229.8h0M119.7 229h0M110.2 224.4h0M130.4 229.8h0M137.8 228.9h0M129.8 223.7h0M130.9 236.7h0M125.6 241.7h0M120.5 238.1h0M125.9 227.4h0M128.4 229.8h0M124.1 228h0M126.1 230.5h0M137.4 233.5h0M125.4 240.1h0M134.9 226.1h0M127.2 240.6h0M113.1 231.5h0M113.3 235.6h0M135.4 227.1h0M136.4 233.9h0M137.3 227.1h0M117.1 241h0M136.9 242.2h0M112.4 234.5h0M124.7 238.2h0M126.2 224h0M117.4 226.1h0M129.5 231.2h0M122.6 227.2h0M126.3 238.9h0M127.6 240h0M123 240.2h0M129.9 240.5h0M125 240.9h0M127.8 224.6h0M134.2 222.9h0M116.1 241.7h0M112.8 234.5h0M117.2 244.1h0M126.8 236.9h0M136.5 239.3h0M137.4 228.4h0M133.6 239h0M133.9 233.6h0M134.8 238.9h0M128.9 224.9h0M111.6 222.1h0M127.9 230.6h0M127.8 246.4h0M122.5 237.8h0M128.9 228.8h0M137.4 228.3h0M135.7 222.2h0M128.4 225.7h0M124 242h0M124.2 228.8h0M137.7 245.2h0M113.6 235.5h0M134 229.7h0M137.3 233.5h0M114.6 239.7h0M125.3 231.7h0M127.4 232.5h0M135.4 246.3h0M116 228.5h0M128.2 231.2h0M106.2 233.8h0M129.6 232.7h0M136.5 229h0M133.6 233.3h0M132.6 245.1h0M106.2 238.4h0M124.7 233.2h0M124.3 232.5h0M135.7 226.6h0M132 240.5h0M136.3 227h0M130.5 244.7h0M129.1 242.6h0M115.3 232.9h0M137.2 232h0M133.8 227h0M123.7 237h0M126.7 234.8h0M118.9 234.9h0M128.3 229.9h0M127.5 234.2h0M136.7 231.5h0M127 233.3h0M130.5 235.8h0M127.1 245.1h0M122.3 247.1h0M135.1 229.5h0M111.9 240.3h0M134.8 228.6h0M131.6 226.4h0M135.5 244.2h0M123.7 232.8h0M134.9 237.9h0M115 227.7h0M133.9 231.7h0M128.1 225.2h0M126.6 243h0M131.4 234h0M132.3 222.9h0M107.3 224.2h0M107.6 234.3h0M135.2 233.3h0M126 231.5h0M124 238.8h0M127.2 228.4h0M135.1 239.6h0M130.6 233.6h0M121.3 242.4h0M126.9 242.6h0M121.9 240h0M129.8 243.8h0M127.3 227h0M129.1 233.4h0M126.8 239.5h0M136 226h0M127.1 243.9h0M134.9 225.8h0M122.1 244h0M135.2 232.1h0M135.7 240.2h0M113.6 243.4h0M126.2 242h0M116.1 230.6h0M123.2 227.4h0M134.1 228.5h0M135.9 240.9h0M127.1 235.4h0M135.9 237.1h0M131.3 229.9h0M131.7 234.6h0M123 227.4h0M127.5 238h0M121.9 230.4h0M131.6 234.6h0M129.4 225.3h0M105.1 235.1h0M125.5 228h0M131.4 228.8h0M125.3 245.4h0M124.8 226.5h0M127.6 237.9h0M136.1 240.8h0M120.5 237.1h0M106.8 227.1h0M119 228.4h0M129.6 231.4h0M130.1 225.8h0M123.3 242.7h0M136.5 227.7h0M136.2 227.3h0M104.1 241.2h0M130.6 232h0M108.9 231.5h0M118.1 233h0M121.1 224.5h0M132.3 232.9h0M134.4 224.7h0M132.9 230.5h0M132.7 221.2h0M129.2 232.3h0M129.8 241.2h0M134.1 245.3h0M121.8 229.8h0M125.7 226h0M134.7 225.9h0M128.8 229.8h0M121.1 240.2h0M105.2 223h0M130.9 240.7h0M132.2 243.8h0M128.8 236.4h0M136.9 246.3h0M133.1 232.7h0M123.3 233.2h0M114.9 227h0M132 223.9h0M120.2 233.8h0M132.4 238.3h0M138.5 245.5h0M121.8 243.2h0M124.4 239.6h0M128.2 233.1h0M133.3 223.7h0M124.2 241.5h0M136.9 232.1h0M122.7 242.2h0M119.1 245.3h0M135.7 235.7h0M134.5 237.9h0M132.4 234.5h0M109.2 224h0M134.6 227h0M117 227.8h0M128.8 230.7h0M136.2 236.8h0M115.9 239.4h0M128.7 240.2h0M123.8 226.2h0M111.2 235.3h0M120.8 231.7h0M138.6 242.1h0M109.2 230h0M135.4 242h0M129.1 224.6h0M124.9 244.1h0M132.6 237h0M118.2 239.7h0M112.9 236.4h0M140.1 243.5h0M139.5 232.4h0M121.1 247.5h0M106.9 232h0M124.4 241.4h0M123 241.7h0M118.9 237.4h0M118.4 240.5h0M124.1 238.5h0M126.6 228h0M108.5 225.9h0M115.7 239.7h0M112.1 230.4h0M127.8 222.3h0M132.9 227.1h0M105.7 241h0M132.9 223.3h0M124.5 242.4h0M134.3 228.3h0M120.1 234h0M136.8 237.2h0M112.6 232.5h0M124.5 225.7h0M129.9 220.9h0M132.3 243h0M115.9 240.8h0M129.3 241.8h0M124 240.8h0M134 241.8h0M123.4 243.3h0M130.9 246h0M120.8 236.6h0M138.9 228.7h0M137.7 225.7h0M129.6 239.2h0M108.4 225.7h0M130.2 229.1h0M126.4 236.2h0M130.8 240.8h0M124.7 240.2h0M136.7 225.2h0M127.8 227.8h0M129 223.9h0M121.8 237.2h0M136.2 223.5h0M137.6 238.4h0M123 236.3h0M126 232h0M127.3 238.7h0M131.2 233.2h0M135.3 244.9h0M111 235.4h0M121 232.5h0M132.5 238.3h0M115.1 243.7h0M133.6 239.4h0M134.4 231.7h0M120.1 234.2h0M115.9 227h0M127.6 245.6h0M115.9 233.9h0M122.2 232.9h0M124.2 230.1h0M125.1 238.2h0M135.4 246.6h0M136.4 235.7h0M124.7 237.2h0M132 225.8h0M122.7 236.7h0M136.6 245h0M120.5 233.3h0M119.9 240.1h0M124 228.8h0M137.1 241.2h0M125.2 227.3h0M136.9 239.9h0M134.2 233h0M116.3 232.8h0M126.7 229.8h0M133.4 230.8h0M129.5 229.4h0M123.1 235.2h0M132.8 231.7h0M128.5 235.6h0M123.2 228.7h0M132.7 237.8h0M121.6 234.8h0M138.6 244h0M134.9 234.7h0M128.1 223.7h0M108.8 238.5h0M134.2 238h0M131.1 227.8h0M139.2 223.5h0M129.9 228h0M136.7 240.4h0M117.8 230.2h0M137.1 229h0M132.5 242.1h0M119.7 237.3h0M122.7 235.2h0M135 229.4h0M137.6 238.6h0M125.1 237.2h0M125.1 229.9h0M123.7 235.1h0M106.2 232.8h0M137 234.5h0M121.1 236.4h0M120.1 227.5h0M121.6 237.8h0M108.5 227h0M123 228.4h0M118.2 232.6h0M129.2 227.1h0M108.1 239.9h0M120.1 240.6h0M134.1 235.3h0M136.3 225.8h0M132.1 228.9h0M104.1 242.7h0M117.1 244h0M127.6 228.3h0M123.7 237.4h0M124.8 242.6h0M139.4 223.5h0M135.1 238h0M136.4 241.6h0M125.9 227.1h0M135.9 229.4h0M121.2 239.9h0M129.6 233.9h0M113.3 237.3h0M126.6 222.9h0M125.5 237.6h0M129.3 228.1h0M129.3 236.3h0M119.8 224.8h0M136.8 230.9h0M133.8 243.6h0M119.6 222h0M123.8 241.4h0M127.3 228.3h0M116.8 235h0M129.2 237.6h0M124.4 230.2h0M133.5 237.9h0M116.7 227.3h0M118.5 236.1h0M126.8 228.3h0M127.8 240.5h0M120.7 235.4h0M122.9 238.2h0M133.8 240.5h0M127.5 234.5h0M132.8 233h0M125.5 221.2h0M134 234.1h0M130.7 235.4h0M133.5 226.5h0M133.8 238.5h0M130.6 236.7h0M116.3 239.6h0M125.6 243.6h0M129.2 225.3h0M110.4 227.7h0M112.3 242.3h0M129.6 222.7h0M137.4 237.7h0M118.2 240.3h0M133.7 237.3h0M130.6 241h0M118.9 230.6h0M130.8 238h0M132.6 241.6h0M129.3 242.6h0M124.4 240.8h0M132.8 236.2h0M115.5 228.4h0M135.9 238.8h0M127.2 239.7h0M129.3 241.6h0M131.4 240h0M136.8 235.8h0M122.2 230.5h0M122.6 238.4h0M115 233.4h0M134.5 237.2h0M106.6 228.9h0M118.5 234.3h0M104.5 235.2h0M126.6 231.6h0M122 234.8h0M122.2 241.1h0M122.5 240.6h0M124 241.9h0M131.1 247h0M135.4 240.2h0M132.1 235.2h0M130.2 235.8h0M122.9 224.9h0M137.5 243.8h0M137.6 238h0M128.9 223.6h0M122.7 239.4h0M129 225.1h0M123.1 233.4h0M129.1 227.5h0M128.3 229.6h0M137.4 226.6h0M119.5 224.6h0M117.3 230.4h0M132.1 227h0M114.5 230.3h0M120.2 243.6h0M137.9 247.7h0M120.9 227.9h0M131.8 238.9h0M114.3 241.9h0M137.5 230.7h0M136.4 246.7h0M124.4 224.1h0M133.3 241.5h0M127.5 228.4h0M132.7 247.4h0M132.9 233.3h0M125.4 224.5h0M130.2 232.7h0M133.1 236.5h0M131.2 246h0M132.6 223.5h0M121.3 228.2h0M114.1 229.6h0M127.8 231.2h0M110.5 246.9h0M114.2 245.9h0M133.6 223.7h0M137 244.6h0M109 238.6h0M127 233.8h0M124.5 237.7h0M126.6 231.3h0M127.2 224h0M133.1 227h0M123.1 235h0M122.7 228.2h0M106.9 229.4h0M132.6 233h0M130.9 233.2h0M119 234.6h0M126.2 228.5h0M133 232.6h0M112.5 225.4h0M124.6 234.7h0M122.3 239.5h0M137.5 239.4h0M127.2 220.8h0M119.7 235.5h0M133.4 242.7h0M129.4 226.5h0M108 232.8h0M128.8 222.6h0M135.7 241.6h0M126.1 235h0M127.3 226.9h0M134.3 234.5h0M109.2 233h0M127.8 240.6h0M136.3 229h0M136.7 231.2h0M129.5 238.6h0M137.4 238.1h0M138.5 240.9h0M134.6 237.4h0M116.3 247.9h0M133.2 226.1h0M122.9 235.8h0M119.4 237.7h0M129.2 245.7h0M124.1 238.7h0M106 245.6h0M110.2 226.7h0M135.4 240.7h0M110.9 236.7h0M106.7 239.6h0M128.1 231h0M135.4 230.1h0M132.6 229.5h0M135.5 229.8h0M122.8 237.9h0M124.1 242.3h0M135.1 229.9h0M131.4 246.6h0M134.9 239.1h0M111.3 233h0M131.9 243.2h0M119.5 240.2h0M129.2 237.3h0M112.7 228h0M133 233.1h0M121 227.8h0M128.5 243.3h0M126.2 227.8h0M122.9 228.7h0M136.3 226.7h0M132 230.8h0M128.2 227h0M129.1 228h0M111.7 236.7h0M131.8 235.5h0M127.7 240.2h0M135.9 224h0M137.1 234.2h0M119.2 224.6h0M133.9 224.6h0M136.9 231.4h0M136 229.7h0M111.7 243.3h0M114.3 242.7h0M131.1 238.4h0M137.4 238.1h0M122.9 224h0M127.1 238.4h0M118.8 237.9h0M137.5 234.9h0M131.4 238.5h0" stroke="#737373" stroke-width="1.15" stroke-linecap="square" fill="none"/>
<path d="M123.8 257.9h0M131.9 242.4h0M134.8 254h0M138 247.4h0M137.7 251.8h0M137.3 248.8h0M128 252.4h0M106 252.9h0M119.6 244.6h0M118.9 254.6h0M130.4 254.6h0M130.1 252.2h0M131.2 245.6h0M121.3 250h0M116.7 256.8h0M133.2 253.7h0M135.7 247.7h0M114.6 248.4h0M130.9 243.3h0M125 255.3h0M128.4 248.7h0M112.8 253.1h0M138 243.9h0M137.2 247.6h0M124.1 254.1h0M135.7 248.5h0M132.8 243.7h0M135 256.1h0M132.9 247.8h0M132.2 250.2h0M121.6 255.1h0M123.1 248.8h0M132.9 252.2h0M128.4 254.4h0M129.8 243.4h0M124.4 243.2h0M134 246.5h0M114.8 253h0M131.4 244.4h0M131.9 243.2h0M132.8 248.7h0M123.4 254.4h0M134.5 255.1h0M124.7 246.6h0M130.1 246.6h0M130.6 254.8h0M137 256.4h0M133 249.9h0M124.1 252.3h0M113.8 242.1h0M120.8 257.8h0M136 248.1h0M130 245.9h0M120.9 250.7h0M126.7 258h0M136 253.5h0M137 252.6h0M136.7 253.8h0M132.4 249h0M122.3 253.9h0M133.4 254.2h0M137.6 245.4h0M128.5 257.5h0M111.2 245.1h0M132.4 246.9h0M105.3 254.7h0M128.4 242.4h0M136.9 247h0M117.1 242.7h0M136.5 246.9h0M137 250.6h0M131.6 253.2h0M127 245.4h0M121.9 245.9h0M134.4 255.7h0M119.3 257.1h0M124 251.6h0M136.6 242.3h0M133.2 246.1h0M132.3 257.3h0M127.5 245.8h0M137.7 242.5h0M117.5 249.3h0M136.2 257.6h0M126 255.4h0M123.2 258.2h0M126.2 248.8h0M135.5 244h0M136.5 252.1h0M132.7 248.4h0M112.7 252.5h0M120.3 245.1h0M123.7 244.6h0M129.2 252h0M129.9 250.6h0M135 254.8h0M120 246.2h0M135.6 247.7h0M130.2 248.4h0M126.1 255.6h0M121.6 249.6h0M129 244.1h0M134.2 254.1h0M127.4 248.3h0M125.4 255.5h0M129.8 244.2h0M135 257.1h0M133.7 248.6h0M136.6 242.9h0M111 244.4h0M126.1 243.8h0M127.9 247h0M133.2 250.8h0M137.6 242.5h0M135.2 247.4h0M122.7 244.9h0M135.9 253.1h0M120.4 249h0M121.2 244.3h0M135 248.3h0M125.3 251.7h0M125.2 258.1h0M130.3 251.8h0M122.3 252.8h0M134.5 244.1h0M129.3 242.1h0M128.4 251.3h0M129.2 254.2h0M137.8 252.6h0M127 252.6h0M124.6 254h0M133.4 251h0M134.8 253.1h0M117.3 250.8h0M112.6 243.1h0M124.9 247.3h0M136.3 256.3h0M128.2 258.2h0M130.4 254.7h0M128.2 257.6h0M129.2 247.8h0M125.1 252.6h0M130.3 256.9h0M126.1 258.1h0M112.8 250.8h0M134.1 257.5h0M128.8 254.5h0M120.1 254.3h0M135.6 245.4h0M129.7 253.6h0M136.3 257.6h0M121.1 246.4h0M133.2 251.6h0M135.5 258.1h0M130 243.2h0M120.3 244.2h0M120 244.7h0M136.6 249h0M136.1 247.4h0M130 255.5h0M114.3 251.5h0M131.4 247.7h0M128.2 252.2h0M129.2 243.3h0M123.9 255.7h0M119 245.6h0M133.6 245.7h0M135.4 253.5h0M117.4 246.6h0M130.6 244.8h0M135.2 257.1h0M137.3 257.2h0M136.9 246.8h0M116.1 251h0M123.3 252.4h0M125.9 244.1h0M132.3 245.2h0M132.5 256.5h0M128.2 256.3h0M126 250.2h0M135.4 256.5h0M122.9 253.8h0M128.1 258.2h0M119.7 244.2h0M125.7 244.1h0M122.6 257.7h0M114 243.8h0M136 243.9h0M130 256.2h0M136.9 250.1h0M122.9 245.7h0M113.5 253.6h0M130.7 257.4h0M128.7 255.2h0M125.1 247.2h0M130.3 253.7h0M134.6 252.3h0M134.2 257.4h0M116.3 250.1h0M123.4 249.5h0M128 253.1h0M124.9 242.1h0M124.8 251.8h0M129.4 250.5h0M127.7 254h0M130.4 249.6h0M122.1 245.7h0M129.8 242.7h0M137.2 245.1h0M117.1 242.1h0M135.1 251.2h0M135.2 255.7h0M122 245.4h0M123 256.7h0M115.8 243.9h0M132.6 253.8h0M119.3 244.9h0M109.5 258.1h0M134.4 251.8h0M135 250.9h0M125.9 248.5h0M135 247.7h0M126.8 254.4h0M137.2 250.4h0M134.1 254.5h0M116.4 245.5h0M132 256h0M131 249.5h0M129.9 251.4h0M136.3 247.6h0M136.4 247.8h0M118 245.9h0M132.1 243.1h0M135.3 252.2h0M135.2 247.1h0M133.9 251.2h0M119.8 252.2h0M114.1 245.9h0M131.3 255.8h0M130 251.2h0M136.6 246.3h0M116.4 245.2h0M124.4 249.5h0M133.5 249.1h0M129.4 244.8h0M120.5 255.2h0M124.9 246.2h0M132.2 245.8h0M133.8 254.1h0M128.1 244.3h0M137.6 253.7h0M131.6 245.3h0M126.6 252.3h0M130.2 251.8h0M129.2 250.9h0M137.5 253.3h0M129.2 248.1h0M137.7 252.1h0M112.9 248.6h0M134.6 245.4h0M136.6 250.8h0M137.9 256.5h0M137.3 255.3h0M128.8 247.7h0M124.5 251.2h0M132.8 250.5h0M121.8 244h0M134.3 248.5h0M126.1 244.7h0M127.6 257.9h0M136.3 254.1h0M137.6 258.2h0M128.8 256.1h0M129.6 250.1h0M136 258.2h0M120 251.1h0M121.2 257.5h0M124.8 255.3h0M123.4 254.3h0M131.2 242.1h0M113.4 249.8h0M124.8 250.2h0M132.8 247.2h0M136.5 249.6h0M126.9 244.5h0M128.5 245h0M136.6 248.3h0M134.1 256.1h0M124.2 250.5h0M135.3 249.2h0M135 257.5h0M137.3 255.3h0M133.5 258.2h0M127.7 252.6h0M130.6 243.1h0M120 246.3h0M136.3 246.5h0M113.6 256.6h0M137 250.5h0M131.9 256h0M107.7 244.5h0M133.5 247.4h0M132.8 252.2h0M127.5 247.8h0M130.4 255.9h0M136.9 243.3h0M128.1 245.6h0M136.5 246.5h0M126.4 250.9h0M129.6 244.1h0M117.9 249.8h0M106.3 251.6h0M134.6 255.5h0M121.3 242.3h0M124.6 243.3h0M119 254.8h0M129.9 248.1h0M134.5 254.9h0M122 249.9h0M119.5 242.1h0M138 257.9h0M118.7 253.9h0M131.3 254.1h0M135.7 253.6h0M124.9 257.8h0M133.2 251.4h0M132.7 249.5h0M133.4 248.9h0M137.9 254.3h0M134.9 251h0M136.2 257.8h0M132.9 248.1h0M134.5 243.8h0M130.4 250.9h0M131.8 255.5h0M130.3 249.4h0M125.1 256.5h0M122.1 244.9h0M126.8 251.8h0M128.3 248.8h0M136.8 250.8h0M136.1 250.3h0M133.4 246.9h0M131.4 242.7h0M133.8 244.5h0M136.6 250.3h0M124.5 255.3h0M134.9 253.5h0M130.8 250h0M134.4 251.2h0M124.1 243.7h0M137.2 258.2h0M131.2 248.9h0M136.8 251.5h0M138 248h0M133.5 245.6h0M135.8 248.1h0M137.1 251.7h0M127.4 256.4h0M132.3 257.3h0M122.5 245h0M129.9 257.7h0M121.6 245.5h0M117.5 244.8h0M132.9 247.2h0M131 246.2h0M137.3 248.3h0M132 252.1h0M133.9 246.9h0M118.6 250.2h0M118.2 256.8h0M123.4 255.1h0M104.5 246h0M119.4 254.1h0M127.3 244h0M131.9 256.3h0M133.4 245.8h0M119.8 243.2h0M121.5 252.3h0M117 244.2h0M128.6 255.4h0M126.6 252.3h0M124.1 251h0M137.7 255h0M121.8 243h0M129.9 244.2h0M124.4 253.4h0M136.8 242.3h0M126.3 256.2h0M119.7 256.9h0M137 250.4h0M134.3 247.4h0M123.6 254.4h0M132.8 248.4h0M128.1 247.7h0M133.7 253.4h0M130.1 248.3h0M125.2 253.7h0M135 245.5h0M131.3 250.4h0M136.4 242.7h0M137.7 246.3h0M136.6 256.1h0M137.5 251.7h0M137.4 255.8h0M123.4 255.8h0M129.1 253.7h0M134.3 247.9h0M137.9 247h0M126.7 246.5h0M132.1 249.9h0M135.7 253.3h0M113.5 247.4h0M125.9 249.7h0M114.3 249.3h0M105.2 250.8h0M123.7 243.2h0M136.3 255.2h0M130.7 258h0M137.5 253.5h0M121 252.5h0M126.3 256.5h0M135.5 258.1h0M119 253.8h0M131.5 249.5h0M136.5 248.2h0M125.2 252.4h0M117.5 256.8h0M115.4 247.2h0M132.4 243.1h0M113.3 245.5h0M113.3 257.1h0M126.4 256h0M131 252.7h0M124.8 251h0M118.2 243.6h0M118.9 252h0M129.4 246h0M122.2 256.1h0M131.4 257.2h0M131.3 246h0M137.1 242.4h0M134.9 250.2h0M121 257.8h0M134.6 255.9h0M133.1 257.3h0M125.8 256.2h0M119.6 254.4h0M137.9 258.2h0M126.2 248.2h0" stroke="#767676" stroke-width="1.15" stroke-linecap="square" fill="none"/>
<path d="M118.8 274.5h0M113.8 263.4h0M134 274.3h0M117.3 281.4h0M122 270.1h0M134.5 266.9h0M127.7 259.9h0M131 278.9h0M123.5 274.1h0M128.6 268.3h0M129.2 262.3h0M116.1 275.6h0M135.7 281.4h0M135.2 274.8h0M116.5 271.7h0M112.5 276.1h0M130.5 274.1h0M129.2 261.5h0M119.4 276.5h0M114.3 266.5h0M136.2 266.3h0M123.4 279h0M133.3 265.9h0M137.8 275.9h0M124.6 268.9h0M129.5 259.3h0M113.5 261.9h0M137.8 263.7h0M136.6 281.4h0M133.5 274h0M115.2 262.3h0M134.7 270.9h0M124.5 267h0M121.6 268.8h0M122.4 267.5h0M131.8 280.5h0M125.1 270.2h0M136.2 272.4h0M132.9 278.4h0M120 281.2h0M125.5 266.7h0M130.3 260.9h0M116.7 270.2h0M112 262.9h0M131.1 275.2h0M136 273.2h0M126.3 274.3h0M115.8 266h0M112.8 262.2h0M136.3 269.1h0M138 279.7h0M125.3 261.6h0M105.3 274.8h0M129.3 277.8h0M133.5 262.7h0M105.4 271.3h0M105.1 267.4h0M124 266.8h0M136.2 275.7h0M138 269.8h0M132.9 271.6h0M126.9 269.1h0M131.6 267.7h0M126.3 270.8h0M115.9 270.1h0M117.3 271.5h0M126.6 263.1h0M133.7 281.4h0M119.6 269.9h0M135.8 262.1h0M113.9 262.9h0M128.2 276.8h0M134.1 268.2h0M136.1 271.3h0M132.2 281h0M116.3 262.4h0M129.1 276.7h0M133.7 279.3h0M131.5 278.7h0M119.3 260.2h0M118.4 281.4h0M118.2 270.2h0M122.4 271h0M132.5 275.1h0M131.9 265.3h0M131.9 263.8h0M135 273.8h0M131.3 280.3h0M117.3 271.7h0M120.9 278.6h0M130.9 270.6h0M136.1 267.5h0M123 265.8h0M129.7 268.5h0M128.1 262.2h0M118.1 268.1h0M135.4 277.9h0M110.7 268.6h0M124.7 268.5h0M128.4 267.8h0M104.6 276.5h0M125.8 259.3h0M107.9 274.7h0M110.7 275.1h0M115 277.2h0M137.5 265.4h0M126.6 274.7h0M133.6 267.9h0M120.6 271.9h0M132.3 272h0M133.8 264.6h0M120.8 275h0M131.9 261.5h0M129.5 264.2h0M122.1 277h0M118.4 262.1h0M123.6 264.4h0M129.9 272.5h0M120.8 279.1h0M129.1 271.8h0M119.5 269.1h0M132.8 275.1h0M120.2 273.7h0M118.4 263.8h0M126.9 266h0M125.8 278.3h0M112.5 267.3h0M122.1 280.3h0M131.9 271.7h0M136.5 267.9h0M132.9 276h0M133.7 259.6h0M134 277.6h0M133 266.7h0M128.8 270.8h0M127.9 267.8h0M120.4 263h0M134.8 266h0M130.2 280.9h0M137.9 268.4h0M121.4 280.4h0M124.3 264.2h0M118.1 269.7h0M130.4 271.3h0M120.3 273.2h0M124.1 272.6h0M114.9 269.9h0M113.6 280.8h0M116 266.5h0M129.4 275.8h0M133.4 272h0M131.1 267.9h0M130.7 263.1h0M136 264.5h0M134.6 259.7h0M133.6 274.7h0M136.5 266.8h0M116 266.6h0M110.6 277.1h0M127.7 268.3h0M131.7 281h0M122.7 262.7h0M128.9 266.9h0M130.8 281.4h0M128.8 259.1h0M138 268.7h0M126 267.7h0M125.8 276.4h0M115.7 267.3h0M134.2 275.5h0M132 266.4h0M115.2 264.7h0M127.9 261.3h0M116.7 279.3h0M132.7 268.7h0M137.9 259.6h0M135 270.7h0M132 265.2h0M121.8 260.2h0M122.6 259.8h0M120.3 261.4h0M137.5 274.5h0M126.7 264.5h0M136.1 273.8h0M127.2 260.4h0M131.6 264.2h0M128.5 273.8h0M111.1 262.6h0M133.7 262.4h0M134.4 281.1h0M135.4 261.2h0M132.1 263.1h0M125 278.3h0M110.9 263.1h0M104.1 260.5h0M115 260.5h0M136.8 273.2h0M137.9 259.7h0M120.4 273.1h0M136.1 281.3h0M116.9 263.7h0M122.7 275.1h0M134.4 259.9h0M130.5 280.8h0M136.3 259.4h0M115.7 279.1h0M118.5 271.1h0M133.3 274.3h0M135.4 267.9h0M110.9 259.1h0M134.6 268.1h0M115.3 262h0M136.3 261.3h0M137.7 280.7h0M136.6 266.2h0M134.6 259.4h0M130.5 260.8h0M138 267.4h0M125.9 281.1h0M133.8 276.8h0M133.8 281.4h0M133.1 280.9h0M132 268.9h0M127.4 277.9h0M121.1 265.6h0M112.9 279h0M125.2 262h0M125.6 268.8h0M126.6 277.2h0M128.9 277.8h0M125.7 262.3h0M133.7 265.4h0M117.7 280.8h0M132.5 272.1h0M126.9 267.9h0M117.1 271.2h0M134.8 281.4h0M108.2 272h0M131.7 267.1h0M137.7 272.8h0M118.7 261.4h0M133.1 268.5h0M138 276.6h0M124 263.1h0M134.5 273h0M135.8 262h0M133.7 262h0M135.5 270.6h0M135.8 276.2h0M130 264.5h0M124.5 259.6h0M118.4 269.5h0M133.1 262.1h0M127.2 262.1h0M126.4 274.5h0M137.4 279h0M125.7 280.2h0M118.6 278.8h0M129.3 263h0M136.9 267.1h0M132.9 261.9h0M122.5 274h0M133.7 277.9h0M115 265.8h0M136 262.8h0M134.1 268.7h0M120.6 261.4h0M120 279.5h0M127.7 261.8h0M119.5 261.3h0M131.2 266.2h0M121.3 266.6h0M137.6 264.8h0M127.2 265.1h0M118.3 273.5h0M136.7 273.4h0M128.2 266.3h0M135.9 274.2h0M128.8 263.3h0M126.2 261h0M114.1 265.8h0M132.6 262.4h0M133.9 280.4h0M133.1 276.4h0M126.8 260.3h0M136.3 259.3h0M137.8 280.1h0M135.3 276.4h0M135.8 269.8h0M119.8 271.2h0M137.5 281.4h0M130 259.5h0M133.6 278h0M135.2 277.5h0M136.6 278.2h0M136.2 267.5h0M132 266.5h0M114.8 263.8h0M123.4 264.5h0M135.2 264.2h0M128.7 277.2h0M105.7 271.4h0M128.6 279.9h0M113.5 263h0M123.9 263.9h0M129.7 268h0M132 269.7h0M137.2 262.4h0M104.1 275.1h0M112.7 261.7h0M137.6 259.6h0M136 265.8h0M117.2 274.7h0M122.4 278.7h0M133.5 270.9h0M137.1 263.9h0M123.5 262h0M121.6 270.1h0M135.9 278.3h0M134.5 264.9h0M137.3 268.6h0M131.9 267.1h0M133.9 272.6h0M128.3 261h0M130.2 276.4h0M130 261.6h0M136 273.5h0M134.3 267.4h0M136.9 276h0M134.9 280.6h0" stroke="#858585" stroke-width="1.0" stroke-linecap="square" fill="none"/>
<path d="M133.7 239.7h0M104.6 257h0M118.7 243.2h0M133.8 216.5h0M125.6 245.8h0M136.8 217.1h0M122.2 245.3h0M135.1 220.6h0M108.3 250.4h0M128.9 240.9h0M120.4 239.6h0M122.6 231.8h0M125 214.6h0M121.2 227.3h0M132.9 258.6h0M133.1 247.4h0M114.5 236.2h0M121.4 242.2h0M109.5 241.6h0M136.3 251.8h0M116.3 246.4h0M137.8 227.9h0M122.5 233.8h0M126.9 221.2h0M135.2 241.8h0M116.2 219.1h0M120.4 246.1h0M120.7 250.6h0M134.3 239.5h0M129.7 226h0M108.3 229h0M123.6 217.1h0M104.1 240.5h0M124.1 235.8h0M104.7 257.4h0M115.4 233.1h0M127.6 225.7h0M113 219.4h0M121.3 233.7h0M111.6 228.9h0M107.7 231.8h0M115.7 255.6h0M115.2 252.6h0M125.7 236.1h0M115.6 231.8h0M111.8 229.2h0M123.4 220h0M114.8 218.9h0M114 218.1h0M124.4 256.8h0M114.5 221.9h0M110 255.6h0M110.6 220.6h0M128.6 239.6h0M128.8 251.2h0M119.3 242.8h0M117.3 216.8h0M109.9 257.4h0M118.2 249.1h0M104.6 255.6h0M131.8 233.1h0M130.8 217h0M126.9 247.4h0M107 255.4h0M126.7 245.4h0M116.1 221h0M129.8 228.8h0M128.1 232.5h0M127.6 222.7h0M115.2 237.7h0M129.8 229.3h0M136.5 231.4h0M118.8 235.6h0M107.8 218h0M110.5 233.2h0M116.4 252.3h0M110.9 237h0M118.6 256.3h0M110.4 243.8h0M107 237.6h0M105.3 248.9h0M134.6 232h0M136.8 235.6h0M125.6 218.7h0M113.6 240.1h0M113.8 223.4h0M113.4 215.4h0M124.9 251.7h0M135 238.5h0M107.9 225.4h0M120.6 220h0M104.7 239.5h0M107.7 242.6h0M108 252h0M115.4 225.6h0M136.5 242.7h0M109.7 258h0M109.8 226.5h0M108.2 232.9h0M113.6 218.9h0M118.9 244.8h0M112.7 256.7h0M116.7 242.1h0M109 236.2h0M111 227.5h0M125.6 227.1h0M111.2 237.7h0M116.6 215.9h0M108.8 226h0M112.6 248.2h0M132.7 257.6h0M129 222.1h0M112.4 240.2h0M122.7 234.5h0M117.7 250.8h0M114.7 230.5h0M119.1 222.6h0M120.3 248.1h0M110.3 246.6h0M118.3 249.4h0M107.1 240h0M110.4 245.3h0M133.1 219.7h0M122.3 251h0M107.5 232.4h0M134.5 254.4h0M121.1 235.4h0M137.8 250.2h0M115.2 239.8h0M131.2 244h0M120.9 253h0M137.2 248.2h0M104.5 226.2h0M109.9 244.9h0M132.6 226.5h0M128.9 237.7h0M109.7 216.6h0M129.5 247.1h0M107 227.3h0M118 254.2h0M122.3 219.5h0M118.8 254.2h0M132.7 254.7h0M127.7 248.6h0M131.7 250.8h0M120.6 240.5h0M131.4 258.6h0M105 221.3h0M109.8 258.8h0M114.2 247.5h0M116.2 251.2h0M129.8 242.2h0M115.3 223.8h0M125.8 240.4h0M126.9 258.5h0M132.3 226.6h0M114.3 238.7h0M122.3 220.7h0M127.6 250.4h0M110.6 252.3h0M120.8 248.7h0M132.2 231.8h0M114.2 224.9h0M114.5 220.8h0M130.2 229.1h0M105.3 236.5h0M112.6 226h0M114.2 224.3h0M123.8 222.1h0M132.1 241h0M125.8 235.7h0M129.5 234.6h0M105.2 222.1h0M134.7 245.2h0M121 242.4h0M114.2 229.4h0M131.4 219.2h0M109.1 246.4h0M132.1 244h0M108.3 248.8h0M105.3 250.1h0M132.1 250h0M124.8 226.1h0M135.2 226.2h0M126.6 222.2h0M132.4 215.6h0M104.1 252.2h0M126.5 219.9h0M125.2 253.4h0M127.2 253.7h0M131.8 224.5h0M110.2 258h0M133.1 246.5h0M133.3 246.5h0M128.4 235.6h0M109.9 214.8h0M137.4 222.4h0M134.4 225.4h0M115.4 226.4h0M114 229.6h0" stroke="#8a8a8a" stroke-width="1.0" stroke-linecap="square" fill="none"/>
<path d="M148.5 242.7h0M161.3 230.4h0M140.7 236h0M144.8 250.6h0M170.4 232.3h0M146.9 241.9h0M145.6 252h0M173.3 242.6h0M168.9 232h0M140.2 227.4h0M165.3 250.1h0M140.4 232.9h0M141.7 240.5h0M143.4 253.9h0M138 230.2h0M142.3 227.6h0M152.7 222.8h0M142.2 239.7h0M149.3 235.4h0M152.2 257.5h0M139.2 249.3h0M153.4 247.1h0M150.1 229.2h0M148.8 240h0M143.1 249.4h0M178.4 233.2h0M145.6 239.5h0M138.6 249.7h0M142.6 249.8h0M144.5 245.4h0M142.4 240.6h0M138.5 244.4h0M154.2 251.2h0M151.8 242.1h0M141.1 252.9h0M169.3 226.5h0M164.8 256.5h0M147.6 248.1h0M154.7 247.7h0M141.4 234.1h0M150.9 240.2h0M146.4 233.3h0M142.8 242.6h0M143.8 243.7h0M147.3 249h0M139.9 240.1h0M146.6 243.3h0M164.3 228.4h0M138.7 242.5h0M147.7 237.3h0M153.4 234.4h0M143.1 257.3h0M159.3 248h0M139 243.1h0M143.2 251.9h0M191.3 246.7h0M139.1 246.4h0M140.4 239.2h0M139.1 237.7h0M144 250.4h0M160.1 249.9h0M140.7 226.1h0M146.1 246.3h0M143.5 238.1h0M158.5 244.1h0M143.2 235.1h0M152 235.4h0M173.7 241.4h0M139.6 241.2h0M138.8 247.9h0M138.2 248.4h0M139 234.3h0M138.2 249.7h0M181.1 250h0M172 245.3h0M147.7 248.2h0M207 244.8h0M141 224.7h0M150.9 251.2h0M138.2 240.8h0M145.9 244.4h0M138.9 240h0M145.9 242.1h0M141.3 242.2h0M151.1 240.5h0M145.9 233.7h0M151.1 244h0M141.5 251.7h0M141 245.7h0M138.7 240h0M165.2 250.6h0M146.9 231h0M148.2 243.3h0M140.3 234.8h0M144.3 234.7h0M139 235h0M155.1 246.6h0M143.1 236.4h0M138.9 246.3h0M152.5 251.9h0M139 239.4h0M150.2 248h0M151.6 238.9h0M150 237.3h0M140.7 240.7h0M142.8 231.9h0M149.7 224h0M138.5 234.2h0M138.2 239.1h0M138.6 229.8h0M140.1 229.9h0M159.5 250.7h0M139.1 243.4h0M142 236.3h0M150.8 237.3h0M146.5 249.8h0M143.1 231h0M158.4 246.7h0M143.1 229h0M139.7 239.1h0M144.2 225.5h0M163.8 245.1h0M140.4 236.9h0M140.4 247.3h0M171.6 243.1h0M151.9 246.7h0M144.3 233.6h0M152.4 245.9h0M150.8 241.2h0M140.4 233.1h0M139.1 246.9h0M154.4 243.9h0M171.4 246.2h0M141.8 223.4h0M157.7 227.5h0M138.5 223.7h0M159.3 251.5h0M162.6 240.9h0M155 241.7h0M142.1 245h0M171.8 240.2h0M141.7 243.6h0M151.1 242.4h0M155.7 239.9h0M138 237.6h0M142.4 233.2h0M146.6 239.9h0M138.6 251.8h0M164.8 236h0M170.5 235.6h0M150.1 225.3h0M143.9 234h0M143.1 250.6h0M149.8 234.6h0M142.9 227.1h0M140.3 244h0M146.1 241.9h0M148 228.4h0M150.3 236.2h0M146 228.4h0M144.7 246.5h0M138.7 242.5h0M140.2 250.9h0M146.3 228.5h0M146.5 239.5h0M140.8 256.7h0M139.4 252.5h0M156.1 246.1h0M149.9 249.4h0M151.1 244.8h0M150.6 237.4h0M174 255.2h0M158.5 251.8h0M170.5 242.6h0M146.6 238.6h0M166.2 242.8h0M149.6 246.2h0M147.3 241.1h0M152.2 240.2h0M139.8 248.8h0M148 241.4h0M140.7 249.7h0M148.7 242.8h0M162.4 251.7h0M163.1 230.6h0M147.7 231.1h0M187 249.6h0M165.4 248h0M155.2 240.8h0M142.7 254.9h0M141 243h0M162 228.2h0M158.2 242.6h0M154.1 236.9h0M160.9 228.3h0M143.3 250h0M142.8 247.1h0M150 239.9h0M163.9 254.5h0M143 240.4h0M144.1 251.2h0M149.3 245.6h0M140.3 253.7h0M144.6 253.1h0M145.2 252.4h0M139.4 244h0M139.8 241.3h0M169.2 240.5h0M140.5 243.5h0M144.3 231.2h0M139.5 248.2h0M151.4 236h0M171.9 246.1h0M146.2 245.9h0M139.5 239.1h0M145.5 239h0M138.9 244.6h0M138.4 235.2h0M179.4 249.7h0M138.4 236.8h0M153.4 243.5h0M162 241.5h0M141.2 258.2h0M138.4 241.5h0M148.4 245.6h0M144.2 242.2h0M175 239.9h0M154.3 241.1h0M177.2 246.7h0M155.8 235.1h0" stroke="#858585" stroke-width="1.0" stroke-linecap="square" fill="none"/>
<path d="M156.4 270.2h0M145.8 266.2h0M182.5 267.4h0M149.4 278.4h0M142.5 278.5h0M162.8 281.4h0M170.5 259.7h0M158.1 266.1h0M148.9 279.9h0M141.6 275.2h0M171.8 264.6h0M161 262.8h0M159.8 265.5h0M150.1 279.1h0M147.4 261.9h0M149.2 270.9h0M157.2 270.6h0M152.1 266.6h0M152.2 272.7h0M174.1 269.9h0M148.1 277.1h0M141.1 275.8h0M146.3 263.2h0M162.4 261.8h0M149.5 267.1h0M183.4 277.5h0M146.2 266.2h0M156.3 271.1h0M159.2 265.8h0M174.1 274.1h0M159.2 272.3h0M146.3 261.8h0M148.1 265.2h0M186.3 269.2h0M155.8 268.2h0M142.1 270.6h0M160.9 270.5h0M179.7 273.4h0M164.7 271.4h0M170.4 260.8h0M147.4 272.1h0M139.9 265.8h0M140.1 268.4h0M155.2 262.1h0M155.8 277.8h0M174.2 268.4h0M143.3 280.5h0M147.2 261.1h0M188.7 276.4h0M154.7 263.6h0M139 265.5h0M189.8 276.7h0M143.8 270.3h0M146.4 270.5h0M150 280.6h0M144.9 262.8h0M189.9 280.6h0M143.4 265.3h0M158.8 276h0M143.6 264.8h0" stroke="#999" stroke-width="1.0" stroke-linecap="square" fill="none"/>
<path d="M197.6 244.9h0M188.5 255h0M195.5 244.4h0M180.7 240.1h0M195.2 228.7h0M162.8 245.2h0M180.4 237.1h0M181.5 231.6h0M171.5 249.3h0M191.9 251.1h0M198.9 241.6h0M190.9 229h0M199.7 238.9h0M187.6 238.2h0M173.2 252.9h0M161.2 254.9h0M195.7 247.3h0M171.2 249.4h0M197.1 249.6h0M181.6 230.8h0M199.5 244.2h0M159.5 232h0M197.9 254.9h0M173.7 254.3h0M184 244.2h0" stroke="#999" stroke-width="1.0" stroke-linecap="square" fill="none"/>
<rect x="103.5" y="182.5" width="118" height="100" fill="none" stroke="#404040" stroke-width="1.1"/>
<path d="M138.5 182.5V282.5M103.5 259.5H221.5" stroke="#505050" stroke-width="1" fill="none"/>
<path d="M103.5 282v4M103.5 282.5h-4M112.5 282v2.5M103.5 274.5h-2.5M117.5 282v2.5M103.5 270.5h-2.5M121.5 282v2.5M103.5 266.5h-2.5M124.5 282v2.5M103.5 264.5h-2.5M126.5 282v2.5M103.5 262.5h-2.5M128.5 282v2.5M103.5 260.5h-2.5M130.5 282v2.5M103.5 259.5h-2.5M131.5 282v2.5M103.5 258.5h-2.5M133.5 282v4M103.5 257.5h-4M141.5 282v2.5M103.5 249.5h-2.5M147.5 282v2.5M103.5 245.5h-2.5M150.5 282v2.5M103.5 241.5h-2.5M153.5 282v2.5M103.5 239.5h-2.5M155.5 282v2.5M103.5 237.5h-2.5M157.5 282v2.5M103.5 235.5h-2.5M159.5 282v2.5M103.5 234.5h-2.5M161.5 282v2.5M103.5 233.5h-2.5M162.5 282v4M103.5 232.5h-4M171.5 282v2.5M103.5 224.5h-2.5M176.5 282v2.5M103.5 220.5h-2.5M180.5 282v2.5M103.5 216.5h-2.5M183.5 282v2.5M103.5 214.5h-2.5M185.5 282v2.5M103.5 212.5h-2.5M187.5 282v2.5M103.5 210.5h-2.5M189.5 282v2.5M103.5 209.5h-2.5M190.5 282v2.5M103.5 208.5h-2.5M192.5 282v4M103.5 207.5h-4M200.5 282v2.5M103.5 199.5h-2.5M206.5 282v2.5M103.5 195.5h-2.5M209.5 282v2.5M103.5 191.5h-2.5M212.5 282v2.5M103.5 189.5h-2.5M214.5 282v2.5M103.5 187.5h-2.5M216.5 282v2.5M103.5 185.5h-2.5M218.5 282v2.5M103.5 184.5h-2.5M220.5 282v2.5M103.5 183.5h-2.5M221.5 282v4M103.5 182h-4" stroke="#333" stroke-width="1" fill="none"/>
<text x="104.3" y="298.3" font-size="9.2" text-anchor="middle" fill="#6a6a6a">10<tspan font-size="8.1" dy="-4.5">0</tspan></text>
<text x="96.1" y="280.4" font-size="9.2" text-anchor="middle" fill="#6a6a6a" transform="rotate(-90 96.1 280.4)">10<tspan font-size="8.1" dy="-4.5">0</tspan></text>
<text x="133.8" y="298.3" font-size="9.2" text-anchor="middle" fill="#6a6a6a">10<tspan font-size="8.1" dy="-4.5">1</tspan></text>
<text x="96.1" y="255.4" font-size="9.2" text-anchor="middle" fill="#6a6a6a" transform="rotate(-90 96.1 255.4)">10<tspan font-size="8.1" dy="-4.5">1</tspan></text>
<text x="163.3" y="298.3" font-size="9.2" text-anchor="middle" fill="#6a6a6a">10<tspan font-size="8.1" dy="-4.5">2</tspan></text>
<text x="96.1" y="230.4" font-size="9.2" text-anchor="middle" fill="#6a6a6a" transform="rotate(-90 96.1 230.4)">10<tspan font-size="8.1" dy="-4.5">2</tspan></text>
<text x="192.8" y="298.3" font-size="9.2" text-anchor="middle" fill="#6a6a6a">10<tspan font-size="8.1" dy="-4.5">3</tspan></text>
<text x="96.1" y="205.4" font-size="9.2" text-anchor="middle" fill="#6a6a6a" transform="rotate(-90 96.1 205.4)">10<tspan font-size="8.1" dy="-4.5">3</tspan></text>
<text x="222.3" y="298.3" font-size="9.2" text-anchor="middle" fill="#6a6a6a">10<tspan font-size="8.1" dy="-4.5">4</tspan></text>
<text x="96.1" y="180.4" font-size="9.2" text-anchor="middle" fill="#6a6a6a" transform="rotate(-90 96.1 180.4)">10<tspan font-size="8.1" dy="-4.5">4</tspan></text>
<text x="164.4" y="175.4" font-size="13.2" font-weight="bold" stroke="#000" stroke-width="0.25" text-anchor="middle">F-MuLV-H/H</text>
<text x="109.8" y="194" font-size="10.1" font-weight="bold" stroke="#000" stroke-width="0.25">77.6%</text>
<text x="219.3" y="193.3" font-size="10.1" font-weight="bold" stroke="#000" stroke-width="0.25" text-anchor="end">9.8%</text>
<text x="219.5" y="279.5" font-size="10.1" font-weight="bold" stroke="#000" stroke-width="0.25" text-anchor="end">3.4%</text>
<path d="M263.7 280.4h0M275.9 281h0M314.4 282.4h0M270.8 279h0M263.8 280.1h0M314.7 270.5h0M302.3 280.1h0M294.4 275.7h0M301.2 276.4h0M266.8 277.8h0M263.2 272.7h0M271.8 278.5h0M307.8 275h0M276.4 275.7h0M277.1 280.5h0M300.8 278.9h0M285.1 281.7h0M273.5 276.2h0M302.3 279.8h0M270.8 281h0M290 279.9h0M301.3 276.5h0M268.9 282.3h0M273 275.3h0M278.3 274.6h0M327.3 280.7h0M298.7 278.4h0M313.4 282.4h0M298.1 275.5h0M267.3 275.9h0M265.1 272.4h0M260.1 273.3h0M266.4 281.9h0M263.5 277.8h0M305.2 282.4h0M266.4 281.1h0M265.6 276.7h0M300.3 281.3h0M281.1 282.1h0M306 277.3h0M276.3 277.3h0M295.9 281.7h0M306.4 278.8h0M268 282.2h0M295.1 281.9h0M307.6 281.6h0M304.9 276.4h0M312.3 278.2h0M263.3 280.2h0M322.9 271.9h0M286.4 280.5h0M306.9 275.3h0M287.5 281.5h0M301.1 270.4h0M328.8 282.2h0M301.6 281.5h0M310 279.8h0M282.8 281.7h0M297.4 282.4h0M300.5 282.4h0M301.5 279.4h0M307.3 273.9h0M302.3 280.6h0M313.3 278.6h0M281 281.5h0M279.5 282.4h0M308.5 279.6h0M306.8 278.9h0M293.8 281.9h0M275.1 280.9h0M303.6 282.3h0M301.3 276.6h0M284.9 277.9h0M294.6 278.6h0M301 280.3h0M293.7 280.5h0M292.1 277.3h0M265.6 273.1h0M273.3 271.3h0M260.1 279.8h0M281.8 274.1h0M262.6 282.2h0M294.2 277h0M309 275.5h0M284.4 278.2h0M296.8 271.6h0M295 281.2h0M265.3 275.5h0M304.3 281.4h0M265.4 280.4h0M302.1 278.6h0M273.8 279.9h0M263.3 272.2h0M286.3 275.4h0M271.8 281.9h0M315.8 282.4h0M314.7 279.8h0M279.8 282h0M297.9 282.1h0M286.1 268.3h0M290 275.2h0M297.4 275.9h0M284 276h0M268.9 277.7h0M285.1 271h0M275.9 282.4h0M303.3 282.2h0M281.6 282.4h0M284.6 273.9h0M265.9 272.6h0M299.3 270.4h0M272.3 282h0M270 280.8h0M313.5 270.3h0M269.2 278.8h0M291.8 270h0M281.9 278.8h0M265.9 281.9h0M260.8 281.8h0M300.1 280.4h0M295.9 280.3h0M298.5 274.3h0M311.4 275h0M282.1 279.8h0M265.8 279.4h0M266.4 277.6h0M303 276.4h0M303.9 277.6h0M276.8 271.7h0M298.8 281h0M265.9 276.9h0M282.1 274.5h0M288.9 278.8h0M311.1 273.4h0M324.5 275.1h0M308.1 275.5h0M284.8 278.9h0M296.2 280.5h0M261 280.1h0M309.8 279.8h0M296.1 279.4h0M319.7 279.4h0M319.1 278.3h0M281.1 275.7h0M304.2 275.3h0M281.8 278.7h0M269.7 282.3h0M321.2 280.9h0M264.3 272.6h0M260.1 281.6h0M308.9 282.2h0M260.9 282.3h0M265.4 275.5h0M292.9 273.9h0M275.4 281.8h0M299.4 282.1h0M317.7 280.4h0M311 274.8h0M266.7 271.4h0M303.2 281.7h0M304.9 275.5h0M284.9 275.3h0M280.4 278.7h0M296.9 282.2h0M290.5 268.9h0M263.3 274.5h0M297.7 277.2h0M264.2 272.7h0M278.1 279.6h0M294 282.4h0M299.2 280.9h0M296.6 276h0M294.1 279.2h0M290.8 274.9h0M267.9 278.2h0M299.7 281.9h0M274.4 279.6h0M298.6 282.4h0M310.4 281.1h0M311 282.4h0M294 280h0M279.1 280.7h0M281.6 277h0M312.8 275.9h0M265.8 282.2h0M267.5 278.9h0M273.6 277.2h0M302.2 276.3h0M299.6 282.4h0M293.3 281.7h0M297.9 281.4h0M288.9 282.4h0M265.2 278.6h0M277.8 278.6h0M260.7 281.1h0M264.2 274.1h0M282.3 277.9h0M306.9 279h0M284.7 276.9h0M260.4 278.5h0M292.2 281.9h0M271.2 281.7h0M272.4 280.7h0M287.1 280.4h0M298.7 279h0M281.5 281.3h0M274.5 280.6h0M264.4 280.2h0M308.3 279.9h0M283.9 282.4h0M293 281.4h0M313.8 281.4h0M281.7 282.4h0M294.9 281.1h0M278.8 281.3h0M319.4 274.6h0M276.5 276.1h0M316.6 282.4h0M277.2 277.8h0M303.3 280.2h0M327.4 281.4h0M322.7 279.6h0M300.5 278.3h0M276.8 282.4h0M285.7 279.1h0M282 276.1h0M262.1 280.2h0M290.7 281.8h0M273.4 281.7h0M285.7 275.6h0M298.6 277.7h0M276.9 275h0M274.2 282.4h0M269.6 276.2h0M266.5 274.9h0M283.2 282.1h0M267.4 274.8h0M298.6 280.8h0M273.1 281.4h0M272.4 278.4h0M279.3 281.6h0M272.4 277.8h0M314.3 278h0M263.4 273.6h0M300.7 271.7h0M286.3 282.4h0M268.6 282.4h0M269.4 268.3h0M289.4 282.4h0M301.3 280.7h0M260.1 277h0M282.3 282.4h0M304 278h0M274.4 276.1h0M307.8 269.8h0M289.4 282.2h0M263 280.1h0M271.2 280.5h0M278.2 282.3h0M303.7 273.6h0M295.9 273.1h0M297.2 275.4h0M334.4 278.7h0M288.8 275.3h0M307.9 273.8h0M273.2 274.2h0M295.4 277.2h0M267 276.9h0M295.4 279.4h0M294 278.4h0M294.9 274.3h0M305.9 282.4h0M271 279.7h0M288.8 278.9h0M286.5 273.4h0M330.9 281.5h0M312.2 279.1h0M313.8 277.5h0M312.2 280.9h0M267.1 279.2h0M266.7 269.1h0M303.6 281.5h0M293 282.4h0M316.3 279.8h0M270.7 281.1h0M289 282.3h0M268.7 282.4h0M266.6 281.1h0M267.4 281.9h0M279.2 279.2h0M283 275.2h0M304 278.9h0M264.3 282.4h0M304 280.5h0M295.4 280.1h0M279.5 280.5h0M262.4 278.3h0M316.6 276.5h0M293.2 281.3h0M322.1 277.3h0M265.4 280h0M306.9 277.6h0M304.4 279.1h0M270.5 281.3h0M275.8 272.3h0M297.4 278.5h0M301.9 280.6h0M310.6 270.1h0M281.7 278.5h0M295.7 276.7h0M262.4 282.2h0M263.3 280.8h0M270.9 278.5h0M292.7 274.5h0M270.5 282.4h0M284 282.4h0M279.6 279.2h0M267.3 279.6h0M329.3 278.1h0M260.8 274.8h0M289.3 276.3h0M266.5 281.5h0M280.5 280.4h0M296.9 277.5h0M290.4 280.8h0M264.1 276.9h0M290.1 272.7h0M279.5 275.7h0M301.2 278h0M284.5 278h0M280.3 280.5h0M272.6 278.1h0M275.8 279.9h0M271.8 277.5h0M277.3 282.4h0M261.7 281.6h0M302.2 282.3h0M270 281.7h0M313.2 281.7h0M276.6 281.7h0M273.7 278.1h0M264.8 277.5h0M299.9 282.1h0M305.5 274.1h0M291.9 275.4h0M285 277.2h0M291.1 275.3h0M300.7 279.8h0M270.9 282.4h0M276.1 267.4h0M299.6 281.8h0M276.2 282.4h0M314 271.1h0M318.7 278.7h0M270.1 282.1h0M302 274.1h0M273.5 282.4h0M284.5 277.5h0M270.3 277.1h0M294.7 278.6h0M296.2 279h0M306.8 279.1h0M295.5 277.4h0M271.2 273.6h0M270.9 278.9h0M286 278.5h0M310.8 280.6h0M296.6 275h0M281.3 282.4h0M284.9 277.9h0M294.1 280.7h0M284 279.8h0M325.2 277.6h0M280.1 280.1h0M275.9 275.5h0M312.4 273.9h0M303 279.5h0M279.7 281.7h0M270 280.5h0M274.5 281h0M301.1 276.7h0M273.7 282.4h0M274.1 276.3h0M277.5 280.5h0M279.3 277.2h0M294.4 277.2h0M281.8 280.6h0M309.5 275.4h0M297.6 280.2h0M285.4 264.7h0M260.7 279.2h0M292 277.1h0M286.6 276h0M315.5 277.9h0M300.7 278.3h0M289.3 282.4h0M267.8 282h0M293.1 281.1h0M265.1 271.9h0M283 270h0M302 280.9h0M278.6 278.3h0M296.2 267.1h0M298.7 282.4h0M261.9 265.5h0M291.9 282.4h0M304.3 280.8h0M281.5 275.2h0M307.5 282.4h0M280.2 281h0M294.1 275.8h0M287.1 282.4h0M275.7 280.5h0M288.7 272.1h0M299.9 281.8h0M295.4 277.3h0M270.2 282.4h0M266.9 273.8h0M289 277.6h0M279.1 274.4h0M282.8 282.4h0M266.2 279h0M302 282h0M271.7 273.6h0M307.6 278.8h0M301.2 272.5h0M278.1 280.4h0M297.4 272h0M277.7 276.2h0M296.3 275.9h0M274 281.7h0M289.4 279.6h0M279.5 268.4h0M292.6 276.5h0M296.1 279.8h0M281.2 282.4h0M285 278.2h0M283.4 276.3h0M272.2 282.3h0M301 272.6h0M266.2 279.9h0M301.6 277.5h0M316.5 273.8h0M288.8 281.1h0M270.7 281.7h0M318.9 278.1h0M265 281.7h0M295.3 280h0M270.2 276h0M272.4 277.4h0M270 282.4h0M296.2 275h0M271 279.5h0M302.6 279h0M311.9 277.1h0M273.3 271h0M289.6 279.6h0M309.9 275.9h0M301.6 279.7h0M264.8 276.9h0M268.5 278.5h0M269 277.6h0M273.8 281h0M265 279.3h0M289.8 279h0M264.3 273.4h0M291.7 275.1h0M271.7 278.5h0M292.7 274.1h0M282.5 273.6h0M282.5 270h0M266.8 275.9h0M310.5 278.7h0M268.6 278.4h0M303.1 277.9h0M261.8 279h0M288.7 282.4h0M290.6 276.3h0M277 282.4h0M285.7 274.7h0M318.6 280.5h0M286.7 282.4h0M277.7 281.7h0M275.1 279.3h0M299 282.4h0M294.9 280.5h0M300.9 279.7h0M307.7 277.5h0M299.3 281.8h0M335.8 271.1h0M291.4 274.6h0M326.1 282.4h0M310.2 277.2h0M298.4 282.4h0M292.2 281.7h0M273.8 280.8h0M310.5 278.5h0M306.9 278h0M274.3 274.4h0M287.1 278.7h0M346.8 275.4h0M314.1 281.6h0M306.9 275.9h0M288.6 275.2h0M292.5 278.8h0M271.7 277.8h0M307.5 280.3h0M266.7 282.3h0M299.8 278.3h0M303.5 278.1h0M268.2 276h0M268.3 280.5h0M280 281.6h0M295.3 279.1h0M290.5 278.9h0M287.3 276.8h0M306.2 274.6h0M274.5 280.6h0M293 272.1h0M295.7 282.3h0M302.7 282.4h0M291.4 281.4h0M271.4 280.9h0M308.2 280.1h0M306.3 270.8h0M312.2 277.5h0M295.9 280.8h0M310.2 278.6h0M311.3 280.7h0M318.2 281.4h0M272.5 280.9h0M283.1 280h0M290.6 270h0M279.9 281.8h0M274.8 269.4h0M264.7 282.4h0M322.5 276.2h0M305.8 282.4h0M277.2 282.4h0M262.2 278.5h0M291.4 281h0M295.1 280.9h0M303.7 278.3h0M286.4 273.3h0M302.9 281h0M280.2 276h0M277.2 282.4h0M292.9 274.7h0M266.8 282.3h0M316.9 279.6h0M304.7 275.2h0M316.6 272.5h0M260.1 281h0M282.5 279.2h0M303 279.8h0M303.7 282.4h0M284.7 276h0M270.1 280.8h0M284.2 282.4h0M282.9 279.5h0M275.2 280.1h0M275.9 280.3h0M292.9 278.1h0M307.1 281.5h0M279.1 282h0M301.1 272.2h0M287 278.1h0M265.2 282.4h0M282.7 275.9h0M261.1 279.9h0M282.5 280.5h0M311.1 278.8h0M299.5 280.2h0M307 282.2h0M260.4 273.9h0M299.7 278.9h0M307.2 276.6h0M292.7 279h0M303.9 278.2h0M266 280.2h0M289.9 279.8h0M305 276.2h0M302.9 281.1h0M276.1 280.5h0M309.6 282.4h0M273 281h0M260.1 276.4h0M261.3 277.9h0M301.1 282.4h0M306 281.2h0M268.2 280.5h0M272.6 277.7h0M272.1 282.4h0M313.4 273.8h0M273.3 277.1h0M261.6 280.8h0M305.5 281.7h0M273.9 276.8h0M277.3 281.2h0M307 280.1h0M285.2 279.2h0M279.2 280.2h0M305.5 276.6h0M303.7 278.8h0M274.3 280.8h0M275.5 282.4h0M282.5 282.4h0M271.9 276.9h0M293.2 279.3h0M295.7 281.7h0M294.4 274.3h0M264.6 275.4h0M275.6 275.1h0M302.6 277h0M291.1 279.3h0M283.7 273.5h0M281.4 281.2h0M299 280.6h0M296.3 282.4h0M291.3 278.1h0M262.6 274h0M301.2 279.7h0M296.8 282.2h0M279.7 275.3h0M280 280.6h0M305.4 282.4h0M284.7 281.7h0M260.3 280.4h0M307.7 281.7h0M260.1 269.9h0M261.7 281.8h0M298.5 275.8h0M302.1 280.5h0M277 282.2h0M262.3 277h0M286.5 282.4h0M312.3 280.5h0M283.3 282.4h0M292.3 281h0M294.3 281.7h0M285.2 273.8h0M300.5 270.6h0M297.5 280.7h0M280 282.4h0M261.9 281.2h0M281.3 272.8h0M275.1 282.4h0M285.7 274h0M280.2 273.6h0M297.6 278.2h0M288.2 282.4h0M281.5 281.4h0M302 271.4h0M293.6 280.2h0M292 278.8h0M271 276.6h0M301.4 280.7h0M309.3 282.4h0M295.6 278.3h0M293.3 276.4h0M275.2 274.4h0M291.7 278.5h0M274.7 278.7h0M295.7 281.6h0M275.4 277.6h0M282.4 268.9h0M307.4 282.4h0M282.9 279.4h0M263.8 280.5h0M271.5 276.3h0M283.6 281.8h0M288.1 277.7h0M291.1 278.6h0M264.2 282.4h0M284.8 275.4h0M303.8 280h0M317.4 278.4h0M291.3 281.6h0M261.9 281.5h0M264 274.5h0M269.5 274.6h0M274.1 282.4h0M309.6 282.1h0M302.2 281.4h0M286.1 281.1h0M281.5 275.2h0M268.2 278.9h0M277.1 278.7h0M260.1 276.1h0M301.6 272h0M322.1 280.4h0M265.5 280.2h0M263.6 280.6h0M273.8 281.1h0M315.7 277.9h0M270.6 275.5h0M300.9 279.3h0M325.7 275.2h0M289.4 270.6h0M277.5 278.9h0M306.8 272.3h0M265.9 277h0M260.6 280.4h0M298.7 281.4h0M285 279.6h0M311.8 279.2h0M293.3 281.5h0M277 271.8h0M305.8 277.9h0M280.8 277.1h0M300 279.9h0M261.6 276.2h0M276.3 280.6h0M276 282.3h0M272.4 281.3h0M318.6 272.1h0M306.1 281.7h0M297.2 275.2h0M283.3 281.1h0M279.1 281.3h0M281.7 282.4h0M287.3 280.3h0M276 282.3h0M288.1 280h0M272.1 272.1h0M294.3 281.9h0M264 278.3h0M282.7 279.3h0M260.1 282h0M272.6 280.2h0M300.8 282.4h0M273.9 281.7h0M267.2 278.9h0M306.9 273.2h0M269.6 281.9h0M281 282.4h0M297.5 280.7h0M283.8 281.4h0M275.2 281.9h0M305.9 276.8h0M263.1 277.4h0M283.4 281.2h0M306 280.7h0M272.7 281.7h0M286.5 279.6h0M265.6 282h0M349 276.6h0M282.6 282.4h0M302.6 279.7h0M262.3 279.1h0M273.3 276.5h0M311.8 280.5h0M297.7 281.3h0M318.7 280.3h0M270.9 282h0M291 271.4h0M305.6 282.4h0M294.3 278.8h0M303 282.4h0M296.2 272.7h0M262.1 278.9h0M285.1 279.9h0M298.3 276.1h0M300.4 280.7h0M296.5 277h0M291.9 274.2h0M272.4 278.8h0M309.9 277.6h0M268.9 281.3h0M308.6 277.8h0M275.5 278.9h0M267.9 276h0M263.2 273.3h0M260.5 281.7h0M315.3 280.9h0M306 274h0M327.8 280.5h0M266.8 274.2h0M291.5 271.4h0M300.8 280.4h0M288.6 280.9h0M277 276.1h0M305.1 278h0M280.1 282.4h0M281.2 273.8h0M267.2 273.8h0M269.8 280.2h0M277.9 282.4h0M275.3 279.4h0M287.1 280.2h0M298.9 279.3h0M265.3 282.4h0M261.7 281.9h0M295.8 278.6h0M298.5 281.1h0M271.7 278.8h0M274.5 281.6h0M298.9 276.2h0M308.7 282.3h0M290 277.5h0M287.7 279.6h0M274.5 277.6h0M262.6 277h0M305.3 278.9h0M301.1 276.5h0M295.2 282.3h0M286.9 274h0M293.2 270.5h0M288.7 282.1h0M296 280.7h0M293.2 278.2h0M263.5 278h0M270.1 280.7h0M282.9 280.7h0M285.8 282.4h0M276 282.4h0M279.6 279h0M271.1 279.8h0M280 279.8h0M310.6 281h0M283.9 277.2h0M282.8 273.8h0M271 279.8h0M290.8 279.8h0M301.7 280h0M300.5 280.6h0M295.5 278.6h0M268.2 282h0M303.5 277.3h0M263.6 282.4h0M281.7 280.2h0M279.3 280.2h0M280.7 277.2h0M283 278.3h0M282.3 282.4h0M284.1 282.4h0M290.1 276.3h0M284.1 277.1h0M320.8 276.2h0M280.5 280.2h0M295.3 280.2h0M292.5 280.8h0M299.9 277h0M289.1 276.1h0M262.9 280.7h0M303.5 279.3h0M270 277.4h0M261.6 280h0M266.7 282h0M269.9 282.4h0M290.2 271.8h0M285.7 280h0M306.4 277.8h0M262.5 282.4h0M308.3 278.9h0M270.9 282.4h0M266 279.9h0M273.3 278.5h0M261.7 274.6h0M290.1 274.5h0M261.6 282.4h0M269.1 273.1h0M286.4 282.4h0M303.6 271.6h0M293.4 282.4h0M300.3 279.2h0M278.9 279.4h0M324.6 282.4h0M271.4 276.5h0M291.7 278.4h0M279.4 282.4h0M293.6 280.7h0M324.7 280.2h0M272.2 280.6h0M282.9 281.5h0M270.2 281.1h0M277.6 277.3h0M304.7 273.3h0M313.6 278.3h0M275.7 279.6h0M303.3 272.7h0M322 281.4h0M294.7 274.7h0M262.6 278.3h0M264.6 281.9h0M316.6 281.8h0M327 277.6h0M278.4 282.4h0M289 282.4h0M264.4 270.2h0M266.7 275.7h0M292.3 277.9h0M283.7 278.5h0M287 281.5h0M291.2 276.8h0M288.3 279h0M283.2 279h0M308.3 282.4h0M260.6 274.3h0M269.4 278.3h0M300.9 280.3h0M304.7 280.3h0M263 280.8h0M292.6 282.3h0M281 282.3h0M286.3 275.6h0M308.8 268.1h0M292.5 278.2h0M278.3 281.1h0M282.6 281.6h0M325.4 276.9h0M263.1 282.4h0M284.2 282.4h0M266.1 268.6h0M265.5 280.1h0M282.1 280.7h0M285.3 282.4h0M280.6 282.4h0M305.9 281.5h0M267.8 280.7h0M289.2 282.4h0M286 275.5h0M274.1 280.1h0M261.7 278.2h0M321.1 279.7h0M272.7 272.7h0M276.8 281.1h0M306.5 280.6h0M269.8 282.4h0M297.3 280.8h0M308.6 279.7h0M284.2 277.5h0M265.8 278.4h0M314.7 281.8h0M275.1 282.4h0M267.8 282.1h0M260.1 281.3h0M286.5 282.3h0M318 276.5h0M279.7 281.8h0M266.6 280.9h0M280.2 275.8h0M306.9 281h0M317.8 277.9h0M281.6 275.9h0M290.8 276h0M292.6 279h0M285 278.7h0M281 278.8h0M271.5 270.9h0M280.6 274.2h0M295.1 279.1h0M278.3 276.3h0M276.3 273.9h0M263.7 275.2h0M296.3 276.7h0M284.8 274.2h0M288.6 275.8h0M271.3 276.6h0M297.7 274.3h0M263 282h0M278.7 277.7h0M303.8 280.7h0M294.1 275.4h0M308.5 275.6h0M298.6 272.5h0M295.4 277.9h0M306.9 275.9h0M294.3 267.7h0M283.4 279.5h0M260.7 282.4h0M260.3 281.8h0M282 280h0M278.8 282.4h0M280.2 279.7h0M297.2 275.2h0M264.2 272.7h0M304.9 282.4h0M300.9 282.4h0M310 276.7h0M308.4 277.5h0M293.1 268.6h0M296.4 276h0M313 281.6h0M307 280.9h0M302.8 277.3h0M265.6 282.3h0M263.8 281.4h0M261.5 281.9h0M262.1 282.2h0M278 282.1h0M278.1 281.4h0M276.6 273.7h0M301 279.6h0M287 275.9h0M289.9 277.5h0M279.3 281.4h0M286.9 282.4h0M300 277.5h0M276.6 276.2h0M264.4 279.9h0M269.5 276.1h0M260.5 281.6h0M260.7 281.8h0M285.7 277h0M306.6 276.2h0M291.9 271.2h0M308 275.2h0M261.2 278.5h0M276.8 276.1h0M308.6 277.1h0M272.9 278.8h0M292.7 278.9h0M320.5 281.6h0M278.4 281.5h0M313.4 280.6h0M312.1 282.3h0M291.4 279.6h0M263.4 272.4h0M294.6 279.1h0M268.7 274.2h0M278.8 281.1h0M295.3 280.4h0M264.1 279.3h0M302.1 278.4h0M267.9 278.8h0M298.4 282.4h0M303.6 278.6h0M283.9 275.1h0M296.1 281.3h0M293.1 280.1h0M261.2 276.7h0M316.9 282.4h0M267.2 282.4h0M322.1 282.4h0M267.9 271h0M295.1 277.8h0M305.5 280.1h0M273 279.8h0M291 282.4h0M265.3 281.3h0M277 281.5h0M301.4 279.4h0M292.9 267.9h0M264 271.7h0M273.2 281.7h0M285.6 272.5h0M262.1 276.7h0M289.1 281.6h0M294.3 281.5h0M296.4 280.4h0M305.6 274.2h0M292.9 281.3h0M301.4 281.7h0M335.1 282.4h0M307 278.3h0M267.4 279.8h0M271.9 280h0M275.9 277.4h0M293.4 280.5h0M287.4 281.1h0M268.5 280h0M317.3 278.1h0M280.6 271.5h0M313.8 271.4h0M283.8 282h0M287.3 278.7h0M280.5 282.4h0M282.6 276.3h0M303.3 278.9h0M272.5 275.3h0M300.8 281.2h0M286.2 270.2h0M300.3 271.6h0M270.5 279.8h0M268.6 280.1h0M261.1 275h0M260.5 273.7h0M263.6 282.4h0M291.1 280h0M267.9 275.6h0M284.3 271.7h0M274.3 275.6h0M309.9 279.3h0M260.3 280.5h0M288.5 278.2h0M295.3 279.2h0M278.7 275.5h0M262.7 277.4h0M260.3 282.4h0M283.5 277h0M289.2 273.5h0M276.3 282.4h0M272.8 278.2h0M264.4 276.6h0M270.2 276.3h0M319.7 278.8h0M314.7 278.5h0M273.2 281.5h0M303.1 282.4h0M270.9 279h0M306.8 275.5h0M299.4 282.2h0M307.2 275.6h0M290.8 282.1h0M274.8 281h0M302.7 275.9h0M261.5 275.8h0M293.9 281.7h0M262.5 280.8h0M263.5 276.1h0M303.5 278.9h0M300.7 281.5h0M312.5 282.4h0M292.6 277.6h0M266.3 277.4h0M271.8 280.3h0M289.9 280.1h0M304.5 278.2h0M287.1 279.7h0M298.1 277.5h0M268.3 269.6h0M284.7 281.9h0M270 281.9h0M297.1 278.6h0M264.5 276h0M281.4 281.5h0M309 280.8h0M282.1 282.3h0M318.6 272.9h0M270.2 282.4h0M270.5 276.9h0M285 282.4h0M303.3 279.4h0M281.3 282.4h0M293.7 279.3h0M274.3 278h0M297.9 278.2h0M270.1 282.2h0M313.6 277.5h0M294.4 280.6h0M267 279.7h0M265.9 279.4h0M273.1 279.7h0M330 276.5h0M326.6 275h0M297.8 281.5h0M275.4 281.1h0M287.2 281.5h0M286.4 278.1h0M286.9 281h0M305.2 277.3h0M282.3 279.1h0M283.9 278.1h0M274.1 281h0M261.9 269.1h0M275.5 275.3h0M302 277.8h0M300.5 281.7h0M260.7 282.4h0M297.6 281h0M274.4 276.3h0M303 280.6h0M303.6 282h0M269.7 278.1h0M264.8 276.5h0M275.6 282.4h0M286.7 275.4h0M301.1 279.4h0M273.7 272.9h0M277.3 281.1h0M260.8 278.2h0M274.9 277h0M282.6 280.7h0M303 270.2h0M278.1 279.5h0M278.7 273.4h0M293.1 276.4h0M312.2 282.1h0M262.3 275.8h0M320 265.4h0M280.8 282.2h0M295.4 279.7h0M288 277h0M315 272.5h0M301.6 274.9h0M272.6 280.8h0M302 280.6h0M345.8 278.5h0M281.7 279.2h0M274.3 279.1h0M265.3 277.7h0M294.7 274.8h0M271.7 276.9h0M262.2 277.2h0M291.4 278.2h0M310.6 278.8h0M307.8 280.1h0M284.7 277.8h0M301.9 273h0M287.6 282.1h0M303.9 279.2h0M260.4 282.4h0M283.2 282.4h0M285 281.6h0M278.7 282.1h0M311.3 282.4h0M329.9 280.4h0M263.2 280.9h0M262.9 280.7h0M261.3 274.1h0M309.6 280h0M279.5 274h0M282.8 278h0M270.5 280.4h0M306.5 276.9h0M313.4 280.6h0M264.1 276.5h0M267.4 281.3h0M294 279.6h0M270.3 279.6h0M283.6 274.6h0M296.6 280.7h0M312.6 279.6h0M285.3 280h0M279.4 276.1h0M280.1 281.2h0M281 275.3h0M283.7 280.1h0M297.1 274.1h0M300.8 278.9h0M296.8 277.1h0M279.1 277.7h0M289.1 282.4h0M274.3 281.2h0M298.7 278.9h0M271 273.9h0M266.5 276.5h0M286.8 273.6h0M272.6 282.4h0M268.2 276.6h0M293.6 282.4h0M268.2 282h0M281.9 274.3h0M262.9 280.7h0M290.3 281.6h0M291.6 279.3h0M313.5 278.1h0M265.3 277.3h0M305.2 272.8h0M260.1 274.4h0M285.8 278.3h0M291.2 272.1h0M274.6 279h0M328.2 282.4h0M309.3 278h0M271.3 276.8h0M282.4 276.6h0M321.4 280h0M280 280.5h0M302.6 277.8h0M280.6 280.8h0M294.6 280.5h0M270.2 276h0M279.1 281.7h0M283.2 282.2h0M283.7 278.2h0M351.2 281.7h0M300.5 272.7h0M302.4 279.6h0M305.5 277.3h0M282.9 279.1h0M285.2 277.5h0M269.7 275.4h0M261.7 280h0M279.2 281.3h0M295.2 278.1h0M265.6 282.4h0M321.4 278.4h0M263.6 270.4h0M263.4 272.6h0M278.7 272.7h0M281.6 282.4h0M278.4 281.4h0M312.7 277.3h0M286.6 280.3h0M260.2 282.1h0M296.4 282.3h0M298.4 277.8h0M300 280.8h0M302 281.4h0M297.5 276.9h0M263.4 275h0M273.9 281.9h0M267.9 282.4h0M297.4 277.2h0M274 278.3h0M272.4 271.2h0M303.8 273.5h0M262.4 282.4h0M273.4 282.4h0M309.1 277.6h0M300.9 274.4h0M263.4 274.9h0M322 279.6h0M260.1 266.1h0M296.9 276.8h0M301.6 278.2h0M323.8 277.4h0M261.7 282.2h0M284.4 279.7h0M286 275.6h0M288.1 274.8h0M260.4 274.6h0M268.5 275.1h0M280.9 278.3h0M267.5 281.4h0M263.4 279.6h0M308.6 282.4h0M296.4 279.6h0M283.2 278.6h0M320.6 280.1h0M264.9 280.4h0M274.2 280.3h0M301.9 277.7h0M266 275.6h0M293.7 281.7h0M273.4 278.9h0M307 273.9h0M292.5 277.7h0M301.3 281.9h0M290.3 281.6h0M314 274.8h0M315.8 279.1h0M276.2 281.2h0M275.8 282.4h0M266.2 278.8h0M288.5 278.6h0M296.2 277.1h0M271.1 280.6h0M303.7 281.4h0M290.5 280.6h0M274.2 281.8h0M298.9 274.1h0M265.1 277.7h0M264.5 275.4h0M296.4 271.6h0M297.2 276h0M269.2 279.3h0M298.2 278.2h0M292.5 267.7h0M266.3 279h0M306.5 282.4h0M302.4 277.4h0M261.6 274.6h0M325.6 281.7h0M293.4 282.4h0M305.7 281.2h0M300.1 274.4h0M286.3 277.2h0M304 282.3h0M276.6 276h0M279 281.6h0M295.1 275.1h0M302.1 281.6h0M303.3 276.9h0M278.5 281.6h0M269.3 282.1h0M293.9 278.8h0M262.5 281h0M272.8 281.7h0M297.6 276.2h0M295.4 280.4h0M261.1 276.6h0M290 272.5h0M270.1 277.3h0M292.2 281.9h0M275.7 281.5h0M333.2 282.4h0M287.5 275.5h0M296.8 271.2h0M310.6 279.3h0M260.2 278.6h0M282.2 278.4h0M287.3 275h0M278.8 279.4h0M301.9 278.6h0M299 277.3h0M304 278.9h0M282.4 278.4h0M282.2 280h0M263.6 275.9h0M275.4 278.4h0M285.3 281.2h0M285.9 282.4h0M322.6 280.1h0M306.2 280.8h0M260.1 278.8h0M302.8 282.3h0M278.5 279.4h0M307.3 275.6h0M283.6 274.2h0M278.9 276.1h0M303.1 274.3h0M281.2 281.1h0M274.3 272h0M297.3 280.9h0M271 278.1h0M296.3 277.1h0M312.3 268.2h0M286.5 282.4h0M277.4 281.3h0M280.3 278.2h0M311.6 279.8h0M313.2 280.2h0M284.8 276.6h0M280.8 280.7h0M270.3 280.5h0M285.1 275.7h0M275.2 282.4h0M280.6 273h0M260.1 277.6h0M311.7 280h0M273.5 273.7h0M274.7 281.2h0M300.9 281.5h0M267.9 273.1h0M299.7 279.1h0M305.8 280.7h0M300 272h0M286.8 279.6h0M302.7 282.4h0M284.5 270h0M305.6 271.3h0M274.8 281.4h0M292.2 281.5h0M304.3 278.3h0M301.6 279.5h0M294.1 280h0M289.4 281.5h0M289.6 278.5h0M276 278.4h0M263.7 280.9h0M300.4 278.6h0M260.3 276.5h0M305.1 282.2h0M285.6 281.8h0M273.5 276h0M305.8 276.7h0M302.6 281.2h0M272 282.4h0M286.8 282.1h0M315.3 273.1h0M260.1 281.1h0M298 278.4h0M274.8 278.4h0M261.4 281.8h0M293.9 276.8h0M262.4 281.7h0M285.4 277.1h0M350.4 282h0M270.8 277.3h0M290 275.9h0M272.4 282.4h0M270.1 276.4h0M268.5 280.3h0M311.7 277.5h0M285.6 278.9h0M278.1 276.8h0M275.2 282.2h0M278.7 277.6h0M291.8 278h0M305.3 276.4h0M310.2 281.5h0M285.1 279.1h0M302.8 274.3h0M287.8 272.9h0M294.6 279.9h0M281.6 281.2h0M282.1 282.4h0M286.6 282.4h0M287.8 279.7h0M261.2 279h0M303.5 279.1h0M281.3 281.9h0M271.8 271.8h0M301.5 274.5h0M286.1 276h0M291.1 278.1h0M298.1 276.2h0M287.8 278.7h0M284.9 276.5h0M294.6 278h0M294.6 277.7h0M273.1 282.4h0M273.9 279.4h0M268.5 281.8h0M317.3 282.3h0M264.3 278.5h0M305 277.1h0M278.2 282.2h0M297.8 276.6h0M288.9 277.8h0M305.7 278.4h0M282 281.1h0M260.1 281.2h0M263.1 277.4h0M299.4 281.7h0M320.6 276.1h0M299.8 282h0M288.9 275.5h0M280.2 276.7h0M308.2 278h0M289 278.9h0M294.2 280.1h0M273.7 279.2h0M307.8 281.8h0M267.7 282.4h0M294.8 280.2h0M268.3 281.9h0M302.9 274h0M299 280.6h0M302.2 279.3h0M289.2 273.4h0M303.8 278.2h0M325.6 278.4h0M270.3 275.4h0M281.6 281.6h0M297.6 280.5h0M271.2 278.5h0M296 273.4h0M296.4 279.6h0M265.8 275h0M307.1 273.4h0M306.9 279.3h0M279.6 282.2h0M263.3 281h0M293.8 279.6h0M291.6 278.2h0M291.9 281.2h0M300.8 276.6h0M296.9 270h0M281.9 271.4h0M325.2 282.4h0M260.1 279.8h0M275.3 274.6h0M293.9 281.9h0M308.4 281.9h0M285.4 278.8h0M293.5 270.4h0M265.2 278.1h0M280.7 282h0M301.7 280.9h0M306 271h0M312.2 274.5h0M295.8 282.3h0M302.2 280.9h0M321.5 278.1h0M279.6 272.4h0M285.4 277.4h0M300.6 277.7h0M271.4 281.9h0M279.6 280.5h0M305.3 278.9h0M316.1 276h0M279.1 281.7h0M294.4 282.1h0M294.6 276.6h0M301.4 282.4h0M324.6 278h0M286.5 282.4h0M281.3 281h0M281.3 281.2h0M277 282.1h0M310 278.9h0M313.5 272.7h0M328.9 281.8h0M289.8 278.7h0M272.7 280.9h0M285 281.1h0M277.9 276.7h0M297.1 277.1h0M289.7 281.4h0M319.5 275.9h0M297 282.4h0M266.2 281.9h0M305.5 282.4h0M272.6 282.4h0M288.5 275.4h0M273.8 280.9h0M301.9 280.8h0M260.1 278.2h0M294.3 282.3h0M317.3 281.6h0M307.7 274.2h0M287.8 282.1h0M263.5 271h0M279.6 276.7h0M276.1 281.9h0M290.5 279.6h0M319.9 277.5h0M300.9 278.4h0M283.7 276.9h0M294.2 280.8h0M265.8 281h0M299.6 277.7h0M304.6 279.4h0M316.2 279.4h0M306 278h0M282.4 280.7h0M303 282.4h0M296.4 278.9h0M302.3 278.3h0M287.6 274.8h0M270.3 280.1h0M299.5 273.7h0M280.5 280.1h0M298.2 282.1h0M268.3 277.7h0M309.8 276.3h0M301.2 272.6h0M265.7 281h0M288.7 282.4h0M280.2 281h0M308.6 278.8h0M268.9 273.2h0M304.1 281.5h0M277 270.8h0M286.3 275.6h0M283.8 279.9h0M277.7 275.1h0M301.7 278.9h0M304.5 274.6h0M264.3 282.4h0M305.6 282.3h0M270.5 276.3h0M271.5 276.9h0M304.9 280.5h0M294.3 281.2h0M287.3 280.4h0M291.2 275.5h0M309 273.2h0M270.8 282.1h0M263.9 275.2h0M304.7 279.2h0M306.4 280.4h0M271.7 279.4h0M292 271.9h0M296.5 280.3h0M268.6 280.7h0M311.7 282.2h0M305.8 279h0M305.6 278.4h0M293.2 273.7h0M263.7 277.8h0M293.5 276.8h0M287.8 279.1h0M295.3 282.3h0M295.9 279.1h0M304.8 281h0M263.7 281.4h0M310.8 282.1h0M269.6 280.4h0M290.3 282.4h0M292.3 277.5h0M336.6 282.4h0M313.5 272h0M301.5 281.4h0M304 281.8h0M282.9 282.4h0M278.5 282.1h0M285.1 281.3h0M312.7 281.1h0M290.6 281.7h0M299.9 282.4h0M273.3 267h0M266.2 278.3h0M290.1 281.3h0M315.2 274.2h0M314.5 275.1h0M262.3 274.8h0M260.1 277.3h0M286.5 282h0M287.8 282.1h0M323.4 275.8h0M294.6 280.7h0M269.3 281.3h0M273.2 269.6h0M271.5 275.9h0M296.6 280.4h0M281.1 281.5h0M304.1 278.9h0M274.7 277.3h0M303.8 271.2h0M267.1 279.5h0M275.6 275.3h0M278.7 281.8h0M269.4 279.1h0M293.4 281.3h0M287.9 277h0M286.8 272.9h0M301.9 279.5h0M280.5 274.3h0M274.2 279.1h0M270.7 278.8h0M275.6 275.2h0M270.1 281.7h0M281.8 279.3h0M284.9 278.4h0M279.8 280.2h0M281.3 280.7h0M296.8 271.9h0M266.4 275.5h0M277.2 282.2h0M287.5 276.3h0M272.5 273.2h0M299 277.5h0M290.8 280.8h0M313.6 270.1h0M266.1 275.7h0M304.4 272.9h0M300.4 280.9h0M303.6 281.3h0M301.4 272.7h0M291.5 279.1h0M292.3 274.6h0M293 277.4h0M316.2 277.5h0M303.7 279.5h0M263.2 273.5h0M278.6 273.9h0M270.2 279h0M281.9 279.3h0M287.8 280.6h0M307.3 277.8h0M276.1 276.1h0M260.3 276.5h0M302.9 282.4h0M314 282.4h0M303.5 279.8h0M279.3 282.2h0M299 280.6h0M328.9 280.4h0M285.9 282.3h0M293.9 280.9h0M275.1 278.7h0M290.3 272.3h0M262.6 279.8h0M262.5 280h0M281.9 281.7h0M273.9 282.4h0M268.8 281.3h0M292.5 281.1h0M272.8 278.4h0M302.8 273.6h0M280 281.4h0M309.5 281.6h0M303.3 277.3h0M302 272.9h0M294.4 280.6h0M265.2 281h0M283 282h0M264 278.1h0M299.6 282.4h0M285.2 282.3h0M309.2 274.8h0M264.6 277.2h0M278.2 281.3h0M306.5 282.4h0M288.2 275.2h0M301.8 280.5h0M293.9 269.9h0M286.7 277.8h0M323.6 272.3h0M268.5 281.2h0M301.2 281.6h0M301 272.1h0M289.6 269.3h0M288.8 281.3h0M265.3 282.4h0M293.2 270.8h0M330.2 281.1h0M267.7 276.1h0M296.7 282h0M266.4 282.2h0M300.7 282h0M280.6 282.2h0M275.3 276.5h0M261.3 277h0M294.9 275.8h0M264.5 276.7h0M260.2 277.1h0M298.9 282.4h0M292.4 281.9h0M267.4 276.2h0M315.3 279.1h0M333.5 279.2h0M296.8 280.8h0M287.4 281.1h0M306 279.5h0M291.2 280.8h0M266.3 281.3h0M269.6 279.9h0M293.5 271.3h0M289.4 280.4h0M287.5 275.1h0M299.3 271.5h0M295.5 282.1h0M289.3 282.4h0M295.7 281.7h0M279.8 278.1h0M306.7 270.7h0M263.5 282.4h0M293.3 281h0M287.6 282.4h0M270.9 274.8h0M283.5 280.3h0M308.9 278.6h0M297.1 277.2h0M267 275.5h0M269.5 275.5h0M300.5 277.8h0M308.1 275.8h0M278.4 277.3h0M301 282.4h0M284.2 279.6h0M271.1 276h0M266.8 280.7h0M261.9 276.6h0M277 282.4h0M293 276.6h0M275.5 281.9h0M295.9 277.8h0M286.2 281.4h0M275.4 280.8h0M300.3 281.4h0M308.4 280h0M318.2 267.4h0M266.9 268h0M261.2 281.5h0M285.2 281h0M288.3 273.3h0M320.6 278.4h0M289.3 281.8h0M285.4 281.7h0M301.3 281.8h0M308.3 275.9h0M279.4 280.1h0M301.4 280.9h0M275.7 275.1h0M315.8 277.5h0M294.2 279.9h0M294.6 278.1h0M266.3 278.4h0M281.1 279.9h0M281.3 275.7h0M302.3 272.2h0M297.1 282.4h0M324.8 279.9h0M264.1 279.1h0M281 279.1h0M303.9 274.9h0M280.2 271h0M266.5 277.9h0M305.9 277.6h0M275.6 277.7h0M311.2 281h0M262.7 277.2h0M305.7 281.5h0M300.3 281.5h0M265.1 280.3h0M277.8 281.5h0M297.4 278.5h0M300.4 278.8h0M269.2 279h0M277.1 281h0M290.7 278.9h0M300.1 280.6h0M334.7 281.8h0M296.6 274.8h0M260.3 272.1h0M289.4 281.6h0M285.2 281.8h0M288.5 275.9h0M278.6 277.5h0M262 279.3h0M286.8 278h0M293.2 281.9h0M294.9 279.7h0M271.7 282.2h0M261.5 280.3h0M270 278.2h0M261.4 278.5h0M266.6 278.3h0M304.4 280.4h0M299.4 274.2h0M307.4 282.4h0M298 277.6h0M277.5 282.4h0M280.2 280.7h0" stroke="#6e6e6e" stroke-width="1.15" stroke-linecap="square" fill="none"/>
<path d="M362.2 282.2h0M320.1 275.3h0M317.2 265.6h0M355.3 263.8h0M322.4 275.8h0M310.7 281.6h0M328.6 269.6h0M304.3 276.6h0M309.6 275.9h0M320.1 279.9h0M328.5 281.8h0M350.5 259.9h0M323.2 274.9h0M344.6 274.4h0M337.2 282.4h0M337.2 262.4h0M307.1 273.5h0M313.6 274.8h0M320.6 271.7h0M361.2 282.4h0M308.2 279.3h0M302 281.7h0M308.7 279.3h0M306.6 277.2h0M303.3 261.3h0M333.4 275.3h0M334.4 276.4h0M300.4 282.4h0M307.7 279.5h0M301.4 281.3h0M319.3 272.4h0M345.3 280.5h0M321.8 279.1h0M321.7 280.4h0M349.6 280.3h0M326.3 267.2h0M338.5 272h0M308.7 274.8h0M306.6 279h0M310.2 278.7h0M350.1 279.5h0M303.9 269.4h0M336.1 274.3h0M342.9 280.1h0M300.6 282.4h0M303.3 273.9h0M314.2 276.9h0M323.6 272.9h0M319 281.1h0M308.6 268.4h0M323.7 280.8h0M320.4 276.2h0M324.1 280.7h0M321 274.5h0M301.3 280.8h0M356.2 280.7h0M301.8 275.1h0M335.5 279.1h0M317.4 276.3h0M309.3 274.5h0M315.1 278.2h0M309.7 282.4h0M309.8 279.6h0M305.1 278.3h0M309 277.3h0M303.6 271.3h0M301.8 272.3h0M344 282.1h0M340.9 278.8h0M315.6 269.9h0M303.4 269.6h0M340.6 268.7h0M316 274.2h0M307.3 280h0M317 272.6h0M329.1 278.3h0M307.3 266.7h0M312.4 274.3h0M308 268.7h0M341.4 280.6h0M303.7 276.6h0M313.9 271.8h0M362 280.2h0M313.6 273.2h0M307 275.5h0M331 270.5h0M308.9 280.7h0M306.7 275.6h0M312.8 272.9h0M314.2 271.4h0M303.7 273.8h0M305.2 277.9h0M314.5 282.2h0M306.8 271.4h0M326.5 279.7h0M317.8 282h0M313.5 279.7h0M334.3 281.9h0M310.9 266.7h0M343.6 281.4h0M307.4 265.5h0M321 274.6h0M337.4 280.6h0M310.1 276.2h0M335.8 281.4h0M321.8 274.7h0M373.1 262.8h0M302.4 274.2h0M314 276.9h0M300.8 267.4h0M302.6 279.7h0M344.6 279.3h0M336.2 279.5h0M356.5 279.4h0M308.4 273.4h0M352.1 274.1h0M314.2 276.9h0M342.8 282.4h0M307.4 276.7h0M344.8 271.1h0M327.4 271.3h0M326.6 271.3h0M309.5 279.2h0M327.6 269.7h0M339 276.8h0M312.8 273.5h0M321.7 269.4h0M320.5 279.9h0M306.4 276.8h0M302.6 282.4h0M317.5 272.8h0M310.6 281h0M300.8 280.5h0M318.6 244h0M307.7 274.1h0M319.7 276.6h0M326.8 282h0M326.9 282h0M321.7 282.4h0M339.5 274h0M338 281.9h0M312.4 271.8h0M307.7 282.1h0M322.1 270.3h0M331.1 271.6h0M332.1 281.9h0M318.3 280.2h0M317.5 272.4h0M315.8 279.7h0M310 281.2h0M349.1 274.9h0M324.5 282.4h0M302.4 279.7h0M359.3 272.8h0M303.1 282.3h0M305.1 265.2h0M318.7 266.8h0M306 274.8h0M332.9 282.4h0M311.4 278.1h0M347.7 265.5h0M311.9 268.6h0M300.9 276.8h0M309.4 277.3h0M315.5 282.4h0M313 280.7h0M317.9 273h0M306.7 276h0M308 271.2h0M323.3 278.9h0M338.2 272.8h0M319.5 265.4h0M302.6 277.8h0M306.4 281.7h0M313.7 279.6h0M324 275.2h0M338.3 282.4h0M302.6 275.1h0M301.8 262.1h0M311.5 273.6h0M341.7 274.5h0M340.5 277.1h0M324.2 282.4h0M306.1 273.4h0M301.1 278.3h0M304 275.3h0M308 281.8h0M329.1 275.3h0M326.2 282.1h0M308.3 273.6h0M303.6 272.9h0M373.2 282.4h0M307 278.4h0M343.8 260.1h0M306.3 280.9h0M326.7 267.7h0M304.5 282h0M364.5 279.9h0M321 265.9h0M304.3 266.8h0M306.5 281.4h0M306.9 276.3h0M321.2 272.4h0M314.8 281.2h0M302.8 276.1h0M323.9 279.9h0M301.1 272.4h0M319.2 274.6h0M363.6 276.9h0M325.3 276h0M343.3 275.2h0M309.1 277.8h0M301.7 282.4h0M317.3 282h0M325.2 269.4h0M316.6 282h0M303.8 268.2h0M301 271.6h0M325.4 280.9h0M320.3 282h0M329.1 269h0M323.3 275.3h0M323.4 273.2h0M306.6 279.4h0M314.4 279.1h0M301.5 275.7h0M302.1 277.9h0M316.1 281.4h0M320.3 268.4h0M337.3 273.5h0M311.4 279.4h0M357.6 277.8h0M326.3 279.6h0M313.6 281.3h0M303.4 280.6h0M316.7 278.7h0M325.6 263.6h0M301.3 268.5h0M327.1 281.3h0M344.1 275.3h0M300.7 276h0M320 271.7h0M303.5 281.1h0M336.8 276.8h0M308.8 282.4h0M358.5 271.9h0M342.4 282.4h0M317.5 267.5h0M317.9 264.9h0M303.7 273h0M308 280.7h0M313.4 277.1h0M313.7 278h0M320.6 281.6h0M315.8 265.8h0M301 277.5h0M301.8 261.6h0M323.3 276.9h0M326.5 275.2h0M332.8 282.4h0M307.4 252.6h0M317.4 277.2h0M313.3 281.7h0M303.8 280.3h0M309.7 282.2h0M327.4 267.8h0M319.1 271h0M304.2 273.7h0M336.5 272.1h0M324 280.4h0M303.7 281.6h0M311.3 277.6h0M311.3 275.5h0M316.5 274.9h0M300.5 280.1h0M353.2 267.1h0M362.6 280.3h0M304.1 281.2h0M374.6 272.4h0M302.2 275.6h0M338.2 272h0M330.6 277.9h0M304.2 276.6h0M301.7 280.6h0M351.7 282.4h0M308 277.1h0M326.1 281.4h0M313.9 277.7h0M325.1 282.3h0M334.4 267.7h0M304.2 275.3h0M325.1 280.1h0M345.8 273.6h0M308.8 266.6h0M341.6 273.1h0M331 281.5h0M300.4 274.1h0M328.8 267.6h0M328.5 280h0M339.3 274.7h0M313.8 276.9h0M301.1 274.5h0M340 273.6h0M307.6 274.6h0M320.3 282.4h0M323.4 269.9h0M316.2 278.4h0M306.8 279.7h0M305.1 280.7h0M357.2 280.3h0M315.3 273.7h0M315.1 282.4h0M308.9 274.2h0M302.8 282.4h0M324.3 276.3h0M330.5 278.6h0M304.1 281.4h0M332.5 274.9h0M302.5 266.2h0M343.2 279.7h0M302.8 277.9h0M306.5 279.8h0M309 272.8h0M300.9 269.5h0M356 279.8h0M311.5 278.9h0M314.5 274.2h0M330.3 274.4h0M313.1 281.7h0M314.2 267.2h0M313.1 272.9h0M329.4 281.7h0M300.4 272.7h0M310.4 279.7h0M311.1 276.5h0M313.1 271.3h0M311.5 270.8h0M330.2 277.8h0M344 277.9h0M305.6 269.7h0M303 276.1h0M316.7 279.1h0M317.6 278.5h0M314.4 269h0M304.2 278.1h0M317.8 278.5h0M323.1 274.9h0M307.1 277.2h0M308.7 281.6h0M326.3 280.2h0M302.9 272.2h0M341.8 282.4h0M302.9 279.5h0M301.5 282h0M303.5 277.7h0M336.7 272.5h0M366.2 276.1h0M370.4 272.3h0M316.1 275.6h0M331 274.5h0M301.6 281.5h0M323.1 280.4h0M301.3 278.6h0M301.1 280.1h0M345.9 281.4h0M306.3 276.7h0M346.3 271.8h0M314.6 282.4h0M301.5 275h0M313.5 282.4h0M312.5 273.2h0M306.4 266.4h0M373.4 273h0M318.9 267h0M319.3 258.1h0M302.8 265.5h0M319.5 282.4h0M348.4 266.4h0M328.2 280.5h0M322.3 281.5h0M303.3 282.4h0M301.5 276.7h0M347.2 281.5h0M304.1 282.2h0M313.1 281h0M305.5 281.8h0M301.3 281.8h0M310.2 280.6h0M315.4 282.4h0M347.6 280.1h0M313.9 279.1h0M310.1 271.8h0M321.3 281.8h0M309.1 274.2h0M327.1 261.2h0M342.3 274.6h0M321.5 279.7h0M318 278.1h0M306.5 277.5h0M304 274.7h0M317.2 282.4h0M325.9 276.2h0M318.8 255.3h0M302.7 275.3h0M325.3 282.4h0M308 281.3h0M338.1 278.9h0M356.1 274.9h0M305.5 276.1h0M331.7 282.4h0M305.3 267.1h0M304.2 281.5h0M304.9 270.7h0M305.3 281h0M332.8 280h0M300.9 271.4h0M346.1 277.5h0M303 278h0M300.7 266.4h0M343.1 277.5h0M325.3 276.8h0M300.8 279.1h0M336.1 272.2h0M306.9 267.6h0M318.4 277.2h0M312.6 275.4h0M302.6 276.3h0M312.4 275.2h0M306.1 277.1h0M314.1 273.1h0M307.4 280.4h0M322.8 272.1h0M306 272.8h0M330.1 270.3h0M304.7 280.3h0M310.9 272.6h0M314.3 274.2h0M306 279.1h0M341.9 266.4h0M324 281.1h0M305.6 276.5h0M303.2 281.4h0M301.4 276.5h0M308.9 277.8h0M333.6 277h0M322.8 280.8h0M333.3 267.1h0M308.4 271h0M330.2 275.7h0M324.9 274h0M306.8 277.7h0M301.8 276h0M317.4 281.3h0M301.1 277.5h0M320.5 274.6h0M315.1 273.4h0M304.6 279.3h0M312.6 279.5h0M330 279.2h0M335.4 280.1h0M306.5 275.1h0M317.5 280.7h0M366.1 276.9h0M323.6 276.9h0M310 262.2h0M304.4 280.3h0M335.1 273h0M303.6 262.4h0M319.3 281.8h0M336.3 280h0M310 276.1h0M301.5 259h0M314.2 272.7h0M317.4 274.3h0M301.8 279.7h0M354.7 266.6h0M309.2 279.5h0M306.5 278.4h0M321 279.1h0M328 280.3h0M304.5 282.4h0M306.6 276.5h0M319.7 279.6h0M352.6 271.3h0M370.9 271.1h0M305.6 272h0M316.7 281h0M305.9 280.4h0M311.3 268.9h0M345.4 281.7h0M316.5 280.6h0M374.9 278.6h0M324.4 277.2h0M329.3 276.9h0M344 262.1h0M322.2 272.4h0M336.4 282.4h0M315 274.4h0M300.8 258.9h0M326.5 278.7h0" stroke="#7a7a7a" stroke-width="1.0" stroke-linecap="square" fill="none"/>
<path d="M288.7 266.3h0M287.5 273.6h0M282.9 273h0M279.2 269.7h0M265.2 265h0M299.4 266.5h0M281.8 261.9h0M271.1 274.3h0M282.9 275.4h0M278.7 275.7h0M289.1 264.1h0M270.7 275.8h0M262.3 267.1h0M293.8 276h0M266.7 273.6h0M288.1 274h0M265.6 261.7h0M285.4 262h0M286.9 261.7h0M265.5 276.6h0M284.1 270.5h0M287.2 262.3h0M269.6 275.1h0M269.2 271.2h0M267.2 275.5h0M295.7 261.6h0M276.5 273.1h0M288.6 272.6h0M289.2 271.6h0M287.3 263.5h0M276.9 274.6h0M291.3 265.6h0M275.7 270.5h0M288.2 268.6h0M261.3 263.3h0M270.8 267.8h0M292.8 274.8h0M269.1 261.9h0M266.5 275.5h0M281.6 266.3h0M282.4 265.4h0M279.7 275.5h0M285.4 269.7h0M282.6 274.2h0M267.3 262.8h0M289.3 264.4h0M290.4 265.7h0M295.4 276.2h0M270.4 272.4h0M290.3 261.8h0M293.2 275h0M285.3 264.5h0M284.8 269.3h0M275.4 263.8h0M275.8 265.9h0M274.8 265h0M271.5 271.3h0M285.7 268.8h0M278.9 271.5h0M278.8 269.4h0M268.9 264h0M270 269.2h0M269 266.3h0M264.1 270.4h0M269.8 264.5h0M283.9 275.9h0M284.7 273.8h0M271.6 274h0M266.2 266.8h0M263.2 266h0M294 265.6h0M283.8 268.9h0M274.5 272.5h0M282.6 271.3h0M279 273.2h0M289.8 272.1h0M297.2 276.3h0M296.2 262.7h0M271.9 266h0M285.4 269.4h0M291.2 264.4h0M282.6 269.6h0M267.6 265.6h0M275.3 268.4h0M283 268.6h0M266.8 267.6h0M277 271.4h0M263.6 266.6h0M276.2 272.1h0M300.1 265.2h0M271.7 267.1h0M276.1 264.7h0M271.3 268.2h0M268.6 267.8h0M271 275.7h0M286.6 272h0M289.1 276.2h0M262.9 263.1h0M260.1 266.8h0M275.5 275.6h0M282 261.9h0M271.5 263h0M299.5 270.8h0M262.3 269.6h0M294 270.9h0M300.1 272.4h0M261.4 272.2h0M267.9 272.3h0M260.2 265.4h0M294.7 263.3h0M263.7 264h0M273 267.9h0M293.4 263.4h0M270.6 267.3h0M270 264.5h0M291 262.3h0M267.1 275.2h0M291.2 265.2h0M281.8 268h0M273.3 263.5h0M295.2 264.7h0M284.9 264.3h0M286.1 267.1h0M275.2 273.7h0M300.1 267h0M264.1 263.2h0M264.3 270.5h0M299.8 276.5h0M279.5 262.2h0M283.7 265.8h0M289 265.7h0M286.6 269.4h0M278.8 263.8h0M263.3 276.1h0M288 273.2h0M293.8 268.7h0M293.1 273.7h0M295.8 268.7h0M287.6 274.7h0M265.5 272h0M276.8 274.7h0M295.3 267.2h0M293.6 272.5h0M261 262.9h0M266.3 272.1h0M295.6 274.3h0M294.8 262.8h0M284.2 276.5h0M294.9 264h0M263.2 265.2h0M285.8 264.9h0M286.1 267.6h0M280.7 272.2h0M288 264.5h0M294 262.2h0M261.5 273.3h0M269.7 273.4h0M279.6 263.3h0M265.2 275.6h0M275.8 275.9h0M283.1 268.3h0M299.7 270.5h0M262.2 274.4h0M260.1 275.9h0M274.5 272.9h0M286 275.8h0M283.3 269.6h0M278.5 261.5h0M273 272h0M297.7 262h0M282.2 268.4h0M278 264.3h0M291.5 267.1h0M295.2 274.5h0M287.8 268.4h0M285.4 273.8h0M293.4 264.9h0M284.9 274.4h0M278.6 261.5h0M279.6 269.3h0M283.9 262.5h0M294.2 262.3h0M294 273.1h0M298.9 272.5h0M292.6 269.3h0M284.9 276.5h0M285.4 271.9h0M260.5 273.6h0M269.3 273.5h0M284 270.9h0M265.7 264.8h0M278.3 269.1h0M267.9 263.1h0M297.3 272.5h0M279 265.6h0M285.2 269.4h0M285.3 265h0M298.6 267.9h0M283.9 266.9h0M293.7 273.1h0M262.5 266.1h0M289.6 271.9h0M299.2 272.2h0M292.8 264h0M297.1 276.2h0M292.2 265h0M275.1 261.7h0M299.5 273.3h0M299.7 265.6h0M266.8 265.3h0M273.3 269.5h0M273.6 266.7h0M272.1 263.1h0M263.7 270.9h0M277.8 268.8h0M277.8 270.9h0M294.1 270.7h0M283.1 263.5h0M266.6 268.9h0M284.7 271.3h0" stroke="#7a7a7a" stroke-width="1.0" stroke-linecap="square" fill="none"/>
<path d="M288.4 258.5h0M277.8 244.8h0M289.3 250h0M274.6 249.3h0M305.6 261.1h0M301.6 246.8h0M309.3 257.2h0M279.6 256.6h0M291.9 260.7h0M287.4 255.7h0M292.2 261.4h0M300.4 255.6h0M284 260.8h0M298.4 233.3h0M283.9 264.9h0M282.3 261.3h0M297.8 225.4h0M271.6 244.1h0M298.4 249.2h0M272.8 235.3h0M314.9 253.8h0M285.8 242.4h0M283.3 248.5h0M282.1 255.9h0M267.4 252.5h0M287.9 244.8h0M279.8 256.6h0M287.5 261.2h0M307.7 253.2h0M286.2 262.1h0M293.6 239.4h0M292 229.2h0M288.8 240.7h0M289.2 262.5h0M285.6 257.7h0M328.6 256.3h0M335.7 225h0M281.7 239.9h0M271.6 243.9h0M303.7 255.7h0M300.9 247.4h0M298.4 249.8h0M310 247.6h0M285 243.4h0M291.1 257.8h0M297.5 237.3h0M298.9 243.3h0M304.3 257h0M300.8 253.8h0M284.5 261.7h0M269.2 259.6h0M282.6 259.9h0M310.4 259.6h0M298.7 239.8h0M284.3 254.7h0M282.1 254.7h0M305.6 252.2h0M311.6 254h0M276.1 241.9h0M290.7 243.8h0M276.4 243.4h0M274.5 242.1h0M317.6 262.9h0M293.8 258.9h0M311 261.2h0M292.3 243.8h0M288.9 259.1h0M338.2 245.2h0M314.7 251.1h0M307.6 242.5h0M297.1 256h0M293.5 258h0M300.2 225.1h0M288.6 252.8h0M293.5 246.2h0M305.3 265.4h0M291.3 250.1h0M278.2 251.2h0M296.2 234.2h0M265.5 235.3h0M285.4 235.6h0M308.8 252.7h0M330.1 258.3h0M311.3 245.6h0M290.5 261.1h0M307.6 233.6h0M317.4 256.1h0M273.1 247.6h0M288.3 254.4h0M298.6 260.6h0M313.7 251.5h0M267.8 257.1h0M298.9 244.7h0M282.1 246.7h0M295 244.2h0M307.5 244.4h0M291.5 258.6h0M280.9 227.8h0M309.4 267.5h0M271.1 259.2h0M285.8 245.8h0M296.9 258.9h0M282.5 256h0M320.1 255.1h0M268.3 262.6h0M307 233.4h0M299.8 257.6h0M264 245.5h0M312.6 241.7h0M330.3 261.5h0M321.2 263.1h0M313.1 265.4h0M295.3 258.7h0M308.5 251.8h0M276.7 254h0M313.2 260.7h0M306.1 251.1h0M284.9 236.9h0M299.8 257.5h0M287.9 256.1h0M278.9 232.9h0M322.7 260.9h0M299.5 254.7h0M284.4 255.1h0M276.7 245.9h0M272.2 244.6h0M287.6 257h0M328.7 252.7h0M303.3 248.6h0M301.6 235.4h0M310.7 258.2h0M285.5 259.9h0M315.1 257.6h0M293.7 255.7h0M291.3 249.9h0M285.8 252.2h0M304.9 241.1h0M292.2 241h0M332.6 256.7h0M279.9 257.5h0M310.9 228.9h0M310.3 245.6h0M287.4 256.5h0M295.6 251h0M286 251.7h0M295.6 229h0M265.2 252.9h0M282.2 265.4h0M295.2 253.5h0M293.2 256.4h0M327.9 256.8h0M277.2 257.9h0M305.1 250.5h0M314.9 242.2h0M305.5 250.3h0M293.7 258.8h0M285.3 256.6h0M317.4 262.1h0M278.2 268h0M269.6 261.1h0M293 255.5h0M308.8 265.7h0M310.9 244.5h0M305.8 233.7h0M316.8 254.8h0M279.4 264.4h0M305.7 230.2h0M308.1 251.5h0M270.4 249.3h0M287.3 261.9h0M317.1 240h0M284.2 265.2h0M291.9 235.8h0M296.3 227.1h0M286.2 263.7h0M285.1 262.5h0M310.7 259.1h0M298.4 255.6h0M310.9 235.8h0M285.9 259.6h0M281.1 239.1h0M315.1 242h0M287.5 232.2h0M303.2 255.9h0M308.3 259.2h0M337 236.5h0M318.9 234.4h0M335.6 249.1h0M279.2 254h0M291.8 254.1h0M304.8 234.4h0M312.2 257.2h0M291.3 254.2h0M315.9 256.4h0M289.7 234.8h0M311.9 242.8h0M295.9 264.7h0M305.5 257.8h0M334 254.8h0M303.1 244.7h0M286.8 261.2h0M293 243.8h0M275 240h0M297.7 246.6h0M327.5 228.9h0M294.9 252.8h0M322.9 241h0M315.3 248.8h0M295.1 249.8h0M285.1 249.5h0M298.8 266.6h0M297.9 252.2h0M269.6 237.7h0M271.9 253.6h0M274.8 257.8h0M305.5 255h0M290.7 242.7h0M295.5 266.1h0M306.7 253.8h0M286.5 261.9h0M297.7 254.8h0M288.3 241.6h0M284.6 240.7h0M280.8 246.3h0M302.6 260.7h0M284.9 259.8h0M305 267.4h0M315 248.4h0M306.5 244.5h0M288.4 257.2h0M264.9 252.9h0M272.6 264.8h0M292.2 245.5h0M294.5 255.4h0M298.6 251.7h0M300.6 243.6h0M295.6 245.9h0M316.3 232.5h0M311.6 264.4h0M271.6 242h0M323.9 242.5h0M291.5 248.1h0M292.5 257.4h0M300.4 226h0M303.2 242.7h0M294.9 253.8h0M291.4 235.3h0M300.6 250h0M305.1 236.9h0M283.2 265.6h0M279.5 255.8h0M305.5 249.3h0M322.1 236.5h0M294.3 253.1h0M288.1 256.7h0M301.6 259.8h0M293.6 249.4h0M304.3 235h0M283.5 233.8h0M310.4 257.1h0M305.9 255.5h0M314.9 240.3h0M298.9 238h0M293.5 235.6h0M311 259.9h0M297.2 263h0M288.7 240.5h0M292.6 266.6h0M292.8 244.2h0M303.7 254.6h0M331 246.2h0M310.3 262.8h0M310.9 261.5h0M288.6 256.9h0M302.2 245.5h0M318.5 240.1h0M283 260.2h0M278.2 256.6h0M281.2 260.2h0M281.5 248.9h0M274.1 249.4h0M319.4 249h0M282.9 250.8h0M282 253.7h0M327.3 246.4h0M314.1 228.8h0M293.8 260.3h0M314.3 259.6h0M298.5 257.3h0M287.5 259.1h0M290.4 267.9h0M322.8 244.3h0M283.3 254.9h0M304.1 247.2h0M294.4 258.9h0M293.2 262.3h0M317 248h0M305.5 264.9h0M314.3 235.6h0M294.7 225.6h0M302.7 255.2h0M290.7 254.4h0M305.2 256.4h0M293.2 258.9h0M309.4 242.9h0M298.4 248.8h0M268.5 239.4h0M296.9 236.1h0M289.5 251h0M262.2 257.6h0M284.8 268h0M283 252.7h0M275.7 243.1h0M282.5 266.1h0M291.7 263.8h0M313.1 249.5h0M294.7 238.4h0M277.2 233.3h0M298.3 235.5h0M301.3 241.1h0M277.5 261h0M298.6 229.7h0M278.7 268.6h0M267.5 256.5h0M304.3 254.6h0M307.1 254.5h0M268.7 255.4h0M293.2 260.5h0M287.7 252.7h0M292.4 249.9h0M297.9 235.3h0M282.1 264.8h0M321.8 255h0M273.9 241h0M290.1 245.2h0M328.1 247.6h0M282.9 237.8h0M326.6 253.7h0M292.3 258.4h0M292 243.2h0M285.9 246.9h0M303.8 248.5h0M290 236.1h0M281.8 258.4h0M309.1 261.2h0M277.2 243.2h0M294.8 259.9h0M299.5 253h0M316 253.2h0M272.8 252.2h0M309.6 262.3h0M305.3 244.5h0M312.7 236.6h0M297.1 241.8h0M285.2 258h0M280.1 264.2h0M306.3 245.4h0M328 265.2h0M307.7 252h0M274.7 257.3h0M296.4 252.2h0M295.5 251.2h0M291.1 253h0M288.8 245.7h0M295.5 264.9h0M277.7 255.8h0M287.6 241.8h0M321.8 263.5h0M280.4 257h0M309 251.9h0M318.5 256.2h0M284.5 243.9h0M299.3 249.5h0M309.9 253.3h0M306.8 257.7h0M311.3 232.5h0M305.9 233.2h0M331.4 256.2h0M301.5 265.9h0M332.4 258.1h0M304.4 262.2h0M331.7 257.3h0M284.3 249.7h0M283.9 229.9h0M308.5 262.5h0M289.2 250.9h0M272.7 230h0M292.4 252.7h0M302 250.7h0M286.6 249.5h0M306.3 267.4h0M319.3 260h0M282.2 262.3h0M294.2 249.2h0M296.8 243.1h0M293.3 258.9h0M287.4 259.9h0M311.5 240.9h0M295.9 262.7h0M317.2 258.9h0M294.1 259h0M328.5 239h0M294.7 243.4h0M288.3 238.5h0M282.6 248h0M298.1 256.7h0M276.6 263.4h0M279.4 237.4h0M296.1 258h0M318.3 263.1h0M291 265.6h0M287.6 247h0M280.3 257.4h0M287.9 239.2h0M283.5 254.3h0M298.9 244.2h0M293.1 243h0M305.9 232.9h0M301 251.4h0M283 250.7h0M293.8 244.2h0M313 257.5h0M317.7 255h0M267.4 252.2h0M296.5 250h0M310.1 265.1h0M336.6 268.8h0M290.9 250.5h0M295.1 253.9h0M273.7 227h0M324.3 233.6h0M302.8 246.1h0M307.6 256.4h0M303.4 233.3h0M312.5 240.4h0M280.7 233.9h0M282.8 245.2h0M327.8 252.5h0M321.1 264.6h0M275.3 249.5h0M275.4 260.3h0M288.6 240h0M288.5 263.7h0M283.6 246.7h0M275.6 235.3h0M305.5 260h0M274.6 262.5h0M295.5 261h0M273.4 258.4h0M318 259.4h0M315.1 242.2h0M296.9 248.6h0M294.4 261.8h0M294.2 250.1h0M275.1 260.3h0M285.4 229.8h0M318.4 250.3h0M290.8 250.2h0M296.9 259.3h0M281.6 258.2h0M295.4 255.8h0M282.9 255h0M310.7 243h0M315.8 262.5h0M282.7 251.8h0M322.2 234.7h0M291.5 250.8h0M308 239.5h0M340 251.5h0M301.6 261.4h0M297.2 225.9h0M331.1 251.3h0M290.1 255.5h0M295.7 244.5h0M271 232h0M292.9 257.8h0M289.6 257.4h0M307.5 241.3h0M296.1 258.4h0M267.5 259.8h0M321.1 240h0M316 257.7h0M273.1 265.5h0M291.3 258.6h0M301.1 237.1h0M283.1 241.4h0M283.5 251.3h0M297.5 238h0M328.9 249.1h0M303.6 245.2h0M289.1 249.1h0M311.1 258h0M289.8 239.3h0M291.7 259.6h0M299.6 249.4h0M305.6 260.1h0M306.1 234.8h0M306.5 262.9h0M290.8 239h0M301.7 224.6h0M288.7 239h0M311.5 256.9h0M298.2 249.6h0M307 248.6h0M300.4 259.5h0M304.1 257.1h0M308.6 256.5h0M276.5 242.4h0M283.8 267.1h0M283.2 249.6h0M322.5 259.8h0M297.1 257.7h0M303 254h0M288.6 259.4h0M337.1 253.2h0M286.8 235.8h0M332.9 241.9h0M261.3 243.8h0M294.4 245.7h0M321 247.9h0M303 245.5h0M273.6 256.8h0M267.4 249.4h0M287.5 258.6h0M299.9 254.3h0M303.2 264.3h0M266.9 235.8h0M293.7 248.4h0M297.8 260.1h0M314.5 257.8h0M263.8 256.9h0M289.9 250.9h0M284.1 240.8h0M287.8 254.8h0M287.3 255.7h0M290.3 248.9h0M295.2 265.4h0M285.9 249.2h0M311.5 228.8h0M290 259.2h0M324.4 260.8h0M264.9 258.2h0M275.8 264.8h0M293.3 260.6h0M290.9 228.8h0M294.1 255.1h0M284 241.2h0M301.4 253.5h0M288.1 231.2h0M303.4 263.4h0M285 227.6h0M279.6 261.9h0M306.6 231.6h0M289.6 259h0M336.7 250.8h0M315.6 236.4h0M290.4 242h0M289.1 261.3h0M317.5 243h0M283.5 255.2h0M317.2 255.2h0M283.6 255.2h0M291 247.1h0M285.9 257.3h0M305.7 251h0M304.1 248.6h0M326.1 264.5h0M277.3 229.7h0M302.7 256.5h0M313.8 255.1h0M289.9 253.7h0M305.1 242.5h0M266.4 246.6h0M296.3 244.1h0M281.2 236.8h0M279 228.4h0M285.8 257.4h0M275.5 243.9h0M310.2 251.2h0M300 251.6h0M274.3 247.1h0M308.5 268.6h0M294.4 265.8h0M305.2 257.9h0M321.1 256h0M308.1 257.9h0M323.3 260.6h0M314.7 241.1h0M327.5 260.6h0M291.7 228.5h0M325 243.2h0M269.9 233.1h0M290.2 227.7h0M305.4 267.6h0M293.5 257.6h0M307.6 250.2h0M301 247.1h0M280.1 264.8h0M280.5 255.5h0M279.8 249.8h0M319.4 258.4h0M288.2 238.2h0M305 257.5h0M299.2 267.5h0M316.5 235.5h0M296.5 260h0M302.1 261.5h0M300 252.1h0M304 259.3h0M280.5 260.9h0M284 244.8h0M289.1 250.7h0M286.9 235.3h0M298.4 259.6h0M297.9 265.6h0M296.4 242.2h0M285.3 262.6h0M293 249.2h0M281.8 257h0M291.1 253h0M299.5 247.5h0M331.2 256h0M293.2 243h0M267.7 257.4h0M309.8 244.9h0M324.3 247.6h0M306.3 262.5h0M317.9 230.6h0M282.3 243.2h0M309.7 262.4h0M288 256.5h0M305.4 261.4h0M287.3 256.9h0M294.5 250.1h0M296.1 249.4h0M280.6 250h0M327.1 240.3h0M289.1 252h0M280.7 248h0M277 258.4h0M320.2 243.8h0M308.4 255.6h0M297.1 253.5h0M296.7 250.4h0M294.9 261.6h0M292.4 256h0M313.2 258h0M305 256.3h0M317.1 258.6h0M336.4 244.3h0M288.9 249.1h0M302.4 260.3h0M288.3 243.7h0M277 252.4h0M293.1 252.7h0M287 260.3h0M303.4 260.3h0M297.1 258.1h0M328.1 229.9h0M307.4 231.3h0M281.8 230.4h0M282 238.1h0M306 245.5h0M306.1 243.2h0M285.7 244.2h0M291.6 248h0M286.2 260.3h0M265.4 247.9h0M286 241h0M300.4 249h0M317.8 224.7h0M307 260.9h0M312.6 252.6h0M312 265.1h0M297 254.8h0M265.4 249.4h0M293.4 247.2h0M296.7 263.1h0M308.5 258.6h0M287.7 247.5h0M306.3 232h0M286.6 257.8h0M305.3 249.4h0M285 256.7h0M291.1 263.9h0M303.9 234.4h0M311.2 254.2h0M296.6 246.9h0M287.3 234.4h0M331 259.6h0M301.9 228.8h0M293.1 261.1h0M295.7 245.1h0M271.2 267.8h0M278.1 251h0M299.8 265.2h0M277.4 262h0M291.4 256.6h0M306 247.2h0M311.2 261.8h0M311.4 239.3h0M308.6 263.7h0M282.9 249.4h0M276.8 240.3h0M311.9 258.4h0M299.9 254.7h0M308.7 259.7h0M299.4 251.6h0M276.4 233.6h0M290.6 259.3h0M317.1 235.1h0M294.3 257.6h0M287.1 249.7h0M308.4 253.2h0M281.2 249.8h0M291.5 258.2h0M270.2 260.9h0M287 233.8h0M339.6 259.2h0M325.6 240.5h0M300.5 236.7h0M308.6 246h0M270 256.9h0M284.5 258.8h0M297.1 256.8h0M294.4 251.4h0M322.5 244.9h0M287.6 266.6h0M331.6 261.1h0M285.6 235.1h0M298.7 243.6h0M301.2 242.2h0M310.6 262.7h0M307.3 260.8h0M323.1 252.6h0M321.4 258.3h0M303.5 242h0M308.8 252.3h0M263.8 256.2h0M280.9 253.8h0M287.8 252.1h0M310.3 259.3h0M316.2 252.8h0M270.8 230.8h0M308.9 236.1h0M261.9 231.9h0M317.9 232.3h0M311.4 257.7h0M286.9 242.9h0M312.7 250.4h0M277.3 248.1h0M290.7 255.7h0M269.4 248.6h0M280 255.7h0M296 241.1h0M308.7 245.3h0M304.9 237.4h0M280.2 228.8h0M268.8 253.4h0M295.1 257.5h0M336 233.6h0M325.3 255.3h0M269.5 249.8h0M303.3 248.7h0M303.8 261.9h0M278.5 245.8h0M300.6 256.1h0M306 246.9h0M308 238.9h0M308.6 231.7h0M294.2 235.9h0M283.6 251.8h0M325.6 258.7h0M313.7 258.4h0M299.9 255.9h0M305.9 248.4h0M293.6 246.2h0M283.3 229.7h0M300.2 234.7h0M293.9 233.9h0M337.9 234.5h0M293.5 238.9h0M289.5 250.2h0M298.2 248.6h0M315.4 257.4h0M290.5 252.8h0M286.2 258.6h0M300.5 256.1h0M321.7 254h0M286.4 248.7h0M300 257.6h0M328.2 255.1h0M262.9 240.4h0M281.6 256.1h0M287.4 248.6h0M272.3 261.6h0M280.7 256.4h0M287.9 256.3h0M269 255.8h0M271 265.3h0M280.3 244.6h0M305.6 240.7h0M284.3 244h0M305.9 230.4h0M286.9 247.4h0M308.9 250.6h0M295.7 256.4h0M317 257.7h0M295.1 254h0M321.3 260h0M272.8 256.2h0M300.4 231.3h0M284.9 233.4h0M268.8 244.9h0M306.8 259.2h0M301.3 254.6h0M296.7 266.7h0M283.2 233.1h0M297.1 263.9h0M323 257.9h0M279.3 245h0M281.3 254.1h0M302.8 248.2h0M322.2 254.4h0M303.6 238h0M309.3 227.4h0M329.8 243.4h0M298.4 247h0M269.7 260.5h0M285.5 244h0M295.6 225.7h0M291.8 242.3h0M300.8 248.7h0M305.5 254.5h0M274.6 261.3h0M310.5 251.8h0M334.2 229.8h0M308.7 245.6h0M312.9 254.6h0M303.3 246.5h0M292.8 252.4h0M291.2 261.1h0M285 266.6h0M311.6 253.3h0M275.9 259h0M272.3 259.4h0M325.3 239.3h0M300.6 265h0M298.5 261.5h0M288 245.6h0M309.5 256.9h0M304.1 232.3h0M287.8 242.4h0M297.3 247.2h0M336.8 238.5h0M289.5 238.5h0M298.4 243.6h0M308.1 265.7h0M290.7 250.8h0M313.6 260h0M285.2 263.9h0M288.4 245.5h0M298.4 255.4h0M316 249.5h0M292.1 252.6h0M301 232.5h0M308.6 248.8h0M289 232.9h0M277.1 260.1h0M306 254.1h0M290 229.5h0M319.9 236.7h0M276.6 226.2h0M288.4 252.3h0M287 253.4h0M303.8 247.1h0M299.1 233.1h0M310.5 239h0M295.6 257.7h0M299.3 248.8h0M299.8 243.3h0M295.1 250.6h0M263.4 261.5h0M320.9 256.7h0M279.9 238.3h0M295.6 244.6h0M310.3 249.5h0M301.9 245.7h0M297.4 243.6h0M317.4 251.9h0M303.6 261.8h0M291.2 238.5h0M308.3 260.4h0M292.2 254.6h0M317.7 263.1h0M288.7 252.4h0M291.4 260.8h0M292.4 260.5h0M276.7 258.2h0M285.6 237h0M306.3 248.8h0M277.2 254.1h0M310.8 255.1h0M289.9 246.1h0M302.1 256.3h0M308.5 240.6h0M278.6 263.9h0M295.6 254.1h0M294.4 264.4h0M295.9 252.8h0M304.5 249.9h0M324 239.6h0M316 245.8h0M297 246.4h0M301 263h0M301.7 248.3h0M293.8 250.4h0M285.3 260.9h0M320.7 254.7h0M317.5 260.2h0M293.5 262.6h0M296.7 250.5h0M291.6 258.5h0M309.5 249.6h0M308.3 256h0M293 257.3h0M336.1 257.8h0M290.3 233h0M273.6 254.8h0M282.9 241.2h0M275 235.6h0M308.2 260h0M277.9 254.8h0M299.1 263.3h0M271.7 257.2h0M301.8 258.8h0M318.5 252h0M307.3 238.4h0M286.4 260.5h0M288 250.8h0M304.7 259.8h0M287.6 256.2h0M294.7 253.9h0M302.4 267.3h0M284.3 260.2h0M281.9 249.7h0M278.7 262.9h0M292.1 234.7h0M312.8 263.9h0M277.9 234.1h0M308.7 253.2h0M322.6 260.2h0M274.7 265.8h0M294.1 252.4h0M296.9 252h0M271.1 237.6h0M283.8 258.4h0M298.5 236h0M321.5 243.2h0M309.3 252.3h0M297.7 248.5h0M306.6 253.9h0M318.6 233.8h0M279.8 239.7h0M280.2 249.5h0M283.9 227.6h0M299.3 244.1h0M270.7 251.7h0M305.5 255.8h0M283.9 261.4h0M303.7 250.7h0M318.1 234.1h0M298.6 265h0M330.1 243.4h0M318.8 236h0M297.2 249.5h0M293.4 241.9h0M322.4 239.1h0M288.4 236.9h0M299.5 250.1h0M309.6 243.1h0M301.1 236.8h0M289.5 250.9h0M290.6 258.6h0M288.8 255.5h0M294.7 266.5h0M339.7 231.8h0M305.8 251.7h0M284.8 239.9h0M296.6 245.8h0M313.7 252.3h0M264.5 262.9h0M298.1 233.5h0M317.9 230.4h0M286.5 254.5h0M318.5 258.1h0M281.6 256.3h0M339.1 253.1h0M297.1 239.8h0M292.1 253.5h0" stroke="#727272" stroke-width="1.0" stroke-linecap="square" fill="none"/>
<path d="M321.4 236.9h0M359.8 237.4h0M334.9 259h0M317.4 230h0M362.8 240.2h0M349.9 268.7h0M313.6 234.9h0M331 241.5h0M337.4 244.2h0M320.7 232.3h0M316.6 234.8h0M321.3 232.9h0M350.8 244.9h0M319.5 245h0M343.9 256.6h0M333 233.2h0M333.6 267.6h0M344.6 270.2h0M316.5 269.9h0M365.2 267.1h0M351.4 260.8h0M349.4 261.9h0M318.1 236.4h0M337.1 242.5h0M335.4 246.7h0M340.9 257.6h0M322.9 266.7h0M363.2 269.5h0M324 235.4h0M363.4 232.4h0M352.9 232.1h0M314.2 235h0M349.9 254.4h0M346.2 252.3h0M342 261.3h0M336.1 257.9h0M332.7 269.4h0M319.8 250.1h0M348.3 243.9h0M351.8 239.6h0M325.7 243.1h0M325.1 268.2h0M323.4 249.6h0M329 256.8h0M345.4 233.9h0M319.8 253.4h0M327.8 234.3h0M316.7 266.7h0M334.9 238h0M320.2 252.7h0" stroke="#999" stroke-width="1.0" stroke-linecap="square" fill="none"/>
<rect x="259.5" y="181.5" width="116" height="102" fill="none" stroke="#404040" stroke-width="1.1"/>
<path d="M300.5 181.5V283.5M259.5 261.5H375.5" stroke="#505050" stroke-width="1" fill="none"/>
<path d="M259.5 283v4M259.5 283.5h-4M268.5 283v2.5M259.5 275.5h-2.5M273.5 283v2.5M259.5 270.5h-2.5M276.5 283v2.5M259.5 267.5h-2.5M279.5 283v2.5M259.5 265.5h-2.5M282.5 283v2.5M259.5 263.5h-2.5M284.5 283v2.5M259.5 261.5h-2.5M285.5 283v2.5M259.5 259.5h-2.5M287.5 283v2.5M259.5 258.5h-2.5M288.5 283v4M259.5 257.5h-4M297.5 283v2.5M259.5 249.5h-2.5M302.5 283v2.5M259.5 245.5h-2.5M305.5 283v2.5M259.5 242.5h-2.5M308.5 283v2.5M259.5 239.5h-2.5M311.5 283v2.5M259.5 237.5h-2.5M313.5 283v2.5M259.5 235.5h-2.5M314.5 283v2.5M259.5 234.5h-2.5M316.5 283v2.5M259.5 233.5h-2.5M317.5 283v4M259.5 232.5h-4M326.5 283v2.5M259.5 224.5h-2.5M331.5 283v2.5M259.5 219.5h-2.5M334.5 283v2.5M259.5 216.5h-2.5M337.5 283v2.5M259.5 214.5h-2.5M340.5 283v2.5M259.5 212.5h-2.5M342.5 283v2.5M259.5 210.5h-2.5M343.5 283v2.5M259.5 208.5h-2.5M345.5 283v2.5M259.5 207.5h-2.5M346.5 283v4M259.5 206.5h-4M355.5 283v2.5M259.5 198.5h-2.5M360.5 283v2.5M259.5 194.5h-2.5M363.5 283v2.5M259.5 191.5h-2.5M366.5 283v2.5M259.5 188.5h-2.5M369.5 283v2.5M259.5 186.5h-2.5M371.5 283v2.5M259.5 184.5h-2.5M372.5 283v2.5M259.5 183.5h-2.5M374.5 283v2.5M259.5 182.5h-2.5M375.5 283v4M259.5 181h-4" stroke="#333" stroke-width="1" fill="none"/>
<text x="260.3" y="299.3" font-size="9.2" text-anchor="middle" fill="#6a6a6a">10<tspan font-size="8.1" dy="-4.5">0</tspan></text>
<text x="252.1" y="281.4" font-size="9.2" text-anchor="middle" fill="#6a6a6a" transform="rotate(-90 252.1 281.4)">10<tspan font-size="8.1" dy="-4.5">0</tspan></text>
<text x="289.3" y="299.3" font-size="9.2" text-anchor="middle" fill="#6a6a6a">10<tspan font-size="8.1" dy="-4.5">1</tspan></text>
<text x="252.1" y="255.9" font-size="9.2" text-anchor="middle" fill="#6a6a6a" transform="rotate(-90 252.1 255.9)">10<tspan font-size="8.1" dy="-4.5">1</tspan></text>
<text x="318.3" y="299.3" font-size="9.2" text-anchor="middle" fill="#6a6a6a">10<tspan font-size="8.1" dy="-4.5">2</tspan></text>
<text x="252.1" y="230.4" font-size="9.2" text-anchor="middle" fill="#6a6a6a" transform="rotate(-90 252.1 230.4)">10<tspan font-size="8.1" dy="-4.5">2</tspan></text>
<text x="347.3" y="299.3" font-size="9.2" text-anchor="middle" fill="#6a6a6a">10<tspan font-size="8.1" dy="-4.5">3</tspan></text>
<text x="252.1" y="204.9" font-size="9.2" text-anchor="middle" fill="#6a6a6a" transform="rotate(-90 252.1 204.9)">10<tspan font-size="8.1" dy="-4.5">3</tspan></text>
<text x="376.3" y="299.3" font-size="9.2" text-anchor="middle" fill="#6a6a6a">10<tspan font-size="8.1" dy="-4.5">4</tspan></text>
<text x="252.1" y="179.4" font-size="9.2" text-anchor="middle" fill="#6a6a6a" transform="rotate(-90 252.1 179.4)">10<tspan font-size="8.1" dy="-4.5">4</tspan></text>
<text x="320.2" y="175.6" font-size="13.2" font-weight="bold" stroke="#000" stroke-width="0.25" text-anchor="middle">F-MuLV-Tr/Tr</text>
<text x="266.5" y="193.7" font-size="10.1" font-weight="bold" stroke="#000" stroke-width="0.25">9.1%</text>
<text x="373.5" y="193.5" font-size="10.1" font-weight="bold" stroke="#000" stroke-width="0.25" text-anchor="end">6.2%</text>
<text x="373.3" y="279" font-size="10.1" font-weight="bold" stroke="#000" stroke-width="0.25" text-anchor="end">18.9%</text>
<text x="67.9" y="80.6" font-size="13" font-weight="bold" stroke="#000" stroke-width="0.25" text-anchor="middle" transform="rotate(-90 67.9 80.6)">cKit-PE</text>
<text x="62.1" y="244.5" font-size="13" font-weight="bold" stroke="#000" stroke-width="0.25" text-anchor="middle" transform="rotate(-90 62.1 244.5)">cKit-PE</text>
<text x="192.5" y="152.5" font-size="13" font-weight="bold" stroke="#000" stroke-width="0.25">Sca-1-APC</text>
<text x="196.9" y="316.9" font-size="13" font-weight="bold" stroke="#000" stroke-width="0.25">Sca-1-APC</text>
<path d="M33.6 354V494H200.5" fill="none" stroke="#000" stroke-width="2"/>
<path d="M33.6 482.8h-3M33.6 459.4h-3M33.6 436.1h-3M33.6 412.8h-3M33.6 389.4h-3M33.6 366.1h-3M33.6 471.1h-1.8M33.6 447.8h-1.8M33.6 424.4h-1.8M33.6 401.1h-1.8M33.6 377.7h-1.8M33.6 354.4h-1.8M50.6 494v3M83.9 494v3M117.2 494v3M150.4 494v3M183.7 494v3M67.2 494v1.8M100.5 494v1.8M133.8 494v1.8M167.1 494v1.8M200.3 494v1.8" stroke="#000" stroke-width="1.6" fill="none"/>
<text x="29" y="486.4" font-size="10.2" font-weight="bold" stroke="#000" stroke-width="0.25" text-anchor="end">0</text>
<text x="29" y="463.1" font-size="10.2" font-weight="bold" stroke="#000" stroke-width="0.25" text-anchor="end">20</text>
<text x="29" y="439.7" font-size="10.2" font-weight="bold" stroke="#000" stroke-width="0.25" text-anchor="end">40</text>
<text x="29" y="416.4" font-size="10.2" font-weight="bold" stroke="#000" stroke-width="0.25" text-anchor="end">60</text>
<text x="29" y="393" font-size="10.2" font-weight="bold" stroke="#000" stroke-width="0.25" text-anchor="end">80</text>
<text x="29" y="369.7" font-size="10.2" font-weight="bold" stroke="#000" stroke-width="0.25" text-anchor="end">100</text>
<text x="51.2" y="508.6" font-size="10.2" font-weight="bold" stroke="#000" stroke-width="0.25" text-anchor="middle">0</text>
<text x="84.5" y="508.6" font-size="10.2" font-weight="bold" stroke="#000" stroke-width="0.25" text-anchor="middle">5</text>
<text x="119.6" y="508.6" font-size="10.2" font-weight="bold" stroke="#000" stroke-width="0.25" text-anchor="middle">10</text>
<text x="152.8" y="508.6" font-size="10.2" font-weight="bold" stroke="#000" stroke-width="0.25" text-anchor="middle">15</text>
<text x="186.1" y="508.6" font-size="10.2" font-weight="bold" stroke="#000" stroke-width="0.25" text-anchor="middle">20</text>
<text x="115.6" y="519.6" font-size="10.9" font-weight="bold" stroke="#000" stroke-width="0.25" text-anchor="middle">Weeks after spleen cells injection</text>
<text x="12.2" y="422.6" font-size="10.8" font-weight="bold" stroke="#000" stroke-width="0.25" text-anchor="middle" transform="rotate(-90 12.2 422.6)">Survival (%)</text>
<path d="M57 366H84V386H91V405H97V444H110V463H124V483" fill="none" stroke="#000" stroke-width="2" stroke-dasharray="7 8" stroke-linecap="butt"/>
<path d="M57 366H91V381H97V395H104V424H110V439H117V468H124V483H184" fill="none" stroke="#8a8a8a" stroke-width="2" stroke-linecap="butt"/>
<rect x="131.3" y="357.2" width="85.6" height="39" fill="none" stroke="#333" stroke-width="1.2"/>
<path d="M139.4 371.2h6.2M152.9 371.2h2.5" stroke="#000" stroke-width="2.2"/>
<path d="M137.5 385.2h18.3" stroke="#808080" stroke-width="2"/>
<text x="159.6" y="374.4" font-size="10.6" font-weight="bold" stroke="#000" stroke-width="0.25">H/H-cKit<tspan font-size="7" dy="-4">+</tspan></text>
<text x="159.8" y="388.5" font-size="10.6" font-weight="bold" stroke="#000" stroke-width="0.25">Tr/Tr-cKit<tspan font-size="7" dy="-4">+</tspan></text>
<path d="M278.7 355.5V495.8H453.8" fill="none" stroke="#000" stroke-width="2"/>
<path d="M278.7 484.8h-3M278.7 461.5h-3M278.7 438.2h-3M278.7 414.8h-3M278.7 391.5h-3M278.7 368.2h-3M278.7 473.1h-1.8M278.7 449.8h-1.8M278.7 426.5h-1.8M278.7 403.2h-1.8M278.7 379.9h-1.8M278.7 356.5h-1.8M293.5 495.8v3M322.8 495.8v3M352 495.8v3M381.2 495.8v3M410.5 495.8v3M439.8 495.8v3M308.1 495.8v1.8M337.4 495.8v1.8M366.6 495.8v1.8M395.9 495.8v1.8M425.1 495.8v1.8M454.4 495.8v1.8" stroke="#000" stroke-width="1.6" fill="none"/>
<text x="273.6" y="488.4" font-size="10.2" font-weight="bold" stroke="#000" stroke-width="0.25" text-anchor="end">0</text>
<text x="273.6" y="465.1" font-size="10.2" font-weight="bold" stroke="#000" stroke-width="0.25" text-anchor="end">20</text>
<text x="273.6" y="441.8" font-size="10.2" font-weight="bold" stroke="#000" stroke-width="0.25" text-anchor="end">40</text>
<text x="273.6" y="418.4" font-size="10.2" font-weight="bold" stroke="#000" stroke-width="0.25" text-anchor="end">60</text>
<text x="273.6" y="395.1" font-size="10.2" font-weight="bold" stroke="#000" stroke-width="0.25" text-anchor="end">80</text>
<text x="273.6" y="371.8" font-size="10.2" font-weight="bold" stroke="#000" stroke-width="0.25" text-anchor="end">100</text>
<text x="294.1" y="510.8" font-size="10.2" font-weight="bold" stroke="#000" stroke-width="0.25" text-anchor="middle">0</text>
<text x="323.4" y="510.8" font-size="10.2" font-weight="bold" stroke="#000" stroke-width="0.25" text-anchor="middle">5</text>
<text x="354.4" y="510.8" font-size="10.2" font-weight="bold" stroke="#000" stroke-width="0.25" text-anchor="middle">10</text>
<text x="383.6" y="510.8" font-size="10.2" font-weight="bold" stroke="#000" stroke-width="0.25" text-anchor="middle">15</text>
<text x="412.9" y="510.8" font-size="10.2" font-weight="bold" stroke="#000" stroke-width="0.25" text-anchor="middle">20</text>
<text x="442.1" y="510.8" font-size="10.2" font-weight="bold" stroke="#000" stroke-width="0.25" text-anchor="middle">25</text>
<text x="370" y="522.6" font-size="10.9" font-weight="bold" stroke="#000" stroke-width="0.25" text-anchor="middle">Weeks after cell line injection</text>
<text x="256.3" y="422" font-size="10.8" font-weight="bold" stroke="#000" stroke-width="0.25" text-anchor="middle" transform="rotate(-90 256.3 422)">Survival (%)</text>
<path d="M299 368H311V407H317V426H323V485H440" fill="none" stroke="#000" stroke-width="2" stroke-linecap="butt"/>
<path d="M299 368H323V397H329V426H334V485H440" fill="none" stroke="#8a8a8a" stroke-width="2" stroke-linecap="butt"/>
<path d="M299 368H329V407H340V426H346V485H440" fill="none" stroke="#000" stroke-width="2" stroke-dasharray="7 7.5" stroke-linecap="butt"/>
<path d="M299 368H375V392H387V415H393V438H410V485H440" fill="none" stroke="#6e6e6e" stroke-width="2" stroke-dasharray="2 1.7" stroke-linecap="butt"/>
<path d="M299 368H381V392H416V415H428V438H434V485H440" fill="none" stroke="#1a1a1a" stroke-width="2" stroke-dasharray="6.2 1.8" stroke-linecap="butt"/>
<rect x="426.3" y="347.4" width="70.5" height="59.5" fill="none" stroke="#333" stroke-width="1.2"/>
<path d="M431.5 356.6h16.2" stroke="#000" stroke-width="2.2"/>
<path d="M431.5 367.4h16.2" stroke="#8a8a8a" stroke-width="1.8"/>
<path d="M430.6 377.2h16.5" stroke="#000" stroke-width="2.2" stroke-dasharray="7 3.5"/>
<path d="M431.5 387.7h16" stroke="#999" stroke-width="1.5" stroke-dasharray="1.5 1.8"/>
<path d="M431.5 397.2h16" stroke="#1a1a1a" stroke-width="2" stroke-dasharray="6.2 1.8"/>
<text x="457.4" y="360.8" font-size="10.7" font-weight="bold" stroke="#000" stroke-width="0.25">CB3</text>
<text x="457.4" y="371.4" font-size="10.7" font-weight="bold" stroke="#000" stroke-width="0.25">H9</text>
<text x="457.4" y="381.3" font-size="10.7" font-weight="bold" stroke="#000" stroke-width="0.25">HB60.5</text>
<text x="457.4" y="392.2" font-size="10.7" font-weight="bold" stroke="#000" stroke-width="0.25">T5</text>
<text x="457.4" y="402.4" font-size="10.7" font-weight="bold" stroke="#000" stroke-width="0.25">T6</text>
<path d="M30.4 558.8V700H205" fill="none" stroke="#000" stroke-width="2"/>
<path d="M30.4 687.6h-3M30.4 664.3h-3M30.4 641.1h-3M30.4 617.8h-3M30.4 594.5h-3M30.4 571.2h-3M30.4 676h-1.8M30.4 652.7h-1.8M30.4 629.4h-1.8M30.4 606.2h-1.8M30.4 582.9h-1.8M30.4 559.6h-1.8M40.6 700v3M61.1 700v3M81.7 700v3M102.2 700v3M122.8 700v3M143.3 700v3M163.9 700v3M184.4 700v3M205 700v3M50.8 700v1.8M71.4 700v1.8M91.9 700v1.8M112.5 700v1.8M133.1 700v1.8M153.6 700v1.8M174.2 700v1.8M194.7 700v1.8" stroke="#000" stroke-width="1.6" fill="none"/>
<text x="28.4" y="691.2" font-size="10.2" font-weight="bold" stroke="#000" stroke-width="0.25" text-anchor="end">0</text>
<text x="28.4" y="667.9" font-size="10.2" font-weight="bold" stroke="#000" stroke-width="0.25" text-anchor="end">20</text>
<text x="28.4" y="644.7" font-size="10.2" font-weight="bold" stroke="#000" stroke-width="0.25" text-anchor="end">40</text>
<text x="28.4" y="621.4" font-size="10.2" font-weight="bold" stroke="#000" stroke-width="0.25" text-anchor="end">60</text>
<text x="28.4" y="598.1" font-size="10.2" font-weight="bold" stroke="#000" stroke-width="0.25" text-anchor="end">80</text>
<text x="28.4" y="574.9" font-size="10.2" font-weight="bold" stroke="#000" stroke-width="0.25" text-anchor="end">100</text>
<text x="40.9" y="714.7" font-size="10.2" font-weight="bold" stroke="#000" stroke-width="0.25" text-anchor="middle">0</text>
<text x="61.4" y="714.7" font-size="10.2" font-weight="bold" stroke="#000" stroke-width="0.25" text-anchor="middle">5</text>
<text x="82.7" y="714.7" font-size="10.2" font-weight="bold" stroke="#000" stroke-width="0.25" text-anchor="middle">10</text>
<text x="103.1" y="714.7" font-size="10.2" font-weight="bold" stroke="#000" stroke-width="0.25" text-anchor="middle">15</text>
<text x="123.6" y="714.7" font-size="10.2" font-weight="bold" stroke="#000" stroke-width="0.25" text-anchor="middle">20</text>
<text x="144.3" y="714.7" font-size="10.2" font-weight="bold" stroke="#000" stroke-width="0.25" text-anchor="middle">25</text>
<text x="164.5" y="714.7" font-size="10.2" font-weight="bold" stroke="#000" stroke-width="0.25" text-anchor="middle">30</text>
<text x="185" y="714.7" font-size="10.2" font-weight="bold" stroke="#000" stroke-width="0.25" text-anchor="middle">35</text>
<text x="205.5" y="714.7" font-size="10.2" font-weight="bold" stroke="#000" stroke-width="0.25" text-anchor="middle">40</text>
<text x="115" y="726.3" font-size="10.9" font-weight="bold" stroke="#000" stroke-width="0.25" text-anchor="middle">Weeks after spleen cells injection</text>
<text x="9.5" y="635" font-size="10.8" font-weight="bold" stroke="#000" stroke-width="0.25" text-anchor="middle" transform="rotate(-90 9.5 635)">Survival (%)</text>
<path d="M45 571H65V586H69V600H73V629H78V644H82V673H86V688H184" fill="none" stroke="#6e6e6e" stroke-width="2" stroke-dasharray="2 1.7" stroke-linecap="butt"/>
<path d="M45 571H90V591H98V610H139V629H152V668H184" fill="none" stroke="#000" stroke-width="2" stroke-dasharray="7 7.8" stroke-linecap="butt"/>
<path d="M45 571H115V586H119V600H123V615H131V629H135V644H156V659H184" fill="none" stroke="#000" stroke-width="2" stroke-linecap="butt"/>
<rect x="145.7" y="561.3" width="92" height="59.3" fill="none" stroke="#333" stroke-width="1.2"/>
<path d="M150.2 571.9h17.3" stroke="#000" stroke-width="2.2"/>
<path d="M150.2 586.1h17.3" stroke="#8c8c8c" stroke-width="1.8" stroke-dasharray="1.6 1.6"/>
<path d="M149.6 599.8h6.4M164.3 599.8h2.8" stroke="#000" stroke-width="2.2"/>
<text x="171.3" y="575.5" font-size="10.6" font-weight="bold" stroke="#000" stroke-width="0.25">Tr/Tr-Sca1<tspan font-size="7" dy="-4">+</tspan></text>
<text x="171.3" y="589.3" font-size="10.6" font-weight="bold" stroke="#000" stroke-width="0.25">Tr/Tr-cKit<tspan font-size="7" dy="-4">+</tspan></text>
<text x="171.3" y="603.2" font-size="10.6" font-weight="bold" stroke="#000" stroke-width="0.25">Tr/Tr-cKit</text>
<text x="168.1" y="617.4" font-size="10.6" font-weight="bold" stroke="#000" stroke-width="0.25">+Tr/Tr-Sca1<tspan font-size="7" dy="-4">+</tspan></text>
<path d="M281.3 560V695.8H451" fill="none" stroke="#000" stroke-width="2"/>
<path d="M281.3 684.5h-3M281.3 662.1h-3M281.3 639.6h-3M281.3 617.2h-3M281.3 594.7h-3M281.3 572.3h-3M281.3 673.3h-1.8M281.3 650.8h-1.8M281.3 628.4h-1.8M281.3 606h-1.8M281.3 583.5h-1.8M281.3 561.1h-1.8M281.3 695.8v3M312.1 695.8v3M342.9 695.8v3M373.8 695.8v3M404.6 695.8v3M435.4 695.8v3M296.7 695.8v1.8M327.5 695.8v1.8M358.4 695.8v1.8M389.2 695.8v1.8M420 695.8v1.8M450.8 695.8v1.8" stroke="#000" stroke-width="1.6" fill="none"/>
<text x="274.9" y="688.1" font-size="10.2" font-weight="bold" stroke="#000" stroke-width="0.25" text-anchor="end">0</text>
<text x="274.9" y="665.7" font-size="10.2" font-weight="bold" stroke="#000" stroke-width="0.25" text-anchor="end">20</text>
<text x="274.9" y="643.2" font-size="10.2" font-weight="bold" stroke="#000" stroke-width="0.25" text-anchor="end">40</text>
<text x="274.9" y="620.8" font-size="10.2" font-weight="bold" stroke="#000" stroke-width="0.25" text-anchor="end">60</text>
<text x="274.9" y="598.3" font-size="10.2" font-weight="bold" stroke="#000" stroke-width="0.25" text-anchor="end">80</text>
<text x="274.9" y="575.9" font-size="10.2" font-weight="bold" stroke="#000" stroke-width="0.25" text-anchor="end">100</text>
<text x="282.8" y="709.8" font-size="10.2" font-weight="bold" stroke="#000" stroke-width="0.25" text-anchor="middle">0</text>
<text x="313.2" y="709.8" font-size="10.2" font-weight="bold" stroke="#000" stroke-width="0.25" text-anchor="middle">2</text>
<text x="344" y="709.8" font-size="10.2" font-weight="bold" stroke="#000" stroke-width="0.25" text-anchor="middle">4</text>
<text x="374.9" y="709.8" font-size="10.2" font-weight="bold" stroke="#000" stroke-width="0.25" text-anchor="middle">6</text>
<text x="405.7" y="709.8" font-size="10.2" font-weight="bold" stroke="#000" stroke-width="0.25" text-anchor="middle">8</text>
<text x="439" y="709.8" font-size="10.2" font-weight="bold" stroke="#000" stroke-width="0.25" text-anchor="middle">10</text>
<text x="370" y="720.6" font-size="10.9" font-weight="bold" stroke="#000" stroke-width="0.25" text-anchor="middle">Weeks after cell line injection</text>
<text x="260.2" y="634.7" font-size="10.8" font-weight="bold" stroke="#000" stroke-width="0.25" text-anchor="middle" transform="rotate(-90 260.2 634.7)">Survival (%)</text>
<path d="M328 572V588" fill="none" stroke="#8a8a8a" stroke-width="2" stroke-dasharray="7.7 4.7" stroke-linecap="butt"/>
<path d="M328 588V684H435" fill="none" stroke="#8a8a8a" stroke-width="2" stroke-linecap="butt"/>
<path d="M297 572H312V588H328" fill="none" stroke="#000" stroke-width="2" stroke-linecap="butt"/>
<path d="M328 588V684H435" fill="none" stroke="#000" stroke-width="2" stroke-dasharray="7.5 4.6" stroke-linecap="butt"/>
<path d="M358 572H358V586H374V614H389V628H420V656H435" fill="none" stroke="#000" stroke-width="2.1" stroke-dasharray="2 1.6" stroke-linecap="butt"/>
<path d="M297 572H435" fill="none" stroke="#8a8a8a" stroke-width="2" stroke-linecap="butt"/>
<rect x="427.4" y="576.6" width="91.8" height="52.7" fill="none" stroke="#333" stroke-width="1.2"/>
<path d="M431.3 586.3h14.7" stroke="#000" stroke-width="2.2"/>
<path d="M431.3 598.4h7.8M443.8 598.4h2.4" stroke="#999" stroke-width="1.8"/>
<path d="M431.3 609.1h14.7" stroke="#000" stroke-width="2" stroke-dasharray="1.6 1.6"/>
<path d="M431.3 621.8h14.7" stroke="#8a8a8a" stroke-width="1.8"/>
<text x="449.8" y="588.3" font-size="10.6" font-weight="bold" stroke="#000" stroke-width="0.25">CB3</text>
<text x="449.8" y="600.8" font-size="10.6" font-weight="bold" stroke="#000" stroke-width="0.25">CB3+T6MMC</text>
<text x="449.8" y="614.4" font-size="10.6" font-weight="bold" stroke="#000" stroke-width="0.25">CB3+T6</text>
<text x="449.8" y="625.8" font-size="10.6" font-weight="bold" stroke="#000" stroke-width="0.25">T6</text>
</svg>
</body></html>
